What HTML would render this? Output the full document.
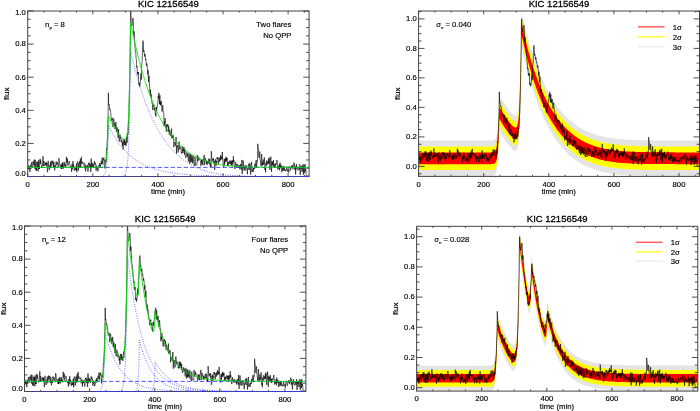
<!DOCTYPE html>
<html lang="en"><head><meta charset="utf-8"><title>KIC 12156549 flare fits</title>
<style>html,body{margin:0;padding:0;background:#fff}svg{display:block}svg text{stroke:#000;stroke-width:.16px}svg text.t{stroke-width:.28px}</style></head>
<body>
<svg width="700" height="411" viewBox="0 0 700 411" font-family="&quot;Liberation Sans&quot;, sans-serif" font-size="7.7" fill="#000">
<rect width="700" height="411" fill="#fff"/>
<defs>
<clipPath id="c1"><rect x="27.7" y="11.0" width="281.4" height="166.0"/></clipPath>
<clipPath id="c2"><rect x="418.6" y="11.0" width="280.9" height="165.9"/></clipPath>
<clipPath id="c3"><rect x="24.5" y="226.0" width="281.4" height="166.0"/></clipPath>
<clipPath id="c4"><rect x="416.6" y="226.3" width="281.2" height="165.3"/></clipPath>
</defs>
<g clip-path="url(#c1)">
<path d="M27.7 160.6 L28.0 168.4 L28.4 169.4 L28.7 165.7 L29.0 168.4 L29.3 166.7 L29.7 167.1 L30.0 172.1 L30.3 164.8 L30.6 165.3 L31.0 168.7 L31.3 164.4 L31.6 162.3 L31.9 166.1 L32.3 166.6 L32.6 167.7 L32.9 161.7 L33.2 163.0 L33.6 161.9 L33.9 165.3 L34.2 159.6 L34.5 165.0 L34.9 168.7 L35.2 159.9 L35.5 165.8 L35.8 170.2 L36.2 167.7 L36.5 171.0 L36.8 161.7 L37.1 166.5 L37.5 165.0 L37.8 162.0 L38.1 171.3 L38.4 160.3 L38.8 169.1 L39.1 166.4 L39.4 169.0 L39.7 161.2 L40.1 158.8 L40.4 163.8 L40.7 160.3 L41.0 164.3 L41.4 164.8 L41.7 167.3 L42.0 167.5 L42.3 166.9 L42.7 162.1 L43.0 156.3 L43.3 163.3 L43.6 166.0 L44.0 161.2 L44.3 165.8 L44.6 165.4 L45.0 165.0 L45.3 164.8 L45.6 162.8 L45.9 165.4 L46.3 162.1 L46.6 165.7 L46.9 163.2 L47.2 168.7 L47.6 172.2 L47.9 166.1 L48.2 160.8 L48.5 166.5 L48.9 167.9 L49.2 169.2 L49.5 170.1 L49.8 164.9 L50.2 166.6 L50.5 161.6 L50.8 168.2 L51.1 167.5 L51.5 163.1 L51.8 160.7 L52.1 164.5 L52.4 162.3 L52.8 160.8 L53.1 163.1 L53.4 168.0 L53.7 161.8 L54.1 162.4 L54.4 167.0 L54.7 170.3 L55.0 165.0 L55.4 167.7 L55.7 168.0 L56.0 161.7 L56.3 161.4 L56.7 164.8 L57.0 162.7 L57.3 162.3 L57.6 164.0 L58.0 166.1 L58.3 167.2 L58.6 165.4 L58.9 158.2 L59.3 161.2 L59.6 164.0 L59.9 165.5 L60.2 166.5 L60.6 165.7 L60.9 164.6 L61.2 169.0 L61.6 164.7 L61.9 169.0 L62.2 163.0 L62.5 168.1 L62.9 162.3 L63.2 167.6 L63.5 168.5 L63.8 166.1 L64.2 162.0 L64.5 162.2 L64.8 166.5 L65.1 163.9 L65.5 165.4 L65.8 167.4 L66.1 166.9 L66.4 156.8 L66.8 162.2 L67.1 162.8 L67.4 158.6 L67.7 164.5 L68.1 165.6 L68.4 163.9 L68.7 162.5 L69.0 160.9 L69.4 161.6 L69.7 163.9 L70.0 165.8 L70.3 166.3 L70.7 167.8 L71.0 166.4 L71.3 168.0 L71.6 171.7 L72.0 164.1 L72.3 168.4 L72.6 169.3 L72.9 161.1 L73.3 166.5 L73.6 164.7 L73.9 166.7 L74.2 170.0 L74.6 170.9 L74.9 168.3 L75.2 166.8 L75.5 170.0 L75.9 168.2 L76.2 170.1 L76.5 163.5 L76.9 172.3 L77.2 165.1 L77.5 161.5 L77.8 162.8 L78.2 163.0 L78.5 170.5 L78.8 164.2 L79.1 162.3 L79.5 161.3 L79.8 167.6 L80.1 163.6 L80.4 158.9 L80.8 167.3 L81.1 159.8 L81.4 156.9 L81.7 163.5 L82.1 161.6 L82.4 163.2 L82.7 163.3 L83.0 164.2 L83.4 164.1 L83.7 163.8 L84.0 162.5 L84.3 168.3 L84.7 167.7 L85.0 164.4 L85.3 164.5 L85.6 171.5 L86.0 166.1 L86.3 168.1 L86.6 166.8 L86.9 167.7 L87.3 164.8 L87.6 168.7 L87.9 171.6 L88.2 171.1 L88.6 163.0 L88.9 164.2 L89.2 162.6 L89.5 164.5 L89.9 167.9 L90.2 164.0 L90.5 168.8 L90.8 171.9 L91.2 158.5 L91.5 168.2 L91.8 163.3 L92.1 162.7 L92.5 163.7 L92.8 167.0 L93.1 164.0 L93.5 167.9 L93.8 168.1 L94.1 163.0 L94.4 161.4 L94.8 164.3 L95.1 162.5 L95.4 164.1 L95.7 164.0 L96.1 170.7 L96.4 166.1 L96.7 165.7 L97.0 168.6 L97.4 166.9 L97.7 171.2 L98.0 171.1 L98.3 168.9 L98.7 168.7 L99.0 165.1 L99.3 165.9 L99.6 163.0 L100.0 167.4 L100.3 165.0 L100.6 165.9 L100.9 163.3 L101.3 160.9 L101.6 164.2 L101.9 161.0 L102.2 157.6 L102.6 162.3 L102.9 164.6 L103.2 158.4 L103.5 159.4 L103.9 157.6 L104.2 160.6 L104.5 160.2 L104.8 168.4 L105.2 164.8 L105.5 160.4 L105.8 159.5 L106.1 162.4 L106.5 148.6 L106.8 149.6 L107.1 141.3 L107.4 139.9 L107.8 123.8 L108.1 115.2 L108.4 92.8 L108.7 105.0 L109.1 104.4 L109.4 106.8 L109.7 109.7 L110.1 108.9 L110.4 110.7 L110.7 112.3 L111.0 117.5 L111.4 120.6 L111.7 119.8 L112.0 117.7 L112.3 117.9 L112.7 120.0 L113.0 127.2 L113.3 121.2 L113.6 118.6 L114.0 120.2 L114.3 124.9 L114.6 123.5 L114.9 129.0 L115.3 125.3 L115.6 126.2 L115.9 121.9 L116.2 127.2 L116.6 132.1 L116.9 127.2 L117.2 127.9 L117.5 131.8 L117.9 134.4 L118.2 138.1 L118.5 129.0 L118.8 134.3 L119.2 141.4 L119.5 141.3 L119.8 137.3 L120.1 134.8 L120.5 138.2 L120.8 137.6 L121.1 142.2 L121.4 141.3 L121.8 139.5 L122.1 142.5 L122.4 145.6 L122.7 141.6 L123.1 149.5 L123.4 145.6 L123.7 140.9 L124.0 138.8 L124.4 144.7 L124.7 139.2 L125.0 145.0 L125.4 141.6 L125.7 144.0 L126.0 146.0 L126.3 142.4 L126.7 136.7 L127.0 143.1 L127.3 139.9 L127.6 133.4 L128.0 134.4 L128.3 132.1 L128.6 119.6 L128.9 116.0 L129.3 94.7 L129.6 84.5 L129.9 71.3 L130.2 47.7 L130.6 11.0 L130.9 11.4 L131.2 23.7 L131.5 24.6 L131.9 25.3 L132.2 25.9 L132.5 22.1 L132.8 18.0 L133.2 18.5 L133.5 25.5 L133.8 36.1 L134.1 31.5 L134.5 38.6 L134.8 44.5 L135.1 48.8 L135.4 50.7 L135.8 53.1 L136.1 58.9 L136.4 59.5 L136.7 67.3 L137.1 66.1 L137.4 73.6 L137.7 72.2 L138.0 74.9 L138.4 72.0 L138.7 83.2 L139.0 85.1 L139.3 82.8 L139.7 86.6 L140.0 85.6 L140.3 82.4 L140.6 78.7 L141.0 73.6 L141.3 79.7 L141.6 65.7 L142.0 62.6 L142.3 58.1 L142.6 45.5 L142.9 40.6 L143.3 41.5 L143.6 52.0 L143.9 50.3 L144.2 52.3 L144.6 56.5 L144.9 54.0 L145.2 54.9 L145.5 60.1 L145.9 59.2 L146.2 62.5 L146.5 65.8 L146.8 63.4 L147.2 65.3 L147.5 70.3 L147.8 74.6 L148.1 70.2 L148.5 82.1 L148.8 78.0 L149.1 75.7 L149.4 83.0 L149.8 90.1 L150.1 93.7 L150.4 89.6 L150.7 96.4 L151.1 94.1 L151.4 96.0 L151.7 101.1 L152.0 103.7 L152.4 103.4 L152.7 110.0 L153.0 108.2 L153.3 105.6 L153.7 106.2 L154.0 104.6 L154.3 110.3 L154.6 108.5 L155.0 108.1 L155.3 114.7 L155.6 113.9 L155.9 116.5 L156.3 107.0 L156.6 110.5 L156.9 108.6 L157.2 106.2 L157.6 104.2 L157.9 102.1 L158.2 95.8 L158.6 98.3 L158.9 92.8 L159.2 97.9 L159.5 103.9 L159.9 95.3 L160.2 104.9 L160.5 101.9 L160.8 105.4 L161.2 100.9 L161.5 103.5 L161.8 108.6 L162.1 111.6 L162.5 107.5 L162.8 105.2 L163.1 110.6 L163.4 112.7 L163.8 114.3 L164.1 126.2 L164.4 121.8 L164.7 124.2 L165.1 118.1 L165.4 124.8 L165.7 126.3 L166.0 126.3 L166.4 131.5 L166.7 124.4 L167.0 126.9 L167.3 124.5 L167.7 125.5 L168.0 124.5 L168.3 131.3 L168.6 126.2 L169.0 128.4 L169.3 134.7 L169.6 129.9 L169.9 131.1 L170.3 133.1 L170.6 136.0 L170.9 136.1 L171.2 133.1 L171.6 128.6 L171.9 138.6 L172.2 136.0 L172.5 138.0 L172.9 135.1 L173.2 135.3 L173.5 135.3 L173.8 147.2 L174.2 143.5 L174.5 142.2 L174.8 142.9 L175.2 144.3 L175.5 145.7 L175.8 141.3 L176.1 137.0 L176.5 153.6 L176.8 146.5 L177.1 147.3 L177.4 145.0 L177.8 147.1 L178.1 152.5 L178.4 151.7 L178.7 144.3 L179.1 141.6 L179.4 143.8 L179.7 149.4 L180.0 147.7 L180.4 146.7 L180.7 147.0 L181.0 149.3 L181.3 153.1 L181.7 152.3 L182.0 153.5 L182.3 147.3 L182.6 146.4 L183.0 153.0 L183.3 147.9 L183.6 150.9 L183.9 147.0 L184.3 149.2 L184.6 154.6 L184.9 149.3 L185.2 154.8 L185.6 157.9 L185.9 157.4 L186.2 155.7 L186.5 154.7 L186.9 152.3 L187.2 156.6 L187.5 154.2 L187.8 153.7 L188.2 159.6 L188.5 161.5 L188.8 154.3 L189.1 153.2 L189.5 159.4 L189.8 163.6 L190.1 156.1 L190.4 154.3 L190.8 162.3 L191.1 154.9 L191.4 158.2 L191.8 161.5 L192.1 157.0 L192.4 163.3 L192.7 158.6 L193.1 155.2 L193.4 159.4 L193.7 162.3 L194.0 164.9 L194.4 165.1 L194.7 166.0 L195.0 156.7 L195.3 164.0 L195.7 165.2 L196.0 165.3 L196.3 164.8 L196.6 165.1 L197.0 164.9 L197.3 155.0 L197.6 161.0 L197.9 161.1 L198.3 160.5 L198.6 156.7 L198.9 158.4 L199.2 159.5 L199.6 159.2 L199.9 158.8 L200.2 160.7 L200.5 162.7 L200.9 165.9 L201.2 164.8 L201.5 159.8 L201.8 163.5 L202.2 159.5 L202.5 160.6 L202.8 165.2 L203.1 160.3 L203.5 158.7 L203.8 158.0 L204.1 154.9 L204.4 165.1 L204.8 162.5 L205.1 157.7 L205.4 158.8 L205.7 160.4 L206.1 160.1 L206.4 163.8 L206.7 160.8 L207.1 165.0 L207.4 161.7 L207.7 162.1 L208.0 163.1 L208.4 158.7 L208.7 159.4 L209.0 163.9 L209.3 164.0 L209.7 158.8 L210.0 160.7 L210.3 166.4 L210.6 163.6 L211.0 167.0 L211.3 151.2 L211.6 154.7 L211.9 158.4 L212.3 161.4 L212.6 160.6 L212.9 158.6 L213.2 160.5 L213.6 158.2 L213.9 163.2 L214.2 160.8 L214.5 169.9 L214.9 169.6 L215.2 163.4 L215.5 159.4 L215.8 164.5 L216.2 165.8 L216.5 161.2 L216.8 162.7 L217.1 157.0 L217.5 158.9 L217.8 157.5 L218.1 160.7 L218.4 164.3 L218.8 159.9 L219.1 158.1 L219.4 161.7 L219.7 161.0 L220.1 157.0 L220.4 160.3 L220.7 155.1 L221.0 158.8 L221.4 159.4 L221.7 156.7 L222.0 159.1 L222.3 151.9 L222.7 160.9 L223.0 161.7 L223.3 166.4 L223.7 167.6 L224.0 166.6 L224.3 158.8 L224.6 164.5 L225.0 161.0 L225.3 158.8 L225.6 161.8 L225.9 156.7 L226.3 161.3 L226.6 158.0 L226.9 160.0 L227.2 157.9 L227.6 166.1 L227.9 162.1 L228.2 164.8 L228.5 166.2 L228.9 161.6 L229.2 163.7 L229.5 163.0 L229.8 160.4 L230.2 160.8 L230.5 164.4 L230.8 160.8 L231.1 161.8 L231.5 165.1 L231.8 160.7 L232.1 166.1 L232.4 160.3 L232.8 163.6 L233.1 162.5 L233.4 156.3 L233.7 162.0 L234.1 160.5 L234.4 166.7 L234.7 167.7 L235.0 169.0 L235.4 164.0 L235.7 162.3 L236.0 165.2 L236.3 164.5 L236.7 166.9 L237.0 167.7 L237.3 165.4 L237.6 164.1 L238.0 164.3 L238.3 166.2 L238.6 167.6 L238.9 168.0 L239.3 166.0 L239.6 165.2 L239.9 169.5 L240.3 167.1 L240.6 164.0 L240.9 167.5 L241.2 168.0 L241.6 169.7 L241.9 159.9 L242.2 173.9 L242.5 170.3 L242.9 167.5 L243.2 160.5 L243.5 165.3 L243.8 168.5 L244.2 170.5 L244.5 165.9 L244.8 165.5 L245.1 170.4 L245.5 170.3 L245.8 170.0 L246.1 165.2 L246.4 166.3 L246.8 168.6 L247.1 169.1 L247.4 174.2 L247.7 168.5 L248.1 169.6 L248.4 164.8 L248.7 163.8 L249.0 168.3 L249.4 169.9 L249.7 163.1 L250.0 163.3 L250.3 167.4 L250.7 174.5 L251.0 167.4 L251.3 164.8 L251.6 161.9 L252.0 171.9 L252.3 169.9 L252.6 169.4 L252.9 168.6 L253.3 171.9 L253.6 168.1 L253.9 169.2 L254.2 167.7 L254.6 168.7 L254.9 163.8 L255.2 167.3 L255.5 164.2 L255.9 162.1 L256.2 160.0 L256.5 167.2 L256.9 163.8 L257.2 161.1 L257.5 161.2 L257.8 143.8 L258.2 149.0 L258.5 150.0 L258.8 156.6 L259.1 157.8 L259.5 153.7 L259.8 151.5 L260.1 159.5 L260.4 160.5 L260.8 165.4 L261.1 166.2 L261.4 157.1 L261.7 154.1 L262.1 165.3 L262.4 162.4 L262.7 165.4 L263.0 159.6 L263.4 160.3 L263.7 164.7 L264.0 163.0 L264.3 157.3 L264.7 165.1 L265.0 170.0 L265.3 168.0 L265.6 172.3 L266.0 162.6 L266.3 165.8 L266.6 160.4 L266.9 160.5 L267.3 164.6 L267.6 163.9 L267.9 161.4 L268.2 163.3 L268.6 158.5 L268.9 164.0 L269.2 157.7 L269.5 163.6 L269.9 169.8 L270.2 165.0 L270.5 162.8 L270.8 156.7 L271.2 165.6 L271.5 171.8 L271.8 161.4 L272.2 164.6 L272.5 161.7 L272.8 163.8 L273.1 166.5 L273.5 160.1 L273.8 166.6 L274.1 167.1 L274.4 167.9 L274.8 163.8 L275.1 167.7 L275.4 163.5 L275.7 164.7 L276.1 164.1 L276.4 164.3 L276.7 161.2 L277.0 160.0 L277.4 163.8 L277.7 169.5 L278.0 169.0 L278.3 166.2 L278.7 168.5 L279.0 167.2 L279.3 164.1 L279.6 170.3 L280.0 162.6 L280.3 164.3 L280.6 168.0 L280.9 165.3 L281.3 165.0 L281.6 169.4 L281.9 172.1 L282.2 166.5 L282.6 169.1 L282.9 170.7 L283.2 170.2 L283.5 166.1 L283.9 170.6 L284.2 170.3 L284.5 166.7 L284.8 170.7 L285.2 170.0 L285.5 171.2 L285.8 170.4 L286.1 169.3 L286.5 169.5 L286.8 166.4 L287.1 171.3 L287.4 171.5 L287.8 169.7 L288.1 168.8 L288.4 169.9 L288.8 172.6 L289.1 166.3 L289.4 166.4 L289.7 166.8 L290.1 168.0 L290.4 170.4 L290.7 170.6 L291.0 167.9 L291.4 166.4 L291.7 165.6 L292.0 167.9 L292.3 165.2 L292.7 166.8 L293.0 169.2 L293.3 166.2 L293.6 165.7 L294.0 162.6 L294.3 165.3 L294.6 164.5 L294.9 170.0 L295.3 166.2 L295.6 174.4 L295.9 168.5 L296.2 169.0 L296.6 164.2 L296.9 168.1 L297.2 168.8 L297.5 169.5 L297.9 170.4 L298.2 167.1 L298.5 168.0 L298.8 167.2 L299.2 170.0 L299.5 168.3 L299.8 164.3 L300.1 174.9 L300.5 173.2 L300.8 166.5 L301.1 168.6 L301.4 169.1 L301.8 165.8 L302.1 172.0 L302.4 168.7 L302.7 165.4 L303.1 164.2 L303.4 174.6 L303.7 166.8 L304.0 165.3 L304.4 173.1 L304.7 173.0 L305.0 164.1 L305.4 171.3 L305.7 169.4 L306.0 171.8 L306.3 176.5 L306.7 175.8 L307.0 175.8 L307.3 175.8 L307.6 175.8 L308.0 175.8 L308.3 175.8 L308.6 175.8 L308.9 175.8 L309.3 175.8" fill="none" stroke="#000" stroke-width="0.62" stroke-linejoin="round"/>
</g>
<path d="M27.70 176.50v-3.31M27.70 11.00v3.31M43.98 176.50v-1.66M43.98 11.00v1.66M60.25 176.50v-1.66M60.25 11.00v1.66M76.53 176.50v-1.66M76.53 11.00v1.66M92.80 176.50v-3.31M92.80 11.00v3.31M109.08 176.50v-1.66M109.08 11.00v1.66M125.35 176.50v-1.66M125.35 11.00v1.66M141.62 176.50v-1.66M141.62 11.00v1.66M157.90 176.50v-3.31M157.90 11.00v3.31M174.17 176.50v-1.66M174.17 11.00v1.66M190.45 176.50v-1.66M190.45 11.00v1.66M206.72 176.50v-1.66M206.72 11.00v1.66M223.00 176.50v-3.31M223.00 11.00v3.31M239.28 176.50v-1.66M239.28 11.00v1.66M255.55 176.50v-1.66M255.55 11.00v1.66M271.82 176.50v-1.66M271.82 11.00v1.66M288.10 176.50v-3.31M288.10 11.00v3.31M304.38 176.50v-1.66M304.38 11.00v1.66M27.70 176.50h5.91M309.10 176.50h-5.91M27.70 168.22h2.95M309.10 168.22h-2.95M27.70 159.95h2.95M309.10 159.95h-2.95M27.70 151.68h2.95M309.10 151.68h-2.95M27.70 143.40h5.91M309.10 143.40h-5.91M27.70 135.12h2.95M309.10 135.12h-2.95M27.70 126.85h2.95M309.10 126.85h-2.95M27.70 118.57h2.95M309.10 118.57h-2.95M27.70 110.30h5.91M309.10 110.30h-5.91M27.70 102.02h2.95M309.10 102.02h-2.95M27.70 93.75h2.95M309.10 93.75h-2.95M27.70 85.47h2.95M309.10 85.47h-2.95M27.70 77.20h5.91M309.10 77.20h-5.91M27.70 68.92h2.95M309.10 68.92h-2.95M27.70 60.65h2.95M309.10 60.65h-2.95M27.70 52.38h2.95M309.10 52.38h-2.95M27.70 44.10h5.91M309.10 44.10h-5.91M27.70 35.82h2.95M309.10 35.82h-2.95M27.70 27.55h2.95M309.10 27.55h-2.95M27.70 19.27h2.95M309.10 19.27h-2.95M27.70 11.00h5.91M309.10 11.00h-5.91" stroke="#222" stroke-width="0.8" fill="none"/>
<rect x="27.70" y="11.00" width="281.40" height="165.50" fill="none" stroke="#444" stroke-width="1"/>
<text x="27.7" y="186.8" text-anchor="middle">0</text>
<text x="92.8" y="186.8" text-anchor="middle">200</text>
<text x="157.9" y="186.8" text-anchor="middle">400</text>
<text x="223.0" y="186.8" text-anchor="middle">600</text>
<text x="288.1" y="186.8" text-anchor="middle">800</text>
<text x="168.1" y="194.3" text-anchor="middle">time (min)</text>
<text x="25.9" y="176.2" text-anchor="end">0.0</text>
<text x="25.9" y="145.7" text-anchor="end">0.2</text>
<text x="25.9" y="112.6" text-anchor="end">0.4</text>
<text x="25.9" y="79.5" text-anchor="end">0.6</text>
<text x="25.9" y="46.4" text-anchor="end">0.8</text>
<text x="25.9" y="15.4" text-anchor="end">1.0</text>
<text transform="translate(9.1 93.8) rotate(-90)" text-anchor="middle" font-size="8">flux</text>
<text x="168.4" y="6.6" class="t" text-anchor="middle" font-size="9.5" fill="#000">KIC 12156549</text>
<g clip-path="url(#c1)">
<path d="M27.7 176.5H309.1" fill="none" stroke="#3a3aff" stroke-width="0.8" stroke-dasharray="0.9 1.5"/>
<path d="M100.9 176.5 L101.1 176.5 L101.3 176.5 L101.4 176.5 L101.6 176.5 L101.8 176.3 L101.9 176.3 L102.1 176.3 L102.2 176.2 L102.4 176.2 L102.6 176.2 L102.7 176.1 L102.9 176.0 L103.1 176.0 L103.2 175.9 L103.4 175.8 L103.5 175.7 L103.7 175.6 L103.9 175.4 L104.0 175.3 L104.2 175.1 L104.4 174.9 L104.5 174.7 L104.7 174.4 L104.8 174.1 L105.0 173.7 L105.2 173.3 L105.3 172.8 L105.5 172.3 L105.7 171.7 L105.8 170.9 L106.0 170.1 L106.1 169.2 L106.3 168.1 L106.5 166.8 L106.6 165.4 L106.8 163.7 L107.0 161.8 L107.1 159.6 L107.3 157.1 L107.4 154.2 L107.6 150.9 L107.8 147.1 L107.9 142.7 L108.1 137.6 L108.3 131.8 L108.4 125.2 L108.6 125.5 L108.7 125.9 L108.9 126.2 L109.1 126.6 L109.2 126.9 L109.4 127.2 L109.6 127.6 L109.7 127.9 L109.9 128.2 L110.1 128.5 L110.2 128.9 L110.4 129.2 L110.5 129.5 L110.7 129.8 L110.9 130.1 L111.0 130.5 L111.2 130.8 L111.4 131.1 L111.5 131.4 L111.7 131.7 L111.8 132.0 L112.0 132.3 L112.2 132.6 L112.3 132.9 L112.5 133.2 L112.7 133.5 L112.8 133.8 L113.0 134.0 L113.6 135.2 L114.3 136.3 L114.9 137.3 L115.6 138.4 L116.2 139.4 L116.9 140.4 L117.5 141.4 L118.2 142.3 L118.8 143.2 L119.5 144.1 L120.1 145.0 L120.8 145.8 L121.0 146.0 L121.1 146.2 L121.3 146.4 L121.4 146.6 L121.6 146.8 L121.8 147.0 L121.9 147.2 L122.1 147.4 L122.3 147.6 L122.4 147.8 L122.6 148.0 L122.7 148.2 L122.9 148.4 L123.1 148.6 L123.2 148.8 L123.4 148.9 L123.6 149.1 L123.7 149.3 L123.9 149.5 L124.0 149.7 L124.2 149.9 L124.4 150.0 L124.5 150.2 L124.7 150.4 L124.9 150.6 L125.0 150.7 L125.2 150.9 L125.4 151.1 L125.5 151.3 L125.7 151.4 L125.8 151.6 L126.0 151.8 L126.2 151.9 L126.3 152.1 L126.5 152.3 L126.7 152.4 L126.8 152.6 L127.0 152.8 L127.1 152.9 L127.3 153.1 L127.5 153.2 L127.6 153.4 L127.8 153.5 L128.0 153.7 L128.1 153.8 L128.3 154.0 L128.4 154.2 L128.6 154.3 L128.8 154.5 L128.9 154.6 L129.1 154.7 L129.3 154.9 L129.4 155.0 L129.6 155.2 L129.7 155.3 L129.9 155.5 L130.1 155.6 L130.2 155.8 L130.4 155.9 L130.6 156.0 L130.7 156.2 L130.9 156.3 L131.0 156.4 L131.2 156.6 L131.4 156.7 L131.5 156.8 L131.7 157.0 L131.9 157.1 L132.0 157.2 L132.2 157.4 L132.3 157.5 L132.5 157.6 L132.7 157.8 L132.8 157.9 L133.0 158.0 L133.2 158.1 L133.3 158.3 L133.5 158.4 L133.7 158.5 L133.8 158.6 L134.0 158.7 L134.1 158.9 L134.3 159.0 L134.5 159.1 L134.6 159.2 L134.8 159.3 L135.0 159.4 L135.1 159.6 L135.8 160.0 L136.4 160.5 L137.1 160.9 L137.7 161.3 L137.9 161.4 L138.0 161.5 L138.2 161.6 L138.4 161.7 L138.5 161.8 L138.7 161.9 L138.9 162.0 L139.0 162.1 L139.2 162.2 L139.3 162.3 L139.5 162.4 L139.7 162.5 L139.8 162.6 L140.0 162.7 L140.2 162.8 L140.3 162.9 L140.5 162.9 L140.6 163.0 L140.8 163.1 L141.0 163.2 L141.1 163.3 L141.3 163.4 L141.5 163.5 L141.6 163.6 L141.8 163.7 L142.0 163.7 L142.1 163.8 L142.3 163.9 L142.4 164.0 L142.6 164.1 L142.8 164.2 L142.9 164.3 L143.1 164.3 L143.3 164.4 L143.4 164.5 L143.6 164.6 L143.7 164.7 L143.9 164.7 L144.1 164.8 L144.2 164.9 L144.4 165.0 L144.6 165.1 L144.7 165.1 L144.9 165.2 L145.0 165.3 L145.2 165.4 L145.4 165.4 L145.5 165.5 L146.2 165.8 L146.8 166.1 L147.5 166.4 L148.1 166.6 L148.8 166.9 L149.4 167.2 L150.1 167.4 L150.7 167.6 L151.4 167.9 L152.0 168.1 L152.7 168.3 L153.3 168.6 L154.0 168.8 L154.6 169.0 L154.8 169.0 L155.0 169.1 L155.1 169.1 L155.3 169.2 L155.5 169.2 L155.6 169.3 L155.8 169.3 L155.9 169.4 L156.1 169.4 L156.3 169.5 L156.4 169.5 L156.6 169.6 L156.8 169.6 L156.9 169.6 L157.1 169.7 L157.2 169.7 L157.4 169.8 L157.6 169.8 L157.7 169.9 L157.9 169.9 L158.1 170.0 L158.2 170.0 L158.4 170.1 L158.6 170.1 L158.7 170.1 L158.9 170.2 L159.0 170.2 L159.2 170.3 L159.4 170.3 L159.5 170.4 L159.7 170.4 L159.9 170.4 L160.0 170.5 L160.2 170.5 L160.3 170.6 L160.5 170.6 L160.7 170.6 L160.8 170.7 L161.0 170.7 L161.2 170.8 L162.1 171.0 L163.1 171.2 L164.1 171.4 L165.1 171.6 L166.0 171.8 L167.0 172.0 L168.0 172.2 L169.0 172.3 L169.9 172.5 L170.9 172.7 L171.9 172.8 L172.9 173.0 L173.8 173.1 L174.8 173.2 L175.8 173.4 L176.8 173.5 L177.8 173.6 L178.7 173.7 L179.7 173.8 L180.7 173.9 L181.7 174.0 L182.6 174.1 L183.6 174.2 L184.6 174.3 L185.6 174.4 L186.5 174.5 L187.5 174.6 L188.5 174.7 L189.5 174.7 L190.4 174.8 L191.4 174.9 L192.4 174.9 L193.4 175.0 L194.4 175.1 L195.3 175.1 L196.3 175.2 L197.3 175.2 L198.3 175.3 L199.2 175.3 L200.2 175.4 L201.2 175.4 L202.2 175.5 L203.1 175.5 L204.1 175.5 L205.1 175.6 L206.1 175.6 L207.1 175.6 L208.0 175.7 L209.0 175.7 L210.0 175.7 L211.0 175.8 L211.9 175.8 L212.9 175.8 L213.9 175.9 L214.9 175.9 L215.8 175.9 L216.8 175.9 L217.8 176.0 L218.8 176.0 L219.7 176.0 L220.7 176.0 L221.7 176.0 L222.7 176.1 L223.0 176.1 L225.6 176.1 L228.2 176.1 L230.8 176.2 L233.4 176.2 L236.0 176.2 L238.6 176.3 L241.2 176.3 L243.8 176.3 L246.4 176.3 L249.0 176.5 L251.6 176.5 L254.2 176.5 L256.9 176.5 L259.5 176.5 L262.1 176.5 L264.7 176.5 L267.3 176.5 L269.9 176.5 L272.5 176.5 L275.1 176.5 L277.7 176.5 L280.3 176.5 L282.9 176.5 L285.5 176.5 L288.1 176.5 L290.7 176.5 L293.3 176.5 L295.9 176.5 L298.5 176.5 L301.1 176.5 L303.7 176.5 L306.3 176.5 L308.9 176.5 L309.4 176.5" fill="none" stroke="#3a3aff" stroke-width="0.8" stroke-dasharray="0.9 1.5"/>
<path d="M100.9 176.5 L101.1 176.5 L101.3 176.5 L101.4 176.5 L101.6 176.5 L101.8 176.5 L101.9 176.5 L102.1 176.5 L102.2 176.5 L102.4 176.5 L102.6 176.5 L102.7 176.5 L102.9 176.5 L103.1 176.5 L103.2 176.5 L103.4 176.5 L103.5 176.5 L103.7 176.5 L103.9 176.5 L104.0 176.5 L104.2 176.5 L104.4 176.5 L104.5 176.5 L104.7 176.5 L104.8 176.5 L105.0 176.5 L105.2 176.5 L105.3 176.5 L105.5 176.5 L105.7 176.5 L105.8 176.5 L106.0 176.5 L106.1 176.5 L106.3 176.5 L106.5 176.5 L106.6 176.5 L106.8 176.5 L107.0 176.5 L107.1 176.5 L107.3 176.5 L107.4 176.5 L107.6 176.5 L107.8 176.5 L107.9 176.5 L108.1 176.5 L108.3 176.5 L108.4 176.5 L108.6 176.5 L108.7 176.5 L108.9 176.5 L109.1 176.5 L109.2 176.5 L109.4 176.5 L109.6 176.5 L109.7 176.5 L109.9 176.5 L110.1 176.5 L110.2 176.5 L110.4 176.5 L110.5 176.5 L110.7 176.5 L110.9 176.5 L111.0 176.5 L111.2 176.5 L111.4 176.5 L111.5 176.5 L111.7 176.5 L111.8 176.5 L112.0 176.5 L112.2 176.5 L112.3 176.5 L112.5 176.5 L112.7 176.5 L112.8 176.5 L113.0 176.5 L113.6 176.5 L114.3 176.5 L114.9 176.5 L115.6 176.5 L116.2 176.5 L116.9 176.5 L117.5 176.5 L118.2 176.5 L118.8 176.5 L119.5 176.5 L120.1 176.5 L120.8 176.5 L121.0 176.5 L121.1 176.5 L121.3 176.5 L121.4 176.5 L121.6 176.3 L121.8 176.3 L121.9 176.3 L122.1 176.2 L122.3 176.2 L122.4 176.2 L122.6 176.1 L122.7 176.1 L122.9 176.0 L123.1 176.0 L123.2 175.9 L123.4 175.8 L123.6 175.8 L123.7 175.7 L123.9 175.6 L124.0 175.4 L124.2 175.3 L124.4 175.1 L124.5 175.0 L124.7 174.8 L124.9 174.6 L125.0 174.3 L125.2 174.0 L125.4 173.7 L125.5 173.4 L125.7 173.0 L125.8 172.5 L126.0 172.0 L126.2 171.5 L126.3 170.8 L126.5 170.1 L126.7 169.3 L126.8 168.4 L127.0 167.4 L127.1 166.2 L127.3 164.9 L127.5 163.5 L127.6 161.8 L127.8 160.0 L128.0 157.9 L128.1 155.5 L128.3 152.9 L128.4 149.9 L128.6 146.5 L128.8 142.7 L128.9 138.5 L129.1 133.6 L129.3 128.2 L129.4 122.1 L129.6 115.2 L129.7 107.5 L129.9 98.8 L130.1 89.0 L130.2 77.9 L130.4 65.4 L130.6 51.4 L130.7 52.1 L130.9 52.8 L131.0 53.5 L131.2 54.2 L131.4 54.9 L131.5 55.6 L131.7 56.3 L131.9 56.9 L132.0 57.6 L132.2 58.3 L132.3 59.0 L132.5 59.6 L132.7 60.3 L132.8 61.0 L133.0 61.6 L133.2 62.3 L133.3 62.9 L133.5 63.5 L133.7 64.2 L133.8 64.8 L134.0 65.5 L134.1 66.1 L134.3 66.7 L134.5 67.3 L134.6 68.0 L134.8 68.6 L135.0 69.2 L135.1 69.8 L135.8 72.2 L136.4 74.6 L137.1 76.9 L137.7 79.1 L137.9 79.7 L138.0 80.2 L138.2 80.8 L138.4 81.3 L138.5 81.8 L138.7 82.4 L138.9 82.9 L139.0 83.5 L139.2 84.0 L139.3 84.5 L139.5 85.0 L139.7 85.6 L139.8 86.1 L140.0 86.6 L140.2 87.1 L140.3 87.6 L140.5 88.1 L140.6 88.6 L140.8 89.1 L141.0 89.6 L141.1 90.1 L141.3 90.6 L141.5 91.1 L141.6 91.6 L141.8 92.1 L142.0 92.6 L142.1 93.1 L142.3 93.5 L142.4 94.0 L142.6 94.5 L142.8 95.0 L142.9 95.4 L143.1 95.9 L143.3 96.4 L143.4 96.8 L143.6 97.3 L143.7 97.7 L143.9 98.2 L144.1 98.7 L144.2 99.1 L144.4 99.6 L144.6 100.0 L144.7 100.4 L144.9 100.9 L145.0 101.3 L145.2 101.7 L145.4 102.2 L145.5 102.6 L146.2 104.3 L146.8 106.0 L147.5 107.6 L148.1 109.2 L148.8 110.8 L149.4 112.3 L150.1 113.8 L150.7 115.3 L151.4 116.7 L152.0 118.1 L152.7 119.5 L153.3 120.8 L154.0 122.1 L154.6 123.4 L154.8 123.7 L155.0 124.1 L155.1 124.4 L155.3 124.7 L155.5 125.0 L155.6 125.3 L155.8 125.6 L155.9 125.9 L156.1 126.2 L156.3 126.5 L156.4 126.8 L156.6 127.1 L156.8 127.4 L156.9 127.7 L157.1 128.0 L157.2 128.3 L157.4 128.6 L157.6 128.9 L157.7 129.2 L157.9 129.5 L158.1 129.8 L158.2 130.1 L158.4 130.3 L158.6 130.6 L158.7 130.9 L158.9 131.2 L159.0 131.5 L159.2 131.7 L159.4 132.0 L159.5 132.3 L159.7 132.6 L159.9 132.8 L160.0 133.1 L160.2 133.4 L160.3 133.6 L160.5 133.9 L160.7 134.2 L160.8 134.4 L161.0 134.7 L161.2 134.9 L162.1 136.5 L163.1 138.0 L164.1 139.4 L165.1 140.8 L166.0 142.1 L167.0 143.4 L168.0 144.7 L169.0 145.9 L169.9 147.1 L170.9 148.2 L171.9 149.3 L172.9 150.4 L173.8 151.4 L174.8 152.4 L175.8 153.4 L176.8 154.3 L177.8 155.2 L178.7 156.1 L179.7 157.0 L180.7 157.8 L181.7 158.6 L182.6 159.3 L183.6 160.1 L184.6 160.8 L185.6 161.5 L186.5 162.1 L187.5 162.8 L188.5 163.4 L189.5 164.0 L190.4 164.5 L191.4 165.1 L192.4 165.6 L193.4 166.1 L194.4 166.6 L195.3 167.1 L196.3 167.5 L197.3 167.9 L198.3 168.4 L199.2 168.8 L200.2 169.1 L201.2 169.5 L202.2 169.9 L203.1 170.2 L204.1 170.5 L205.1 170.8 L206.1 171.1 L207.1 171.4 L208.0 171.7 L209.0 171.9 L210.0 172.2 L211.0 172.4 L211.9 172.7 L212.9 172.9 L213.9 173.1 L214.9 173.3 L215.8 173.5 L216.8 173.6 L217.8 173.8 L218.8 174.0 L219.7 174.1 L220.7 174.3 L221.7 174.4 L222.7 174.5 L223.0 174.6 L225.6 174.9 L228.2 175.1 L230.8 175.4 L233.4 175.6 L236.0 175.7 L238.6 175.9 L241.2 176.0 L243.8 176.1 L246.4 176.2 L249.0 176.2 L251.6 176.3 L254.2 176.3 L256.9 176.5 L259.5 176.5 L262.1 176.5 L264.7 176.5 L267.3 176.5 L269.9 176.5 L272.5 176.5 L275.1 176.5 L277.7 176.5 L280.3 176.5 L282.9 176.5 L285.5 176.5 L288.1 176.5 L290.7 176.5 L293.3 176.5 L295.9 176.5 L298.5 176.5 L301.1 176.5 L303.7 176.5 L306.3 176.5 L308.9 176.5 L309.4 176.5" fill="none" stroke="#3a3aff" stroke-width="0.8" stroke-dasharray="0.9 1.5"/>
<path d="M27.7 167.4H309.1" fill="none" stroke="#2a2aff" stroke-width="0.8" stroke-dasharray="4.2 2.3"/>
<path d="M27.7 167.4 L31.0 167.4 L34.2 167.4 L37.5 167.4 L40.7 167.4 L44.0 167.4 L47.2 167.4 L50.5 167.4 L53.7 167.4 L57.0 167.4 L60.2 167.4 L63.5 167.4 L66.8 167.4 L70.0 167.4 L73.3 167.4 L76.5 167.4 L79.8 167.4 L83.0 167.4 L86.3 167.4 L89.5 167.4 L92.8 167.4 L96.1 167.4 L97.7 167.4 L97.8 167.4 L98.0 167.4 L98.2 167.4 L98.3 167.4 L98.5 167.4 L98.7 167.4 L98.8 167.4 L99.0 167.4 L99.1 167.4 L99.3 167.4 L99.5 167.4 L99.6 167.4 L99.8 167.4 L100.0 167.4 L100.1 167.4 L100.3 167.3 L100.4 167.3 L100.6 167.3 L100.8 167.3 L100.9 167.3 L101.1 167.3 L101.3 167.3 L101.4 167.3 L101.6 167.2 L101.8 167.2 L101.9 167.2 L102.1 167.2 L102.2 167.1 L102.4 167.1 L102.6 167.1 L102.7 167.0 L102.9 166.9 L103.1 166.9 L103.2 166.8 L103.4 166.7 L103.5 166.6 L103.7 166.5 L103.9 166.3 L104.0 166.2 L104.2 166.0 L104.4 165.8 L104.5 165.6 L104.7 165.3 L104.8 165.0 L105.0 164.6 L105.2 164.2 L105.3 163.7 L105.5 163.2 L105.7 162.6 L105.8 161.8 L106.0 161.0 L106.1 160.1 L106.3 159.0 L106.5 157.7 L106.6 156.3 L106.8 154.6 L107.0 152.7 L107.1 150.5 L107.3 148.0 L107.4 145.1 L107.6 141.8 L107.8 138.0 L107.9 133.6 L108.1 128.5 L108.3 122.7 L108.4 116.1 L108.6 116.4 L108.7 116.8 L108.9 117.1 L109.1 117.5 L109.2 117.8 L109.4 118.1 L109.6 118.5 L109.7 118.8 L109.9 119.1 L110.1 119.4 L110.2 119.8 L110.4 120.1 L110.5 120.4 L110.7 120.7 L110.9 121.0 L111.0 121.3 L111.2 121.7 L111.4 122.0 L111.5 122.3 L111.7 122.6 L111.8 122.9 L112.0 123.2 L112.2 123.5 L112.3 123.8 L112.5 124.1 L112.7 124.4 L112.8 124.6 L113.0 124.9 L113.6 126.1 L114.3 127.2 L114.9 128.2 L115.6 129.3 L116.2 130.3 L116.9 131.3 L117.5 132.2 L118.2 133.2 L118.8 134.1 L119.5 135.0 L120.1 135.8 L120.8 136.6 L121.0 136.8 L121.1 137.0 L121.3 137.2 L121.4 137.4 L121.6 137.5 L121.8 137.7 L121.9 137.9 L122.1 138.1 L122.3 138.2 L122.4 138.4 L122.6 138.5 L122.7 138.7 L122.9 138.8 L123.1 138.9 L123.2 139.1 L123.4 139.2 L123.6 139.3 L123.7 139.4 L123.9 139.4 L124.0 139.5 L124.2 139.6 L124.4 139.6 L124.5 139.6 L124.7 139.6 L124.9 139.5 L125.0 139.5 L125.2 139.4 L125.4 139.2 L125.5 139.0 L125.7 138.8 L125.8 138.5 L126.0 138.2 L126.2 137.8 L126.3 137.3 L126.5 136.8 L126.7 136.1 L126.8 135.4 L127.0 134.5 L127.1 133.5 L127.3 132.4 L127.5 131.1 L127.6 129.6 L127.8 127.9 L128.0 126.0 L128.1 123.8 L128.3 121.3 L128.4 118.4 L128.6 115.2 L128.8 111.6 L128.9 107.5 L129.1 102.8 L129.3 97.5 L129.4 91.6 L129.6 84.8 L129.7 77.2 L129.9 68.7 L130.1 59.0 L130.2 48.0 L130.4 35.7 L130.6 21.8 L130.7 22.7 L130.9 23.5 L131.0 24.3 L131.2 25.2 L131.4 26.0 L131.5 26.8 L131.7 27.6 L131.9 28.4 L132.0 29.3 L132.2 30.1 L132.3 30.9 L132.5 31.7 L132.7 32.4 L132.8 33.2 L133.0 34.0 L133.2 34.8 L133.3 35.6 L133.5 36.3 L133.7 37.1 L133.8 37.8 L134.0 38.6 L134.1 39.3 L134.3 40.1 L134.5 40.8 L134.6 41.6 L134.8 42.3 L135.0 43.0 L135.1 43.8 L135.8 46.6 L136.4 49.4 L137.1 52.1 L137.7 54.8 L137.9 55.5 L138.0 56.1 L138.2 56.8 L138.4 57.4 L138.5 58.0 L138.7 58.7 L138.9 59.3 L139.0 59.9 L139.2 60.6 L139.3 61.2 L139.5 61.8 L139.7 62.4 L139.8 63.1 L140.0 63.7 L140.2 64.3 L140.3 64.9 L140.5 65.5 L140.6 66.1 L140.8 66.7 L141.0 67.3 L141.1 67.8 L141.3 68.4 L141.5 69.0 L141.6 69.6 L141.8 70.2 L142.0 70.7 L142.1 71.3 L142.3 71.9 L142.4 72.4 L142.6 73.0 L142.8 73.5 L142.9 74.1 L143.1 74.6 L143.3 75.2 L143.4 75.7 L143.6 76.3 L143.7 76.8 L143.9 77.3 L144.1 77.9 L144.2 78.4 L144.4 78.9 L144.6 79.4 L144.7 80.0 L144.9 80.5 L145.0 81.0 L145.2 81.5 L145.4 82.0 L145.5 82.5 L146.2 84.5 L146.8 86.5 L147.5 88.4 L148.1 90.2 L148.8 92.1 L149.4 93.8 L150.1 95.6 L150.7 97.3 L151.4 99.0 L152.0 100.6 L152.7 102.2 L153.3 103.8 L154.0 105.3 L154.6 106.8 L154.8 107.2 L155.0 107.5 L155.1 107.9 L155.3 108.3 L155.5 108.6 L155.6 109.0 L155.8 109.3 L155.9 109.7 L156.1 110.0 L156.3 110.4 L156.4 110.7 L156.6 111.1 L156.8 111.4 L156.9 111.8 L157.1 112.1 L157.2 112.5 L157.4 112.8 L157.6 113.1 L157.7 113.5 L157.9 113.8 L158.1 114.1 L158.2 114.5 L158.4 114.8 L158.6 115.1 L158.7 115.4 L158.9 115.8 L159.0 116.1 L159.2 116.4 L159.4 116.7 L159.5 117.0 L159.7 117.4 L159.9 117.7 L160.0 118.0 L160.2 118.3 L160.3 118.6 L160.5 118.9 L160.7 119.2 L160.8 119.5 L161.0 119.8 L161.2 120.1 L162.1 121.9 L163.1 123.6 L164.1 125.2 L165.1 126.8 L166.0 128.3 L167.0 129.8 L168.0 131.3 L169.0 132.6 L169.9 134.0 L170.9 135.3 L171.9 136.5 L172.9 137.8 L173.8 138.9 L174.8 140.1 L175.8 141.2 L176.8 142.2 L177.8 143.3 L178.7 144.2 L179.7 145.2 L180.7 146.1 L181.7 147.0 L182.6 147.9 L183.6 148.7 L184.6 149.5 L185.6 150.3 L186.5 151.0 L187.5 151.7 L188.5 152.4 L189.5 153.1 L190.4 153.7 L191.4 154.3 L192.4 154.9 L193.4 155.5 L194.4 156.0 L195.3 156.6 L196.3 157.1 L197.3 157.6 L198.3 158.0 L199.2 158.5 L200.2 158.9 L201.2 159.3 L202.2 159.7 L203.1 160.1 L204.1 160.5 L205.1 160.8 L206.1 161.1 L207.1 161.5 L208.0 161.8 L209.0 162.1 L210.0 162.3 L211.0 162.6 L211.9 162.9 L212.9 163.1 L213.9 163.3 L214.9 163.5 L215.8 163.8 L216.8 164.0 L217.8 164.1 L218.8 164.3 L219.7 164.5 L220.7 164.7 L221.7 164.8 L222.7 165.0 L223.0 165.0 L225.6 165.4 L228.2 165.7 L230.8 165.9 L233.4 166.2 L236.0 166.4 L238.6 166.5 L241.2 166.7 L243.8 166.8 L246.4 166.9 L249.0 167.0 L251.6 167.0 L254.2 167.1 L256.9 167.2 L259.5 167.2 L262.1 167.2 L264.7 167.3 L267.3 167.3 L269.9 167.3 L272.5 167.3 L275.1 167.3 L277.7 167.3 L280.3 167.3 L282.9 167.4 L285.5 167.4 L288.1 167.4 L290.7 167.4 L293.3 167.4 L295.9 167.4 L298.5 167.4 L301.1 167.4 L303.7 167.4 L306.3 167.4 L308.9 167.4 L309.4 167.4" fill="none" stroke="#00e000" stroke-width="0.9"/>
</g>
<text x="45.1" y="27.1">n<tspan font-size="4.3" dy="1.5">p</tspan><tspan dy="-1.5"> = 8</tspan></text>
<text x="291.4" y="27.1" text-anchor="end">Two flares</text>
<text x="291.4" y="38.0" text-anchor="end">No QPP</text>
<g clip-path="url(#c2)">
<path d="M418.6 140.6 L421.9 140.6 L425.1 140.6 L428.4 140.6 L431.6 140.6 L434.9 140.6 L438.1 140.6 L441.4 140.6 L444.6 140.6 L447.9 140.6 L451.2 140.6 L454.4 140.6 L457.7 140.6 L460.9 140.6 L464.2 140.6 L467.4 140.6 L470.7 140.6 L473.9 140.6 L477.2 140.6 L480.4 140.6 L483.7 140.6 L487.0 140.6 L488.6 140.6 L488.7 140.6 L488.9 140.6 L489.1 140.6 L489.2 140.6 L489.4 140.6 L489.6 140.6 L489.7 140.6 L489.9 140.6 L490.0 140.6 L490.2 140.6 L490.4 140.6 L490.5 140.6 L490.7 140.6 L490.9 140.6 L491.0 140.5 L491.2 140.5 L491.3 140.5 L491.5 140.5 L491.7 140.5 L491.8 140.5 L492.0 140.5 L492.2 140.5 L492.3 140.5 L492.5 140.5 L492.7 140.4 L492.8 140.4 L493.0 140.4 L493.1 140.4 L493.3 140.3 L493.5 140.3 L493.6 140.2 L493.8 140.2 L494.0 140.1 L494.1 140.1 L494.3 140.0 L494.4 139.9 L494.6 139.8 L494.8 139.7 L494.9 139.5 L495.1 139.4 L495.3 139.2 L495.4 139.0 L495.6 138.7 L495.7 138.4 L495.9 138.1 L496.1 137.7 L496.2 137.3 L496.4 136.8 L496.6 136.3 L496.7 135.6 L496.9 134.9 L497.0 134.0 L497.2 133.1 L497.4 132.0 L497.5 130.7 L497.7 129.2 L497.9 127.5 L498.0 125.5 L498.2 123.3 L498.3 120.7 L498.5 117.8 L498.7 114.4 L498.8 110.4 L499.0 106.0 L499.2 100.8 L499.3 94.9 L499.5 95.2 L499.6 95.5 L499.8 95.8 L500.0 96.1 L500.1 96.4 L500.3 96.7 L500.5 97.0 L500.6 97.3 L500.8 97.6 L501.0 97.8 L501.1 98.1 L501.3 98.4 L501.4 98.7 L501.6 99.0 L501.8 99.3 L501.9 99.5 L502.1 99.8 L502.3 100.1 L502.4 100.4 L502.6 100.6 L502.7 100.9 L502.9 101.2 L503.1 101.4 L503.2 101.7 L503.4 102.0 L503.6 102.2 L503.7 102.5 L503.9 102.7 L504.5 103.8 L505.2 104.7 L505.8 105.7 L506.5 106.6 L507.1 107.5 L507.8 108.4 L508.4 109.3 L509.1 110.1 L509.7 110.9 L510.4 111.7 L511.0 112.4 L511.7 113.1 L511.9 113.3 L512.0 113.5 L512.2 113.6 L512.3 113.8 L512.5 114.0 L512.7 114.1 L512.8 114.3 L513.0 114.4 L513.2 114.6 L513.3 114.7 L513.5 114.9 L513.6 115.0 L513.8 115.1 L514.0 115.2 L514.1 115.3 L514.3 115.4 L514.5 115.5 L514.6 115.6 L514.8 115.7 L514.9 115.7 L515.1 115.8 L515.3 115.8 L515.4 115.8 L515.6 115.8 L515.8 115.7 L515.9 115.7 L516.1 115.6 L516.2 115.5 L516.4 115.3 L516.6 115.1 L516.7 114.9 L516.9 114.6 L517.1 114.2 L517.2 113.8 L517.4 113.3 L517.6 112.7 L517.7 112.1 L517.9 111.3 L518.0 110.4 L518.2 109.4 L518.4 108.2 L518.5 106.9 L518.7 105.4 L518.9 103.7 L519.0 101.7 L519.2 99.5 L519.3 96.9 L519.5 94.1 L519.7 90.8 L519.8 87.2 L520.0 83.0 L520.2 78.3 L520.3 73.0 L520.5 67.0 L520.6 60.2 L520.8 52.6 L521.0 44.0 L521.1 34.2 L521.3 23.2 L521.5 10.8 L521.6 11.6 L521.8 12.3 L521.9 13.1 L522.1 13.8 L522.3 14.6 L522.4 15.3 L522.6 16.0 L522.8 16.8 L522.9 17.5 L523.1 18.2 L523.2 18.9 L523.4 19.6 L523.6 20.3 L523.7 21.0 L523.9 21.7 L524.1 22.4 L524.2 23.1 L524.4 23.8 L524.6 24.4 L524.7 25.1 L524.9 25.8 L525.0 26.5 L525.2 27.1 L525.4 27.8 L525.5 28.4 L525.7 29.1 L525.9 29.7 L526.0 30.4 L526.7 32.9 L527.3 35.4 L528.0 37.9 L528.6 40.2 L528.8 40.8 L528.9 41.4 L529.1 42.0 L529.3 42.6 L529.4 43.1 L529.6 43.7 L529.8 44.3 L529.9 44.8 L530.1 45.4 L530.2 45.9 L530.4 46.5 L530.6 47.0 L530.7 47.6 L530.9 48.1 L531.1 48.7 L531.2 49.2 L531.4 49.8 L531.5 50.3 L531.7 50.8 L531.9 51.3 L532.0 51.9 L532.2 52.4 L532.4 52.9 L532.5 53.4 L532.7 53.9 L532.9 54.4 L533.0 54.9 L533.2 55.4 L533.3 55.9 L533.5 56.4 L533.7 56.9 L533.8 57.4 L534.0 57.9 L534.2 58.4 L534.3 58.9 L534.5 59.4 L534.6 59.8 L534.8 60.3 L535.0 60.8 L535.1 61.3 L535.3 61.7 L535.5 62.2 L535.6 62.7 L535.8 63.1 L535.9 63.6 L536.1 64.0 L536.3 64.5 L536.4 64.9 L537.1 66.7 L537.7 68.5 L538.4 70.2 L539.0 71.8 L539.7 73.4 L540.3 75.0 L541.0 76.6 L541.6 78.1 L542.3 79.6 L542.9 81.1 L543.6 82.5 L544.2 83.9 L544.9 85.2 L545.5 86.6 L545.7 86.9 L545.9 87.2 L546.0 87.6 L546.2 87.9 L546.4 88.2 L546.5 88.5 L546.7 88.8 L546.8 89.2 L547.0 89.5 L547.2 89.8 L547.3 90.1 L547.5 90.4 L547.7 90.7 L547.8 91.0 L548.0 91.3 L548.1 91.6 L548.3 91.9 L548.5 92.2 L548.6 92.5 L548.8 92.8 L549.0 93.1 L549.1 93.4 L549.3 93.7 L549.5 94.0 L549.6 94.3 L549.8 94.6 L549.9 94.9 L550.1 95.1 L550.3 95.4 L550.4 95.7 L550.6 96.0 L550.8 96.3 L550.9 96.5 L551.1 96.8 L551.2 97.1 L551.4 97.4 L551.6 97.6 L551.7 97.9 L551.9 98.2 L552.1 98.4 L553.0 100.0 L554.0 101.5 L555.0 103.0 L556.0 104.4 L556.9 105.8 L557.9 107.1 L558.9 108.4 L559.9 109.6 L560.8 110.8 L561.8 112.0 L562.8 113.1 L563.8 114.2 L564.7 115.2 L565.7 116.2 L566.7 117.2 L567.7 118.2 L568.7 119.1 L569.6 120.0 L570.6 120.8 L571.6 121.6 L572.6 122.4 L573.5 123.2 L574.5 123.9 L575.5 124.6 L576.5 125.3 L577.4 126.0 L578.4 126.6 L579.4 127.2 L580.4 127.8 L581.4 128.4 L582.3 128.9 L583.3 129.5 L584.3 130.0 L585.3 130.5 L586.2 130.9 L587.2 131.4 L588.2 131.8 L589.2 132.2 L590.1 132.6 L591.1 133.0 L592.1 133.4 L593.1 133.7 L594.0 134.1 L595.0 134.4 L596.0 134.7 L597.0 135.0 L598.0 135.3 L598.9 135.6 L599.9 135.8 L600.9 136.1 L601.9 136.3 L602.8 136.5 L603.8 136.8 L604.8 137.0 L605.8 137.2 L606.7 137.3 L607.7 137.5 L608.7 137.7 L609.7 137.9 L610.6 138.0 L611.6 138.2 L612.6 138.3 L613.6 138.4 L613.9 138.5 L616.5 138.8 L619.1 139.1 L621.7 139.3 L624.3 139.5 L626.9 139.7 L629.5 139.8 L632.1 139.9 L634.7 140.0 L637.3 140.1 L639.9 140.2 L642.5 140.3 L645.1 140.3 L647.8 140.4 L650.4 140.4 L653.0 140.4 L655.6 140.5 L658.2 140.5 L660.8 140.5 L663.4 140.5 L666.0 140.5 L668.6 140.5 L671.2 140.5 L673.8 140.5 L676.4 140.6 L679.0 140.6 L681.6 140.6 L684.2 140.6 L686.8 140.6 L689.4 140.6 L692.0 140.6 L694.6 140.6 L697.2 140.6 L699.8 140.6 L700.3 140.6 L700.3 176.0 L699.8 176.0 L697.2 176.0 L694.6 176.0 L692.0 176.0 L689.4 176.0 L686.8 176.0 L684.2 176.0 L681.6 176.0 L679.0 176.0 L676.4 176.0 L673.8 175.9 L671.2 175.9 L668.6 175.9 L666.0 175.9 L663.4 175.9 L660.8 175.9 L658.2 175.9 L655.6 175.9 L653.0 175.8 L650.4 175.8 L647.8 175.8 L645.1 175.7 L642.5 175.7 L639.9 175.6 L637.3 175.5 L634.7 175.4 L632.1 175.3 L629.5 175.2 L626.9 175.1 L624.3 174.9 L621.7 174.7 L619.1 174.5 L616.5 174.2 L613.9 173.9 L613.6 173.8 L612.6 173.7 L611.6 173.6 L610.6 173.4 L609.7 173.3 L608.7 173.1 L607.7 172.9 L606.7 172.7 L605.8 172.6 L604.8 172.4 L603.8 172.2 L602.8 171.9 L601.9 171.7 L600.9 171.5 L599.9 171.2 L598.9 171.0 L598.0 170.7 L597.0 170.4 L596.0 170.1 L595.0 169.8 L594.0 169.5 L593.1 169.1 L592.1 168.8 L591.1 168.4 L590.1 168.0 L589.2 167.6 L588.2 167.2 L587.2 166.8 L586.2 166.3 L585.3 165.9 L584.3 165.4 L583.3 164.9 L582.3 164.3 L581.4 163.8 L580.4 163.2 L579.4 162.6 L578.4 162.0 L577.4 161.4 L576.5 160.7 L575.5 160.0 L574.5 159.3 L573.5 158.6 L572.6 157.8 L571.6 157.0 L570.6 156.2 L569.6 155.4 L568.7 154.5 L567.7 153.6 L566.7 152.6 L565.7 151.6 L564.7 150.6 L563.8 149.6 L562.8 148.5 L561.8 147.4 L560.8 146.2 L559.9 145.0 L558.9 143.8 L557.9 142.5 L556.9 141.2 L556.0 139.8 L555.0 138.4 L554.0 136.9 L553.0 135.4 L552.1 133.8 L551.9 133.6 L551.7 133.3 L551.6 133.0 L551.4 132.8 L551.2 132.5 L551.1 132.2 L550.9 131.9 L550.8 131.7 L550.6 131.4 L550.4 131.1 L550.3 130.8 L550.1 130.5 L549.9 130.3 L549.8 130.0 L549.6 129.7 L549.5 129.4 L549.3 129.1 L549.1 128.8 L549.0 128.5 L548.8 128.2 L548.6 127.9 L548.5 127.6 L548.3 127.3 L548.1 127.0 L548.0 126.7 L547.8 126.4 L547.7 126.1 L547.5 125.8 L547.3 125.5 L547.2 125.2 L547.0 124.9 L546.8 124.6 L546.7 124.2 L546.5 123.9 L546.4 123.6 L546.2 123.3 L546.0 123.0 L545.9 122.6 L545.7 122.3 L545.5 122.0 L544.9 120.6 L544.2 119.3 L543.6 117.9 L542.9 116.5 L542.3 115.0 L541.6 113.5 L541.0 112.0 L540.3 110.4 L539.7 108.8 L539.0 107.2 L538.4 105.6 L537.7 103.9 L537.1 102.1 L536.4 100.3 L536.3 99.9 L536.1 99.4 L535.9 99.0 L535.8 98.5 L535.6 98.1 L535.5 97.6 L535.3 97.1 L535.1 96.7 L535.0 96.2 L534.8 95.7 L534.6 95.2 L534.5 94.8 L534.3 94.3 L534.2 93.8 L534.0 93.3 L533.8 92.8 L533.7 92.3 L533.5 91.8 L533.3 91.3 L533.2 90.8 L533.0 90.3 L532.9 89.8 L532.7 89.3 L532.5 88.8 L532.4 88.3 L532.2 87.8 L532.0 87.3 L531.9 86.7 L531.7 86.2 L531.5 85.7 L531.4 85.2 L531.2 84.6 L531.1 84.1 L530.9 83.5 L530.7 83.0 L530.6 82.4 L530.4 81.9 L530.2 81.3 L530.1 80.8 L529.9 80.2 L529.8 79.7 L529.6 79.1 L529.4 78.5 L529.3 78.0 L529.1 77.4 L528.9 76.8 L528.8 76.2 L528.6 75.6 L528.0 73.3 L527.3 70.8 L526.7 68.3 L526.0 65.8 L525.9 65.1 L525.7 64.5 L525.5 63.8 L525.4 63.2 L525.2 62.5 L525.0 61.9 L524.9 61.2 L524.7 60.5 L524.6 59.8 L524.4 59.2 L524.2 58.5 L524.1 57.8 L523.9 57.1 L523.7 56.4 L523.6 55.7 L523.4 55.0 L523.2 54.3 L523.1 53.6 L522.9 52.9 L522.8 52.2 L522.6 51.4 L522.4 50.7 L522.3 50.0 L522.1 49.2 L521.9 48.5 L521.8 47.7 L521.6 47.0 L521.5 46.2 L521.3 58.6 L521.1 69.6 L521.0 79.4 L520.8 88.0 L520.6 95.6 L520.5 102.4 L520.3 108.4 L520.2 113.7 L520.0 118.4 L519.8 122.6 L519.7 126.2 L519.5 129.5 L519.3 132.3 L519.2 134.9 L519.0 137.1 L518.9 139.1 L518.7 140.8 L518.5 142.3 L518.4 143.6 L518.2 144.8 L518.0 145.8 L517.9 146.7 L517.7 147.5 L517.6 148.1 L517.4 148.7 L517.2 149.2 L517.1 149.6 L516.9 150.0 L516.7 150.3 L516.6 150.5 L516.4 150.7 L516.2 150.9 L516.1 151.0 L515.9 151.1 L515.8 151.1 L515.6 151.2 L515.4 151.2 L515.3 151.2 L515.1 151.2 L514.9 151.1 L514.8 151.1 L514.6 151.0 L514.5 150.9 L514.3 150.8 L514.1 150.7 L514.0 150.6 L513.8 150.5 L513.6 150.4 L513.5 150.3 L513.3 150.1 L513.2 150.0 L513.0 149.8 L512.8 149.7 L512.7 149.5 L512.5 149.4 L512.3 149.2 L512.2 149.0 L512.0 148.9 L511.9 148.7 L511.7 148.5 L511.0 147.8 L510.4 147.1 L509.7 146.3 L509.1 145.5 L508.4 144.7 L507.8 143.8 L507.1 142.9 L506.5 142.0 L505.8 141.1 L505.2 140.1 L504.5 139.2 L503.9 138.1 L503.7 137.9 L503.6 137.6 L503.4 137.4 L503.2 137.1 L503.1 136.8 L502.9 136.6 L502.7 136.3 L502.6 136.0 L502.4 135.8 L502.3 135.5 L502.1 135.2 L501.9 134.9 L501.8 134.7 L501.6 134.4 L501.4 134.1 L501.3 133.8 L501.1 133.5 L501.0 133.2 L500.8 133.0 L500.6 132.7 L500.5 132.4 L500.3 132.1 L500.1 131.8 L500.0 131.5 L499.8 131.2 L499.6 130.9 L499.5 130.6 L499.3 130.3 L499.2 136.2 L499.0 141.4 L498.8 145.8 L498.7 149.8 L498.5 153.2 L498.3 156.1 L498.2 158.7 L498.0 160.9 L497.9 162.9 L497.7 164.6 L497.5 166.1 L497.4 167.4 L497.2 168.5 L497.0 169.4 L496.9 170.3 L496.7 171.0 L496.6 171.7 L496.4 172.2 L496.2 172.7 L496.1 173.1 L495.9 173.5 L495.7 173.8 L495.6 174.1 L495.4 174.4 L495.3 174.6 L495.1 174.8 L494.9 174.9 L494.8 175.1 L494.6 175.2 L494.4 175.3 L494.3 175.4 L494.1 175.5 L494.0 175.5 L493.8 175.6 L493.6 175.6 L493.5 175.7 L493.3 175.7 L493.1 175.8 L493.0 175.8 L492.8 175.8 L492.7 175.8 L492.5 175.9 L492.3 175.9 L492.2 175.9 L492.0 175.9 L491.8 175.9 L491.7 175.9 L491.5 175.9 L491.3 175.9 L491.2 175.9 L491.0 175.9 L490.9 176.0 L490.7 176.0 L490.5 176.0 L490.4 176.0 L490.2 176.0 L490.0 176.0 L489.9 176.0 L489.7 176.0 L489.6 176.0 L489.4 176.0 L489.2 176.0 L489.1 176.0 L488.9 176.0 L488.7 176.0 L488.6 176.0 L487.0 176.0 L483.7 176.0 L480.4 176.0 L477.2 176.0 L473.9 176.0 L470.7 176.0 L467.4 176.0 L464.2 176.0 L460.9 176.0 L457.7 176.0 L454.4 176.0 L451.2 176.0 L447.9 176.0 L444.6 176.0 L441.4 176.0 L438.1 176.0 L434.9 176.0 L431.6 176.0 L428.4 176.0 L425.1 176.0 L421.9 176.0 L418.6 176.0Z" fill="#e4e4e4"/>
<path d="M418.6 146.5 L421.9 146.5 L425.1 146.5 L428.4 146.5 L431.6 146.5 L434.9 146.5 L438.1 146.5 L441.4 146.5 L444.6 146.5 L447.9 146.5 L451.2 146.5 L454.4 146.5 L457.7 146.5 L460.9 146.5 L464.2 146.5 L467.4 146.5 L470.7 146.5 L473.9 146.5 L477.2 146.5 L480.4 146.5 L483.7 146.5 L487.0 146.5 L488.6 146.5 L488.7 146.5 L488.9 146.5 L489.1 146.5 L489.2 146.5 L489.4 146.5 L489.6 146.5 L489.7 146.5 L489.9 146.5 L490.0 146.5 L490.2 146.5 L490.4 146.5 L490.5 146.5 L490.7 146.5 L490.9 146.5 L491.0 146.4 L491.2 146.4 L491.3 146.4 L491.5 146.4 L491.7 146.4 L491.8 146.4 L492.0 146.4 L492.2 146.4 L492.3 146.4 L492.5 146.4 L492.7 146.3 L492.8 146.3 L493.0 146.3 L493.1 146.3 L493.3 146.2 L493.5 146.2 L493.6 146.1 L493.8 146.1 L494.0 146.0 L494.1 146.0 L494.3 145.9 L494.4 145.8 L494.6 145.7 L494.8 145.6 L494.9 145.4 L495.1 145.3 L495.3 145.1 L495.4 144.9 L495.6 144.6 L495.7 144.3 L495.9 144.0 L496.1 143.6 L496.2 143.2 L496.4 142.7 L496.6 142.2 L496.7 141.5 L496.9 140.8 L497.0 139.9 L497.2 139.0 L497.4 137.9 L497.5 136.6 L497.7 135.1 L497.9 133.4 L498.0 131.4 L498.2 129.2 L498.3 126.6 L498.5 123.7 L498.7 120.3 L498.8 116.3 L499.0 111.9 L499.2 106.7 L499.3 100.8 L499.5 101.1 L499.6 101.4 L499.8 101.7 L500.0 102.0 L500.1 102.3 L500.3 102.6 L500.5 102.9 L500.6 103.2 L500.8 103.5 L501.0 103.7 L501.1 104.0 L501.3 104.3 L501.4 104.6 L501.6 104.9 L501.8 105.2 L501.9 105.4 L502.1 105.7 L502.3 106.0 L502.4 106.3 L502.6 106.5 L502.7 106.8 L502.9 107.1 L503.1 107.3 L503.2 107.6 L503.4 107.9 L503.6 108.1 L503.7 108.4 L503.9 108.6 L504.5 109.7 L505.2 110.6 L505.8 111.6 L506.5 112.5 L507.1 113.4 L507.8 114.3 L508.4 115.2 L509.1 116.0 L509.7 116.8 L510.4 117.6 L511.0 118.3 L511.7 119.0 L511.9 119.2 L512.0 119.4 L512.2 119.5 L512.3 119.7 L512.5 119.9 L512.7 120.0 L512.8 120.2 L513.0 120.3 L513.2 120.5 L513.3 120.6 L513.5 120.8 L513.6 120.9 L513.8 121.0 L514.0 121.1 L514.1 121.2 L514.3 121.3 L514.5 121.4 L514.6 121.5 L514.8 121.6 L514.9 121.6 L515.1 121.7 L515.3 121.7 L515.4 121.7 L515.6 121.7 L515.8 121.6 L515.9 121.6 L516.1 121.5 L516.2 121.4 L516.4 121.2 L516.6 121.0 L516.7 120.8 L516.9 120.5 L517.1 120.1 L517.2 119.7 L517.4 119.2 L517.6 118.6 L517.7 118.0 L517.9 117.2 L518.0 116.3 L518.2 115.3 L518.4 114.1 L518.5 112.8 L518.7 111.3 L518.9 109.6 L519.0 107.6 L519.2 105.4 L519.3 102.8 L519.5 100.0 L519.7 96.7 L519.8 93.1 L520.0 88.9 L520.2 84.2 L520.3 78.9 L520.5 72.9 L520.6 66.1 L520.8 58.5 L521.0 49.9 L521.1 40.1 L521.3 29.1 L521.5 16.7 L521.6 17.5 L521.8 18.2 L521.9 19.0 L522.1 19.7 L522.3 20.5 L522.4 21.2 L522.6 21.9 L522.8 22.7 L522.9 23.4 L523.1 24.1 L523.2 24.8 L523.4 25.5 L523.6 26.2 L523.7 26.9 L523.9 27.6 L524.1 28.3 L524.2 29.0 L524.4 29.7 L524.6 30.3 L524.7 31.0 L524.9 31.7 L525.0 32.4 L525.2 33.0 L525.4 33.7 L525.5 34.3 L525.7 35.0 L525.9 35.6 L526.0 36.3 L526.7 38.8 L527.3 41.3 L528.0 43.8 L528.6 46.1 L528.8 46.7 L528.9 47.3 L529.1 47.9 L529.3 48.5 L529.4 49.0 L529.6 49.6 L529.8 50.2 L529.9 50.7 L530.1 51.3 L530.2 51.8 L530.4 52.4 L530.6 52.9 L530.7 53.5 L530.9 54.0 L531.1 54.6 L531.2 55.1 L531.4 55.7 L531.5 56.2 L531.7 56.7 L531.9 57.2 L532.0 57.8 L532.2 58.3 L532.4 58.8 L532.5 59.3 L532.7 59.8 L532.9 60.3 L533.0 60.8 L533.2 61.3 L533.3 61.8 L533.5 62.3 L533.7 62.8 L533.8 63.3 L534.0 63.8 L534.2 64.3 L534.3 64.8 L534.5 65.3 L534.6 65.7 L534.8 66.2 L535.0 66.7 L535.1 67.2 L535.3 67.6 L535.5 68.1 L535.6 68.6 L535.8 69.0 L535.9 69.5 L536.1 69.9 L536.3 70.4 L536.4 70.8 L537.1 72.6 L537.7 74.4 L538.4 76.1 L539.0 77.7 L539.7 79.3 L540.3 80.9 L541.0 82.5 L541.6 84.0 L542.3 85.5 L542.9 87.0 L543.6 88.4 L544.2 89.8 L544.9 91.1 L545.5 92.5 L545.7 92.8 L545.9 93.1 L546.0 93.5 L546.2 93.8 L546.4 94.1 L546.5 94.4 L546.7 94.7 L546.8 95.1 L547.0 95.4 L547.2 95.7 L547.3 96.0 L547.5 96.3 L547.7 96.6 L547.8 96.9 L548.0 97.2 L548.1 97.5 L548.3 97.8 L548.5 98.1 L548.6 98.4 L548.8 98.7 L549.0 99.0 L549.1 99.3 L549.3 99.6 L549.5 99.9 L549.6 100.2 L549.8 100.5 L549.9 100.8 L550.1 101.0 L550.3 101.3 L550.4 101.6 L550.6 101.9 L550.8 102.2 L550.9 102.4 L551.1 102.7 L551.2 103.0 L551.4 103.3 L551.6 103.5 L551.7 103.8 L551.9 104.1 L552.1 104.3 L553.0 105.9 L554.0 107.4 L555.0 108.9 L556.0 110.3 L556.9 111.7 L557.9 113.0 L558.9 114.3 L559.9 115.5 L560.8 116.7 L561.8 117.9 L562.8 119.0 L563.8 120.1 L564.7 121.1 L565.7 122.1 L566.7 123.1 L567.7 124.1 L568.7 125.0 L569.6 125.9 L570.6 126.7 L571.6 127.5 L572.6 128.3 L573.5 129.1 L574.5 129.8 L575.5 130.5 L576.5 131.2 L577.4 131.9 L578.4 132.5 L579.4 133.1 L580.4 133.7 L581.4 134.3 L582.3 134.8 L583.3 135.4 L584.3 135.9 L585.3 136.4 L586.2 136.8 L587.2 137.3 L588.2 137.7 L589.2 138.1 L590.1 138.5 L591.1 138.9 L592.1 139.3 L593.1 139.6 L594.0 140.0 L595.0 140.3 L596.0 140.6 L597.0 140.9 L598.0 141.2 L598.9 141.5 L599.9 141.7 L600.9 142.0 L601.9 142.2 L602.8 142.4 L603.8 142.7 L604.8 142.9 L605.8 143.1 L606.7 143.2 L607.7 143.4 L608.7 143.6 L609.7 143.8 L610.6 143.9 L611.6 144.1 L612.6 144.2 L613.6 144.3 L613.9 144.4 L616.5 144.7 L619.1 145.0 L621.7 145.2 L624.3 145.4 L626.9 145.6 L629.5 145.7 L632.1 145.8 L634.7 145.9 L637.3 146.0 L639.9 146.1 L642.5 146.2 L645.1 146.2 L647.8 146.3 L650.4 146.3 L653.0 146.3 L655.6 146.4 L658.2 146.4 L660.8 146.4 L663.4 146.4 L666.0 146.4 L668.6 146.4 L671.2 146.4 L673.8 146.4 L676.4 146.5 L679.0 146.5 L681.6 146.5 L684.2 146.5 L686.8 146.5 L689.4 146.5 L692.0 146.5 L694.6 146.5 L697.2 146.5 L699.8 146.5 L700.3 146.5 L700.3 170.1 L699.8 170.1 L697.2 170.1 L694.6 170.1 L692.0 170.1 L689.4 170.1 L686.8 170.1 L684.2 170.1 L681.6 170.1 L679.0 170.1 L676.4 170.1 L673.8 170.0 L671.2 170.0 L668.6 170.0 L666.0 170.0 L663.4 170.0 L660.8 170.0 L658.2 170.0 L655.6 170.0 L653.0 169.9 L650.4 169.9 L647.8 169.9 L645.1 169.8 L642.5 169.8 L639.9 169.7 L637.3 169.6 L634.7 169.5 L632.1 169.4 L629.5 169.3 L626.9 169.2 L624.3 169.0 L621.7 168.8 L619.1 168.6 L616.5 168.3 L613.9 168.0 L613.6 167.9 L612.6 167.8 L611.6 167.7 L610.6 167.5 L609.7 167.4 L608.7 167.2 L607.7 167.0 L606.7 166.8 L605.8 166.7 L604.8 166.5 L603.8 166.3 L602.8 166.0 L601.9 165.8 L600.9 165.6 L599.9 165.3 L598.9 165.1 L598.0 164.8 L597.0 164.5 L596.0 164.2 L595.0 163.9 L594.0 163.6 L593.1 163.2 L592.1 162.9 L591.1 162.5 L590.1 162.1 L589.2 161.7 L588.2 161.3 L587.2 160.9 L586.2 160.4 L585.3 160.0 L584.3 159.5 L583.3 159.0 L582.3 158.4 L581.4 157.9 L580.4 157.3 L579.4 156.7 L578.4 156.1 L577.4 155.5 L576.5 154.8 L575.5 154.1 L574.5 153.4 L573.5 152.7 L572.6 151.9 L571.6 151.1 L570.6 150.3 L569.6 149.5 L568.7 148.6 L567.7 147.7 L566.7 146.7 L565.7 145.7 L564.7 144.7 L563.8 143.7 L562.8 142.6 L561.8 141.5 L560.8 140.3 L559.9 139.1 L558.9 137.9 L557.9 136.6 L556.9 135.3 L556.0 133.9 L555.0 132.5 L554.0 131.0 L553.0 129.5 L552.1 127.9 L551.9 127.7 L551.7 127.4 L551.6 127.1 L551.4 126.9 L551.2 126.6 L551.1 126.3 L550.9 126.0 L550.8 125.8 L550.6 125.5 L550.4 125.2 L550.3 124.9 L550.1 124.6 L549.9 124.4 L549.8 124.1 L549.6 123.8 L549.5 123.5 L549.3 123.2 L549.1 122.9 L549.0 122.6 L548.8 122.3 L548.6 122.0 L548.5 121.7 L548.3 121.4 L548.1 121.1 L548.0 120.8 L547.8 120.5 L547.7 120.2 L547.5 119.9 L547.3 119.6 L547.2 119.3 L547.0 119.0 L546.8 118.7 L546.7 118.3 L546.5 118.0 L546.4 117.7 L546.2 117.4 L546.0 117.1 L545.9 116.7 L545.7 116.4 L545.5 116.1 L544.9 114.7 L544.2 113.4 L543.6 112.0 L542.9 110.6 L542.3 109.1 L541.6 107.6 L541.0 106.1 L540.3 104.5 L539.7 102.9 L539.0 101.3 L538.4 99.7 L537.7 98.0 L537.1 96.2 L536.4 94.4 L536.3 94.0 L536.1 93.5 L535.9 93.1 L535.8 92.6 L535.6 92.2 L535.5 91.7 L535.3 91.2 L535.1 90.8 L535.0 90.3 L534.8 89.8 L534.6 89.3 L534.5 88.9 L534.3 88.4 L534.2 87.9 L534.0 87.4 L533.8 86.9 L533.7 86.4 L533.5 85.9 L533.3 85.4 L533.2 84.9 L533.0 84.4 L532.9 83.9 L532.7 83.4 L532.5 82.9 L532.4 82.4 L532.2 81.9 L532.0 81.4 L531.9 80.8 L531.7 80.3 L531.5 79.8 L531.4 79.3 L531.2 78.7 L531.1 78.2 L530.9 77.6 L530.7 77.1 L530.6 76.5 L530.4 76.0 L530.2 75.4 L530.1 74.9 L529.9 74.3 L529.8 73.8 L529.6 73.2 L529.4 72.6 L529.3 72.1 L529.1 71.5 L528.9 70.9 L528.8 70.3 L528.6 69.7 L528.0 67.4 L527.3 64.9 L526.7 62.4 L526.0 59.9 L525.9 59.2 L525.7 58.6 L525.5 57.9 L525.4 57.3 L525.2 56.6 L525.0 56.0 L524.9 55.3 L524.7 54.6 L524.6 53.9 L524.4 53.3 L524.2 52.6 L524.1 51.9 L523.9 51.2 L523.7 50.5 L523.6 49.8 L523.4 49.1 L523.2 48.4 L523.1 47.7 L522.9 47.0 L522.8 46.3 L522.6 45.5 L522.4 44.8 L522.3 44.1 L522.1 43.3 L521.9 42.6 L521.8 41.8 L521.6 41.1 L521.5 40.3 L521.3 52.7 L521.1 63.7 L521.0 73.5 L520.8 82.1 L520.6 89.7 L520.5 96.5 L520.3 102.5 L520.2 107.8 L520.0 112.5 L519.8 116.7 L519.7 120.3 L519.5 123.6 L519.3 126.4 L519.2 129.0 L519.0 131.2 L518.9 133.2 L518.7 134.9 L518.5 136.4 L518.4 137.7 L518.2 138.9 L518.0 139.9 L517.9 140.8 L517.7 141.6 L517.6 142.2 L517.4 142.8 L517.2 143.3 L517.1 143.7 L516.9 144.1 L516.7 144.4 L516.6 144.6 L516.4 144.8 L516.2 145.0 L516.1 145.1 L515.9 145.2 L515.8 145.2 L515.6 145.3 L515.4 145.3 L515.3 145.3 L515.1 145.3 L514.9 145.2 L514.8 145.2 L514.6 145.1 L514.5 145.0 L514.3 144.9 L514.1 144.8 L514.0 144.7 L513.8 144.6 L513.6 144.5 L513.5 144.4 L513.3 144.2 L513.2 144.1 L513.0 143.9 L512.8 143.8 L512.7 143.6 L512.5 143.5 L512.3 143.3 L512.2 143.1 L512.0 143.0 L511.9 142.8 L511.7 142.6 L511.0 141.9 L510.4 141.2 L509.7 140.4 L509.1 139.6 L508.4 138.8 L507.8 137.9 L507.1 137.0 L506.5 136.1 L505.8 135.2 L505.2 134.2 L504.5 133.3 L503.9 132.2 L503.7 132.0 L503.6 131.7 L503.4 131.5 L503.2 131.2 L503.1 130.9 L502.9 130.7 L502.7 130.4 L502.6 130.1 L502.4 129.9 L502.3 129.6 L502.1 129.3 L501.9 129.0 L501.8 128.8 L501.6 128.5 L501.4 128.2 L501.3 127.9 L501.1 127.6 L501.0 127.3 L500.8 127.1 L500.6 126.8 L500.5 126.5 L500.3 126.2 L500.1 125.9 L500.0 125.6 L499.8 125.3 L499.6 125.0 L499.5 124.7 L499.3 124.4 L499.2 130.3 L499.0 135.5 L498.8 139.9 L498.7 143.9 L498.5 147.3 L498.3 150.2 L498.2 152.8 L498.0 155.0 L497.9 157.0 L497.7 158.7 L497.5 160.2 L497.4 161.5 L497.2 162.6 L497.0 163.5 L496.9 164.4 L496.7 165.1 L496.6 165.8 L496.4 166.3 L496.2 166.8 L496.1 167.2 L495.9 167.6 L495.7 167.9 L495.6 168.2 L495.4 168.5 L495.3 168.7 L495.1 168.9 L494.9 169.0 L494.8 169.2 L494.6 169.3 L494.4 169.4 L494.3 169.5 L494.1 169.6 L494.0 169.6 L493.8 169.7 L493.6 169.7 L493.5 169.8 L493.3 169.8 L493.1 169.9 L493.0 169.9 L492.8 169.9 L492.7 169.9 L492.5 170.0 L492.3 170.0 L492.2 170.0 L492.0 170.0 L491.8 170.0 L491.7 170.0 L491.5 170.0 L491.3 170.0 L491.2 170.0 L491.0 170.0 L490.9 170.1 L490.7 170.1 L490.5 170.1 L490.4 170.1 L490.2 170.1 L490.0 170.1 L489.9 170.1 L489.7 170.1 L489.6 170.1 L489.4 170.1 L489.2 170.1 L489.1 170.1 L488.9 170.1 L488.7 170.1 L488.6 170.1 L487.0 170.1 L483.7 170.1 L480.4 170.1 L477.2 170.1 L473.9 170.1 L470.7 170.1 L467.4 170.1 L464.2 170.1 L460.9 170.1 L457.7 170.1 L454.4 170.1 L451.2 170.1 L447.9 170.1 L444.6 170.1 L441.4 170.1 L438.1 170.1 L434.9 170.1 L431.6 170.1 L428.4 170.1 L425.1 170.1 L421.9 170.1 L418.6 170.1Z" fill="#ffff00"/>
<path d="M418.6 152.4 L421.9 152.4 L425.1 152.4 L428.4 152.4 L431.6 152.4 L434.9 152.4 L438.1 152.4 L441.4 152.4 L444.6 152.4 L447.9 152.4 L451.2 152.4 L454.4 152.4 L457.7 152.4 L460.9 152.4 L464.2 152.4 L467.4 152.4 L470.7 152.4 L473.9 152.4 L477.2 152.4 L480.4 152.4 L483.7 152.4 L487.0 152.4 L488.6 152.4 L488.7 152.4 L488.9 152.4 L489.1 152.4 L489.2 152.4 L489.4 152.4 L489.6 152.4 L489.7 152.4 L489.9 152.4 L490.0 152.4 L490.2 152.4 L490.4 152.4 L490.5 152.4 L490.7 152.4 L490.9 152.4 L491.0 152.3 L491.2 152.3 L491.3 152.3 L491.5 152.3 L491.7 152.3 L491.8 152.3 L492.0 152.3 L492.2 152.3 L492.3 152.3 L492.5 152.3 L492.7 152.2 L492.8 152.2 L493.0 152.2 L493.1 152.2 L493.3 152.1 L493.5 152.1 L493.6 152.0 L493.8 152.0 L494.0 151.9 L494.1 151.9 L494.3 151.8 L494.4 151.7 L494.6 151.6 L494.8 151.5 L494.9 151.3 L495.1 151.2 L495.3 151.0 L495.4 150.8 L495.6 150.5 L495.7 150.2 L495.9 149.9 L496.1 149.5 L496.2 149.1 L496.4 148.6 L496.6 148.1 L496.7 147.4 L496.9 146.7 L497.0 145.8 L497.2 144.9 L497.4 143.8 L497.5 142.5 L497.7 141.0 L497.9 139.3 L498.0 137.3 L498.2 135.1 L498.3 132.5 L498.5 129.6 L498.7 126.2 L498.8 122.2 L499.0 117.8 L499.2 112.6 L499.3 106.7 L499.5 107.0 L499.6 107.3 L499.8 107.6 L500.0 107.9 L500.1 108.2 L500.3 108.5 L500.5 108.8 L500.6 109.1 L500.8 109.4 L501.0 109.6 L501.1 109.9 L501.3 110.2 L501.4 110.5 L501.6 110.8 L501.8 111.1 L501.9 111.3 L502.1 111.6 L502.3 111.9 L502.4 112.2 L502.6 112.4 L502.7 112.7 L502.9 113.0 L503.1 113.2 L503.2 113.5 L503.4 113.8 L503.6 114.0 L503.7 114.3 L503.9 114.5 L504.5 115.6 L505.2 116.5 L505.8 117.5 L506.5 118.4 L507.1 119.3 L507.8 120.2 L508.4 121.1 L509.1 121.9 L509.7 122.7 L510.4 123.5 L511.0 124.2 L511.7 124.9 L511.9 125.1 L512.0 125.3 L512.2 125.4 L512.3 125.6 L512.5 125.8 L512.7 125.9 L512.8 126.1 L513.0 126.2 L513.2 126.4 L513.3 126.5 L513.5 126.7 L513.6 126.8 L513.8 126.9 L514.0 127.0 L514.1 127.1 L514.3 127.2 L514.5 127.3 L514.6 127.4 L514.8 127.5 L514.9 127.5 L515.1 127.6 L515.3 127.6 L515.4 127.6 L515.6 127.6 L515.8 127.5 L515.9 127.5 L516.1 127.4 L516.2 127.3 L516.4 127.1 L516.6 126.9 L516.7 126.7 L516.9 126.4 L517.1 126.0 L517.2 125.6 L517.4 125.1 L517.6 124.5 L517.7 123.9 L517.9 123.1 L518.0 122.2 L518.2 121.2 L518.4 120.0 L518.5 118.7 L518.7 117.2 L518.9 115.5 L519.0 113.5 L519.2 111.3 L519.3 108.7 L519.5 105.9 L519.7 102.6 L519.8 99.0 L520.0 94.8 L520.2 90.1 L520.3 84.8 L520.5 78.8 L520.6 72.0 L520.8 64.4 L521.0 55.8 L521.1 46.0 L521.3 35.0 L521.5 22.6 L521.6 23.4 L521.8 24.1 L521.9 24.9 L522.1 25.6 L522.3 26.4 L522.4 27.1 L522.6 27.8 L522.8 28.6 L522.9 29.3 L523.1 30.0 L523.2 30.7 L523.4 31.4 L523.6 32.1 L523.7 32.8 L523.9 33.5 L524.1 34.2 L524.2 34.9 L524.4 35.6 L524.6 36.2 L524.7 36.9 L524.9 37.6 L525.0 38.3 L525.2 38.9 L525.4 39.6 L525.5 40.2 L525.7 40.9 L525.9 41.5 L526.0 42.2 L526.7 44.7 L527.3 47.2 L528.0 49.7 L528.6 52.0 L528.8 52.6 L528.9 53.2 L529.1 53.8 L529.3 54.4 L529.4 54.9 L529.6 55.5 L529.8 56.1 L529.9 56.6 L530.1 57.2 L530.2 57.7 L530.4 58.3 L530.6 58.8 L530.7 59.4 L530.9 59.9 L531.1 60.5 L531.2 61.0 L531.4 61.6 L531.5 62.1 L531.7 62.6 L531.9 63.1 L532.0 63.7 L532.2 64.2 L532.4 64.7 L532.5 65.2 L532.7 65.7 L532.9 66.2 L533.0 66.7 L533.2 67.2 L533.3 67.7 L533.5 68.2 L533.7 68.7 L533.8 69.2 L534.0 69.7 L534.2 70.2 L534.3 70.7 L534.5 71.2 L534.6 71.6 L534.8 72.1 L535.0 72.6 L535.1 73.1 L535.3 73.5 L535.5 74.0 L535.6 74.5 L535.8 74.9 L535.9 75.4 L536.1 75.8 L536.3 76.3 L536.4 76.7 L537.1 78.5 L537.7 80.3 L538.4 82.0 L539.0 83.6 L539.7 85.2 L540.3 86.8 L541.0 88.4 L541.6 89.9 L542.3 91.4 L542.9 92.9 L543.6 94.3 L544.2 95.7 L544.9 97.0 L545.5 98.4 L545.7 98.7 L545.9 99.0 L546.0 99.4 L546.2 99.7 L546.4 100.0 L546.5 100.3 L546.7 100.6 L546.8 101.0 L547.0 101.3 L547.2 101.6 L547.3 101.9 L547.5 102.2 L547.7 102.5 L547.8 102.8 L548.0 103.1 L548.1 103.4 L548.3 103.7 L548.5 104.0 L548.6 104.3 L548.8 104.6 L549.0 104.9 L549.1 105.2 L549.3 105.5 L549.5 105.8 L549.6 106.1 L549.8 106.4 L549.9 106.7 L550.1 106.9 L550.3 107.2 L550.4 107.5 L550.6 107.8 L550.8 108.1 L550.9 108.3 L551.1 108.6 L551.2 108.9 L551.4 109.2 L551.6 109.4 L551.7 109.7 L551.9 110.0 L552.1 110.2 L553.0 111.8 L554.0 113.3 L555.0 114.8 L556.0 116.2 L556.9 117.6 L557.9 118.9 L558.9 120.2 L559.9 121.4 L560.8 122.6 L561.8 123.8 L562.8 124.9 L563.8 126.0 L564.7 127.0 L565.7 128.0 L566.7 129.0 L567.7 130.0 L568.7 130.9 L569.6 131.8 L570.6 132.6 L571.6 133.4 L572.6 134.2 L573.5 135.0 L574.5 135.7 L575.5 136.4 L576.5 137.1 L577.4 137.8 L578.4 138.4 L579.4 139.0 L580.4 139.6 L581.4 140.2 L582.3 140.7 L583.3 141.3 L584.3 141.8 L585.3 142.3 L586.2 142.7 L587.2 143.2 L588.2 143.6 L589.2 144.0 L590.1 144.4 L591.1 144.8 L592.1 145.2 L593.1 145.5 L594.0 145.9 L595.0 146.2 L596.0 146.5 L597.0 146.8 L598.0 147.1 L598.9 147.4 L599.9 147.6 L600.9 147.9 L601.9 148.1 L602.8 148.3 L603.8 148.6 L604.8 148.8 L605.8 149.0 L606.7 149.1 L607.7 149.3 L608.7 149.5 L609.7 149.7 L610.6 149.8 L611.6 150.0 L612.6 150.1 L613.6 150.2 L613.9 150.3 L616.5 150.6 L619.1 150.9 L621.7 151.1 L624.3 151.3 L626.9 151.5 L629.5 151.6 L632.1 151.7 L634.7 151.8 L637.3 151.9 L639.9 152.0 L642.5 152.1 L645.1 152.1 L647.8 152.2 L650.4 152.2 L653.0 152.2 L655.6 152.3 L658.2 152.3 L660.8 152.3 L663.4 152.3 L666.0 152.3 L668.6 152.3 L671.2 152.3 L673.8 152.3 L676.4 152.4 L679.0 152.4 L681.6 152.4 L684.2 152.4 L686.8 152.4 L689.4 152.4 L692.0 152.4 L694.6 152.4 L697.2 152.4 L699.8 152.4 L700.3 152.4 L700.3 164.2 L699.8 164.2 L697.2 164.2 L694.6 164.2 L692.0 164.2 L689.4 164.2 L686.8 164.2 L684.2 164.2 L681.6 164.2 L679.0 164.2 L676.4 164.2 L673.8 164.1 L671.2 164.1 L668.6 164.1 L666.0 164.1 L663.4 164.1 L660.8 164.1 L658.2 164.1 L655.6 164.1 L653.0 164.0 L650.4 164.0 L647.8 164.0 L645.1 163.9 L642.5 163.9 L639.9 163.8 L637.3 163.7 L634.7 163.6 L632.1 163.5 L629.5 163.4 L626.9 163.3 L624.3 163.1 L621.7 162.9 L619.1 162.7 L616.5 162.4 L613.9 162.1 L613.6 162.0 L612.6 161.9 L611.6 161.8 L610.6 161.6 L609.7 161.5 L608.7 161.3 L607.7 161.1 L606.7 160.9 L605.8 160.8 L604.8 160.6 L603.8 160.4 L602.8 160.1 L601.9 159.9 L600.9 159.7 L599.9 159.4 L598.9 159.2 L598.0 158.9 L597.0 158.6 L596.0 158.3 L595.0 158.0 L594.0 157.7 L593.1 157.3 L592.1 157.0 L591.1 156.6 L590.1 156.2 L589.2 155.8 L588.2 155.4 L587.2 155.0 L586.2 154.5 L585.3 154.1 L584.3 153.6 L583.3 153.1 L582.3 152.5 L581.4 152.0 L580.4 151.4 L579.4 150.8 L578.4 150.2 L577.4 149.6 L576.5 148.9 L575.5 148.2 L574.5 147.5 L573.5 146.8 L572.6 146.0 L571.6 145.2 L570.6 144.4 L569.6 143.6 L568.7 142.7 L567.7 141.8 L566.7 140.8 L565.7 139.8 L564.7 138.8 L563.8 137.8 L562.8 136.7 L561.8 135.6 L560.8 134.4 L559.9 133.2 L558.9 132.0 L557.9 130.7 L556.9 129.4 L556.0 128.0 L555.0 126.6 L554.0 125.1 L553.0 123.6 L552.1 122.0 L551.9 121.8 L551.7 121.5 L551.6 121.2 L551.4 121.0 L551.2 120.7 L551.1 120.4 L550.9 120.1 L550.8 119.9 L550.6 119.6 L550.4 119.3 L550.3 119.0 L550.1 118.7 L549.9 118.5 L549.8 118.2 L549.6 117.9 L549.5 117.6 L549.3 117.3 L549.1 117.0 L549.0 116.7 L548.8 116.4 L548.6 116.1 L548.5 115.8 L548.3 115.5 L548.1 115.2 L548.0 114.9 L547.8 114.6 L547.7 114.3 L547.5 114.0 L547.3 113.7 L547.2 113.4 L547.0 113.1 L546.8 112.8 L546.7 112.4 L546.5 112.1 L546.4 111.8 L546.2 111.5 L546.0 111.2 L545.9 110.8 L545.7 110.5 L545.5 110.2 L544.9 108.8 L544.2 107.5 L543.6 106.1 L542.9 104.7 L542.3 103.2 L541.6 101.7 L541.0 100.2 L540.3 98.6 L539.7 97.0 L539.0 95.4 L538.4 93.8 L537.7 92.1 L537.1 90.3 L536.4 88.5 L536.3 88.1 L536.1 87.6 L535.9 87.2 L535.8 86.7 L535.6 86.3 L535.5 85.8 L535.3 85.3 L535.1 84.9 L535.0 84.4 L534.8 83.9 L534.6 83.4 L534.5 83.0 L534.3 82.5 L534.2 82.0 L534.0 81.5 L533.8 81.0 L533.7 80.5 L533.5 80.0 L533.3 79.5 L533.2 79.0 L533.0 78.5 L532.9 78.0 L532.7 77.5 L532.5 77.0 L532.4 76.5 L532.2 76.0 L532.0 75.5 L531.9 74.9 L531.7 74.4 L531.5 73.9 L531.4 73.4 L531.2 72.8 L531.1 72.3 L530.9 71.7 L530.7 71.2 L530.6 70.6 L530.4 70.1 L530.2 69.5 L530.1 69.0 L529.9 68.4 L529.8 67.9 L529.6 67.3 L529.4 66.7 L529.3 66.2 L529.1 65.6 L528.9 65.0 L528.8 64.4 L528.6 63.8 L528.0 61.5 L527.3 59.0 L526.7 56.5 L526.0 54.0 L525.9 53.3 L525.7 52.7 L525.5 52.0 L525.4 51.4 L525.2 50.7 L525.0 50.1 L524.9 49.4 L524.7 48.7 L524.6 48.0 L524.4 47.4 L524.2 46.7 L524.1 46.0 L523.9 45.3 L523.7 44.6 L523.6 43.9 L523.4 43.2 L523.2 42.5 L523.1 41.8 L522.9 41.1 L522.8 40.4 L522.6 39.6 L522.4 38.9 L522.3 38.2 L522.1 37.4 L521.9 36.7 L521.8 35.9 L521.6 35.2 L521.5 34.4 L521.3 46.8 L521.1 57.8 L521.0 67.6 L520.8 76.2 L520.6 83.8 L520.5 90.6 L520.3 96.6 L520.2 101.9 L520.0 106.6 L519.8 110.8 L519.7 114.4 L519.5 117.7 L519.3 120.5 L519.2 123.1 L519.0 125.3 L518.9 127.3 L518.7 129.0 L518.5 130.5 L518.4 131.8 L518.2 133.0 L518.0 134.0 L517.9 134.9 L517.7 135.7 L517.6 136.3 L517.4 136.9 L517.2 137.4 L517.1 137.8 L516.9 138.2 L516.7 138.5 L516.6 138.7 L516.4 138.9 L516.2 139.1 L516.1 139.2 L515.9 139.3 L515.8 139.3 L515.6 139.4 L515.4 139.4 L515.3 139.4 L515.1 139.4 L514.9 139.3 L514.8 139.3 L514.6 139.2 L514.5 139.1 L514.3 139.0 L514.1 138.9 L514.0 138.8 L513.8 138.7 L513.6 138.6 L513.5 138.5 L513.3 138.3 L513.2 138.2 L513.0 138.0 L512.8 137.9 L512.7 137.7 L512.5 137.6 L512.3 137.4 L512.2 137.2 L512.0 137.1 L511.9 136.9 L511.7 136.7 L511.0 136.0 L510.4 135.3 L509.7 134.5 L509.1 133.7 L508.4 132.9 L507.8 132.0 L507.1 131.1 L506.5 130.2 L505.8 129.3 L505.2 128.3 L504.5 127.4 L503.9 126.3 L503.7 126.1 L503.6 125.8 L503.4 125.6 L503.2 125.3 L503.1 125.0 L502.9 124.8 L502.7 124.5 L502.6 124.2 L502.4 124.0 L502.3 123.7 L502.1 123.4 L501.9 123.1 L501.8 122.9 L501.6 122.6 L501.4 122.3 L501.3 122.0 L501.1 121.7 L501.0 121.4 L500.8 121.2 L500.6 120.9 L500.5 120.6 L500.3 120.3 L500.1 120.0 L500.0 119.7 L499.8 119.4 L499.6 119.1 L499.5 118.8 L499.3 118.5 L499.2 124.4 L499.0 129.6 L498.8 134.0 L498.7 138.0 L498.5 141.4 L498.3 144.3 L498.2 146.9 L498.0 149.1 L497.9 151.1 L497.7 152.8 L497.5 154.3 L497.4 155.6 L497.2 156.7 L497.0 157.6 L496.9 158.5 L496.7 159.2 L496.6 159.9 L496.4 160.4 L496.2 160.9 L496.1 161.3 L495.9 161.7 L495.7 162.0 L495.6 162.3 L495.4 162.6 L495.3 162.8 L495.1 163.0 L494.9 163.1 L494.8 163.3 L494.6 163.4 L494.4 163.5 L494.3 163.6 L494.1 163.7 L494.0 163.7 L493.8 163.8 L493.6 163.8 L493.5 163.9 L493.3 163.9 L493.1 164.0 L493.0 164.0 L492.8 164.0 L492.7 164.0 L492.5 164.1 L492.3 164.1 L492.2 164.1 L492.0 164.1 L491.8 164.1 L491.7 164.1 L491.5 164.1 L491.3 164.1 L491.2 164.1 L491.0 164.1 L490.9 164.2 L490.7 164.2 L490.5 164.2 L490.4 164.2 L490.2 164.2 L490.0 164.2 L489.9 164.2 L489.7 164.2 L489.6 164.2 L489.4 164.2 L489.2 164.2 L489.1 164.2 L488.9 164.2 L488.7 164.2 L488.6 164.2 L487.0 164.2 L483.7 164.2 L480.4 164.2 L477.2 164.2 L473.9 164.2 L470.7 164.2 L467.4 164.2 L464.2 164.2 L460.9 164.2 L457.7 164.2 L454.4 164.2 L451.2 164.2 L447.9 164.2 L444.6 164.2 L441.4 164.2 L438.1 164.2 L434.9 164.2 L431.6 164.2 L428.4 164.2 L425.1 164.2 L421.9 164.2 L418.6 164.2Z" fill="#ff0000"/>
<path d="M418.6 152.2 L418.9 159.2 L419.3 160.0 L419.6 156.7 L419.9 159.2 L420.2 157.6 L420.6 158.0 L420.9 162.4 L421.2 156.0 L421.5 156.5 L421.9 159.4 L422.2 155.6 L422.5 153.8 L422.8 157.1 L423.2 157.6 L423.5 158.5 L423.8 153.2 L424.1 154.3 L424.5 153.4 L424.8 156.4 L425.1 151.3 L425.4 156.1 L425.8 159.5 L426.1 151.6 L426.4 156.8 L426.7 160.8 L427.1 158.5 L427.4 161.5 L427.7 153.2 L428.0 157.5 L428.4 156.2 L428.7 153.5 L429.0 161.8 L429.3 151.9 L429.7 159.8 L430.0 157.4 L430.3 159.7 L430.6 152.8 L431.0 150.6 L431.3 155.1 L431.6 152.0 L431.9 155.6 L432.3 156.0 L432.6 158.2 L432.9 158.3 L433.2 157.8 L433.6 153.6 L433.9 148.4 L434.2 154.7 L434.5 157.0 L434.9 152.7 L435.2 156.8 L435.5 156.5 L435.9 156.2 L436.2 155.9 L436.5 154.2 L436.8 156.5 L437.2 153.5 L437.5 156.8 L437.8 154.5 L438.1 159.5 L438.5 162.6 L438.8 157.1 L439.1 152.4 L439.4 157.5 L439.8 158.8 L440.1 159.9 L440.4 160.7 L440.7 156.1 L441.1 157.6 L441.4 153.2 L441.7 159.0 L442.0 158.4 L442.4 154.5 L442.7 152.3 L443.0 155.7 L443.3 153.8 L443.7 152.4 L444.0 154.5 L444.3 158.8 L444.6 153.3 L445.0 153.9 L445.3 158.0 L445.6 160.9 L445.9 156.1 L446.3 158.6 L446.6 158.8 L446.9 153.2 L447.2 152.9 L447.6 156.0 L447.9 154.1 L448.2 153.7 L448.5 155.3 L448.9 157.1 L449.2 158.2 L449.5 156.5 L449.8 150.1 L450.2 152.7 L450.5 155.3 L450.8 156.6 L451.2 157.5 L451.5 156.8 L451.8 155.8 L452.1 159.7 L452.5 155.9 L452.8 159.7 L453.1 154.4 L453.4 159.0 L453.8 153.7 L454.1 158.5 L454.4 159.3 L454.7 157.2 L455.1 153.5 L455.4 153.6 L455.7 157.5 L456.0 155.2 L456.4 156.5 L456.7 158.3 L457.0 157.8 L457.3 148.8 L457.7 153.7 L458.0 154.2 L458.3 150.5 L458.6 155.7 L459.0 156.7 L459.3 155.1 L459.6 153.9 L459.9 152.5 L460.3 153.1 L460.6 155.1 L460.9 156.9 L461.2 157.3 L461.6 158.6 L461.9 157.4 L462.2 158.8 L462.5 162.1 L462.9 155.3 L463.2 159.2 L463.5 160.0 L463.8 152.6 L464.2 157.5 L464.5 155.9 L464.8 157.7 L465.1 160.6 L465.5 161.4 L465.8 159.1 L466.1 157.8 L466.4 160.6 L466.8 159.0 L467.1 160.7 L467.4 154.8 L467.8 162.7 L468.1 156.2 L468.4 153.0 L468.7 154.2 L469.1 154.4 L469.4 161.1 L469.7 155.5 L470.0 153.7 L470.4 152.9 L470.7 158.5 L471.0 154.9 L471.3 150.7 L471.7 158.2 L472.0 151.5 L472.3 148.9 L472.6 154.8 L473.0 153.1 L473.3 154.6 L473.6 154.7 L473.9 155.4 L474.3 155.4 L474.6 155.0 L474.9 153.9 L475.2 159.1 L475.6 158.5 L475.9 155.6 L476.2 155.7 L476.5 162.0 L476.9 157.1 L477.2 158.9 L477.5 157.8 L477.8 158.5 L478.2 156.0 L478.5 159.4 L478.8 162.0 L479.1 161.6 L479.5 154.4 L479.8 155.5 L480.1 154.0 L480.4 155.7 L480.8 158.7 L481.1 155.2 L481.4 159.5 L481.7 162.3 L482.1 150.4 L482.4 159.0 L482.7 154.6 L483.0 154.1 L483.4 155.0 L483.7 158.0 L484.0 155.2 L484.4 158.8 L484.7 158.9 L485.0 154.4 L485.3 152.9 L485.7 155.6 L486.0 153.9 L486.3 155.4 L486.6 155.2 L487.0 161.2 L487.3 157.2 L487.6 156.8 L487.9 159.4 L488.3 157.8 L488.6 161.7 L488.9 161.6 L489.2 159.6 L489.6 159.4 L489.9 156.2 L490.2 156.9 L490.5 154.4 L490.9 158.3 L491.2 156.2 L491.5 157.0 L491.8 154.6 L492.2 152.5 L492.5 155.4 L492.8 152.6 L493.1 149.6 L493.5 153.7 L493.8 155.8 L494.1 150.3 L494.4 151.2 L494.8 149.6 L495.1 152.2 L495.4 151.9 L495.7 159.2 L496.1 155.9 L496.4 152.1 L496.7 151.3 L497.0 153.8 L497.4 141.5 L497.7 142.4 L498.0 135.1 L498.3 133.8 L498.7 119.4 L499.0 111.7 L499.3 91.8 L499.6 102.7 L500.0 102.2 L500.3 104.3 L500.6 106.9 L501.0 106.2 L501.3 107.8 L501.6 109.2 L501.9 113.8 L502.3 116.5 L502.6 115.9 L502.9 114.0 L503.2 114.2 L503.6 116.1 L503.9 122.4 L504.2 117.1 L504.5 114.8 L504.9 116.2 L505.2 120.4 L505.5 119.2 L505.8 124.0 L506.2 120.8 L506.5 121.6 L506.8 117.7 L507.1 122.5 L507.5 126.9 L507.8 122.5 L508.1 123.1 L508.4 126.5 L508.8 128.9 L509.1 132.2 L509.4 124.1 L509.7 128.7 L510.1 135.1 L510.4 135.1 L510.7 131.5 L511.0 129.3 L511.4 132.3 L511.7 131.7 L512.0 135.8 L512.3 135.0 L512.7 133.4 L513.0 136.1 L513.3 138.8 L513.6 135.3 L514.0 142.4 L514.3 138.9 L514.6 134.7 L514.9 132.8 L515.3 138.1 L515.6 133.2 L515.9 138.3 L516.2 135.3 L516.6 137.4 L516.9 139.2 L517.2 136.0 L517.6 130.9 L517.9 136.6 L518.2 133.8 L518.5 128.0 L518.9 128.9 L519.2 126.9 L519.5 115.7 L519.8 112.4 L520.2 93.5 L520.5 84.4 L520.8 72.6 L521.1 51.6 L521.5 18.9 L521.8 19.2 L522.1 30.3 L522.4 31.1 L522.8 31.7 L523.1 32.2 L523.4 28.8 L523.7 25.1 L524.1 25.6 L524.4 31.8 L524.7 41.3 L525.0 37.2 L525.4 43.5 L525.7 48.8 L526.0 52.6 L526.3 54.2 L526.7 56.5 L527.0 61.6 L527.3 62.1 L527.6 69.1 L528.0 68.0 L528.3 74.7 L528.6 73.5 L528.9 75.9 L529.3 73.3 L529.6 83.2 L529.9 84.9 L530.2 82.8 L530.6 86.3 L530.9 85.4 L531.2 82.5 L531.5 79.2 L531.9 74.7 L532.2 80.2 L532.5 67.6 L532.9 64.9 L533.2 60.8 L533.5 49.7 L533.8 45.3 L534.2 46.1 L534.5 55.5 L534.8 53.9 L535.1 55.7 L535.5 59.5 L535.8 57.2 L536.1 58.1 L536.4 62.6 L536.8 61.9 L537.1 64.8 L537.4 67.7 L537.7 65.6 L538.1 67.3 L538.4 71.7 L538.7 75.6 L539.0 71.6 L539.4 82.3 L539.7 78.6 L540.0 76.6 L540.3 83.1 L540.7 89.4 L541.0 92.6 L541.3 89.0 L541.6 95.0 L542.0 92.9 L542.3 94.6 L542.6 99.2 L542.9 101.5 L543.3 101.3 L543.6 107.2 L543.9 105.6 L544.2 103.2 L544.6 103.8 L544.9 102.3 L545.2 107.4 L545.5 105.8 L545.9 105.5 L546.2 111.3 L546.5 110.6 L546.8 112.9 L547.2 104.5 L547.5 107.6 L547.8 105.9 L548.1 103.8 L548.5 101.9 L548.8 100.1 L549.1 94.4 L549.5 96.7 L549.8 91.8 L550.1 96.4 L550.4 101.7 L550.8 94.1 L551.1 102.6 L551.4 99.9 L551.7 103.1 L552.1 99.0 L552.4 101.4 L552.7 105.8 L553.0 108.6 L553.4 104.9 L553.7 102.8 L554.0 107.6 L554.3 109.5 L554.7 111.0 L555.0 121.5 L555.3 117.6 L555.6 119.8 L556.0 114.4 L556.3 120.3 L556.6 121.6 L556.9 121.7 L557.3 126.3 L557.6 120.0 L557.9 122.2 L558.2 120.0 L558.6 120.9 L558.9 120.1 L559.2 126.1 L559.5 121.6 L559.9 123.5 L560.2 129.1 L560.5 124.9 L560.8 126.0 L561.2 127.7 L561.5 130.3 L561.8 130.4 L562.1 127.7 L562.5 123.7 L562.8 132.7 L563.1 130.3 L563.4 132.1 L563.8 129.5 L564.1 129.7 L564.4 129.7 L564.7 140.3 L565.1 137.0 L565.4 135.8 L565.7 136.5 L566.1 137.7 L566.4 139.0 L566.7 135.0 L567.0 131.2 L567.4 146.0 L567.7 139.7 L568.0 140.4 L568.3 138.3 L568.7 140.2 L569.0 145.0 L569.3 144.3 L569.6 137.7 L570.0 135.3 L570.3 137.3 L570.6 142.2 L570.9 140.7 L571.3 139.8 L571.6 140.1 L571.9 142.1 L572.2 145.5 L572.6 144.8 L572.9 145.9 L573.2 140.4 L573.5 139.6 L573.9 145.5 L574.2 140.9 L574.5 143.6 L574.8 140.1 L575.2 142.1 L575.5 146.8 L575.8 142.2 L576.1 147.1 L576.5 149.8 L576.8 149.4 L577.1 147.8 L577.4 147.0 L577.8 144.9 L578.1 148.7 L578.4 146.5 L578.7 146.1 L579.1 151.3 L579.4 153.1 L579.7 146.6 L580.0 145.6 L580.4 151.2 L580.7 154.9 L581.0 148.2 L581.4 146.6 L581.7 153.7 L582.0 147.2 L582.3 150.1 L582.7 153.0 L583.0 149.0 L583.3 154.7 L583.6 150.4 L584.0 147.4 L584.3 151.2 L584.6 153.7 L584.9 156.1 L585.3 156.2 L585.6 157.1 L585.9 148.8 L586.2 155.2 L586.6 156.4 L586.9 156.4 L587.2 156.0 L587.5 156.3 L587.9 156.1 L588.2 147.3 L588.5 152.6 L588.8 152.7 L589.2 152.2 L589.5 148.8 L589.8 150.2 L590.1 151.3 L590.5 151.0 L590.8 150.6 L591.1 152.3 L591.4 154.1 L591.8 157.0 L592.1 156.0 L592.4 151.5 L592.7 154.8 L593.1 151.3 L593.4 152.2 L593.7 156.3 L594.0 152.0 L594.4 150.5 L594.7 149.9 L595.0 147.2 L595.3 156.2 L595.7 153.9 L596.0 149.6 L596.3 150.6 L596.6 152.1 L597.0 151.7 L597.3 155.1 L597.6 152.4 L598.0 156.2 L598.3 153.2 L598.6 153.6 L598.9 154.5 L599.3 150.5 L599.6 151.2 L599.9 155.2 L600.2 155.3 L600.6 150.6 L600.9 152.3 L601.2 157.4 L601.5 154.9 L601.9 158.0 L602.2 143.8 L602.5 147.0 L602.8 150.3 L603.2 152.9 L603.5 152.2 L603.8 150.5 L604.1 152.1 L604.5 150.1 L604.8 154.5 L605.1 152.4 L605.4 160.5 L605.8 160.3 L606.1 154.7 L606.4 151.2 L606.7 155.7 L607.1 156.9 L607.4 152.8 L607.7 154.1 L608.0 149.0 L608.4 150.7 L608.7 149.5 L609.0 152.3 L609.3 155.5 L609.7 151.6 L610.0 150.0 L610.3 153.3 L610.6 152.5 L611.0 149.0 L611.3 151.9 L611.6 147.4 L611.9 150.6 L612.3 151.2 L612.6 148.7 L612.9 150.9 L613.2 144.5 L613.6 152.5 L613.9 153.2 L614.2 157.4 L614.6 158.5 L614.9 157.5 L615.2 150.7 L615.5 155.7 L615.9 152.6 L616.2 150.7 L616.5 153.3 L616.8 148.8 L617.2 152.8 L617.5 149.9 L617.8 151.7 L618.1 149.9 L618.5 157.1 L618.8 153.6 L619.1 156.0 L619.4 157.2 L619.8 153.1 L620.1 155.0 L620.4 154.4 L620.7 152.1 L621.1 152.4 L621.4 155.6 L621.7 152.4 L622.0 153.3 L622.4 156.3 L622.7 152.3 L623.0 157.2 L623.3 151.9 L623.7 154.9 L624.0 153.9 L624.3 148.4 L624.6 153.5 L625.0 152.1 L625.3 157.6 L625.6 158.5 L625.9 159.8 L626.3 155.2 L626.6 153.7 L626.9 156.3 L627.2 155.7 L627.6 157.8 L627.9 158.5 L628.2 156.5 L628.5 155.4 L628.9 155.5 L629.2 157.2 L629.5 158.5 L629.8 158.8 L630.2 157.0 L630.5 156.4 L630.8 160.1 L631.2 158.0 L631.5 155.2 L631.8 158.4 L632.1 158.8 L632.5 160.3 L632.8 151.6 L633.1 164.1 L633.4 160.9 L633.8 158.4 L634.1 152.1 L634.4 156.4 L634.7 159.2 L635.1 161.1 L635.4 157.0 L635.7 156.6 L636.0 160.9 L636.4 160.8 L636.7 160.6 L637.0 156.3 L637.3 157.3 L637.7 159.4 L638.0 159.8 L638.3 164.3 L638.6 159.3 L639.0 160.3 L639.3 156.0 L639.6 155.1 L639.9 159.1 L640.3 160.6 L640.6 154.4 L640.9 154.6 L641.2 158.3 L641.6 164.6 L641.9 158.3 L642.2 156.0 L642.5 153.3 L642.9 162.3 L643.2 160.5 L643.5 160.1 L643.8 159.4 L644.2 162.3 L644.5 158.9 L644.8 159.9 L645.1 158.6 L645.5 159.4 L645.8 155.1 L646.1 158.2 L646.5 155.5 L646.8 153.6 L647.1 151.7 L647.4 158.1 L647.8 155.1 L648.1 152.6 L648.4 152.7 L648.7 137.2 L649.1 141.9 L649.4 142.8 L649.7 148.7 L650.0 149.8 L650.4 146.1 L650.7 144.2 L651.0 151.3 L651.3 152.1 L651.7 156.5 L652.0 157.2 L652.3 149.1 L652.6 146.4 L653.0 156.4 L653.3 153.8 L653.6 156.6 L653.9 151.4 L654.3 152.0 L654.6 155.9 L654.9 154.4 L655.2 149.3 L655.6 156.3 L655.9 160.6 L656.2 158.8 L656.5 162.7 L656.9 154.0 L657.2 156.9 L657.5 152.1 L657.8 152.1 L658.2 155.8 L658.5 155.2 L658.8 152.9 L659.1 154.6 L659.5 150.4 L659.8 155.3 L660.1 149.7 L660.4 154.9 L660.8 160.4 L661.1 156.2 L661.4 154.2 L661.7 148.7 L662.1 156.7 L662.4 162.2 L662.7 152.9 L663.1 155.8 L663.4 153.2 L663.7 155.0 L664.0 157.5 L664.4 151.8 L664.7 157.5 L665.0 158.0 L665.3 158.8 L665.7 155.1 L666.0 158.6 L666.3 154.8 L666.6 155.8 L667.0 155.3 L667.3 155.5 L667.6 152.7 L667.9 151.7 L668.3 155.1 L668.6 160.2 L668.9 159.7 L669.2 157.2 L669.6 159.2 L669.9 158.1 L670.2 155.3 L670.5 160.9 L670.9 154.0 L671.2 155.5 L671.5 158.8 L671.8 156.4 L672.2 156.1 L672.5 160.1 L672.8 162.5 L673.1 157.5 L673.5 159.8 L673.8 161.3 L674.1 160.8 L674.4 157.1 L674.8 161.2 L675.1 160.9 L675.4 157.6 L675.7 161.3 L676.1 160.6 L676.4 161.7 L676.7 161.0 L677.0 160.0 L677.4 160.1 L677.7 157.4 L678.0 161.7 L678.3 162.0 L678.7 160.3 L679.0 159.6 L679.3 160.5 L679.7 162.9 L680.0 157.3 L680.3 157.4 L680.6 157.8 L681.0 158.8 L681.3 160.9 L681.6 161.1 L681.9 158.7 L682.3 157.4 L682.6 156.7 L682.9 158.7 L683.2 156.3 L683.6 157.8 L683.9 159.9 L684.2 157.2 L684.5 156.8 L684.9 154.0 L685.2 156.5 L685.5 155.7 L685.8 160.6 L686.2 157.3 L686.5 164.5 L686.8 159.3 L687.1 159.7 L687.5 155.4 L687.8 158.9 L688.1 159.5 L688.4 160.2 L688.8 160.9 L689.1 158.0 L689.4 158.8 L689.7 158.1 L690.1 160.6 L690.4 159.1 L690.7 155.5 L691.0 165.0 L691.4 163.4 L691.7 157.5 L692.0 159.4 L692.3 159.8 L692.7 156.9 L693.0 162.4 L693.3 159.5 L693.6 156.5 L694.0 155.4 L694.3 164.8 L694.6 157.7 L694.9 156.4 L695.3 163.4 L695.6 163.3 L695.9 155.4 L696.3 161.8 L696.6 160.1 L696.9 162.2 L697.2 166.4 L697.6 165.8 L697.9 165.8 L698.2 165.8 L698.5 165.8 L698.9 165.8 L699.2 165.8 L699.5 165.8 L699.8 165.8 L700.2 165.8" fill="none" stroke="#000" stroke-width="0.62" stroke-linejoin="round"/>
</g>
<path d="M418.60 176.40v-3.31M418.60 11.00v3.31M434.88 176.40v-1.65M434.88 11.00v1.65M451.15 176.40v-1.65M451.15 11.00v1.65M467.43 176.40v-1.65M467.43 11.00v1.65M483.70 176.40v-3.31M483.70 11.00v3.31M499.98 176.40v-1.65M499.98 11.00v1.65M516.25 176.40v-1.65M516.25 11.00v1.65M532.52 176.40v-1.65M532.52 11.00v1.65M548.80 176.40v-3.31M548.80 11.00v3.31M565.08 176.40v-1.65M565.08 11.00v1.65M581.35 176.40v-1.65M581.35 11.00v1.65M597.62 176.40v-1.65M597.62 11.00v1.65M613.90 176.40v-3.31M613.90 11.00v3.31M630.18 176.40v-1.65M630.18 11.00v1.65M646.45 176.40v-1.65M646.45 11.00v1.65M662.73 176.40v-1.65M662.73 11.00v1.65M679.00 176.40v-3.31M679.00 11.00v3.31M695.28 176.40v-1.65M695.28 11.00v1.65M418.60 173.78h2.95M699.50 173.78h-2.95M418.60 166.40h5.90M699.50 166.40h-5.90M418.60 159.03h2.95M699.50 159.03h-2.95M418.60 151.65h2.95M699.50 151.65h-2.95M418.60 144.28h2.95M699.50 144.28h-2.95M418.60 136.90h5.90M699.50 136.90h-5.90M418.60 129.53h2.95M699.50 129.53h-2.95M418.60 122.15h2.95M699.50 122.15h-2.95M418.60 114.78h2.95M699.50 114.78h-2.95M418.60 107.40h5.90M699.50 107.40h-5.90M418.60 100.03h2.95M699.50 100.03h-2.95M418.60 92.65h2.95M699.50 92.65h-2.95M418.60 85.28h2.95M699.50 85.28h-2.95M418.60 77.90h5.90M699.50 77.90h-5.90M418.60 70.53h2.95M699.50 70.53h-2.95M418.60 63.15h2.95M699.50 63.15h-2.95M418.60 55.78h2.95M699.50 55.78h-2.95M418.60 48.40h5.90M699.50 48.40h-5.90M418.60 41.02h2.95M699.50 41.02h-2.95M418.60 33.65h2.95M699.50 33.65h-2.95M418.60 26.28h2.95M699.50 26.28h-2.95M418.60 18.90h5.90M699.50 18.90h-5.90M418.60 11.53h2.95M699.50 11.53h-2.95" stroke="#222" stroke-width="0.8" fill="none"/>
<rect x="418.60" y="11.00" width="280.90" height="165.40" fill="none" stroke="#444" stroke-width="1"/>
<text x="418.6" y="186.7" text-anchor="middle">0</text>
<text x="483.7" y="186.7" text-anchor="middle">200</text>
<text x="548.8" y="186.7" text-anchor="middle">400</text>
<text x="613.9" y="186.7" text-anchor="middle">600</text>
<text x="679.0" y="186.7" text-anchor="middle">800</text>
<text x="558.8" y="194.2" text-anchor="middle">time (min)</text>
<text x="416.8" y="168.7" text-anchor="end">0.0</text>
<text x="416.8" y="139.2" text-anchor="end">0.2</text>
<text x="416.8" y="109.7" text-anchor="end">0.4</text>
<text x="416.8" y="80.2" text-anchor="end">0.6</text>
<text x="416.8" y="50.7" text-anchor="end">0.8</text>
<text x="416.8" y="21.2" text-anchor="end">1.0</text>
<text transform="translate(400.0 93.7) rotate(-90)" text-anchor="middle" font-size="8">flux</text>
<text x="559.0" y="6.6" class="t" text-anchor="middle" font-size="9.5" fill="#000">KIC 12156549</text>
<text x="436.2" y="27.1">σ<tspan font-size="4.3" dy="1.5">n</tspan><tspan dy="-1.5"> = 0.040</tspan></text>
<path d="M638.0 26.8h26.6" stroke="#ff6060" stroke-width="1.5" fill="none"/>
<text x="672.8" y="29.8">1σ</text>
<path d="M638.0 36.8h26.6" stroke="#ffff40" stroke-width="1.5" fill="none"/>
<text x="672.8" y="39.8">2σ</text>
<path d="M638.0 46.8h26.6" stroke="#eeeeee" stroke-width="1.5" fill="none"/>
<text x="672.8" y="49.8">3σ</text>
<g clip-path="url(#c3)">
<path d="M24.5 375.6 L24.8 383.4 L25.2 384.4 L25.5 380.7 L25.8 383.4 L26.1 381.7 L26.5 382.1 L26.8 387.1 L27.1 379.8 L27.4 380.3 L27.8 383.7 L28.1 379.4 L28.4 377.3 L28.7 381.1 L29.1 381.6 L29.4 382.7 L29.7 376.7 L30.0 378.0 L30.4 376.9 L30.7 380.3 L31.0 374.6 L31.3 380.0 L31.7 383.7 L32.0 374.9 L32.3 380.8 L32.6 385.2 L33.0 382.7 L33.3 386.0 L33.6 376.7 L33.9 381.5 L34.3 380.0 L34.6 377.0 L34.9 386.3 L35.2 375.3 L35.6 384.1 L35.9 381.4 L36.2 384.0 L36.5 376.2 L36.9 373.8 L37.2 378.8 L37.5 375.3 L37.8 379.3 L38.2 379.8 L38.5 382.3 L38.8 382.5 L39.1 381.9 L39.5 377.1 L39.8 371.3 L40.1 378.3 L40.4 381.0 L40.8 376.2 L41.1 380.8 L41.4 380.4 L41.8 380.0 L42.1 379.8 L42.4 377.8 L42.7 380.4 L43.1 377.1 L43.4 380.7 L43.7 378.2 L44.0 383.7 L44.4 387.2 L44.7 381.1 L45.0 375.8 L45.3 381.5 L45.7 382.9 L46.0 384.2 L46.3 385.1 L46.6 379.9 L47.0 381.6 L47.3 376.6 L47.6 383.2 L47.9 382.5 L48.3 378.1 L48.6 375.7 L48.9 379.5 L49.2 377.3 L49.6 375.8 L49.9 378.1 L50.2 383.0 L50.5 376.8 L50.9 377.4 L51.2 382.0 L51.5 385.3 L51.8 380.0 L52.2 382.7 L52.5 383.0 L52.8 376.7 L53.1 376.4 L53.5 379.8 L53.8 377.7 L54.1 377.3 L54.4 379.0 L54.8 381.1 L55.1 382.2 L55.4 380.4 L55.7 373.2 L56.1 376.2 L56.4 379.0 L56.7 380.5 L57.1 381.5 L57.4 380.7 L57.7 379.6 L58.0 384.0 L58.4 379.7 L58.7 384.0 L59.0 378.0 L59.3 383.1 L59.7 377.3 L60.0 382.6 L60.3 383.5 L60.6 381.1 L61.0 377.0 L61.3 377.2 L61.6 381.5 L61.9 378.9 L62.3 380.4 L62.6 382.4 L62.9 381.9 L63.2 371.8 L63.6 377.2 L63.9 377.8 L64.2 373.6 L64.5 379.5 L64.9 380.6 L65.2 378.9 L65.5 377.5 L65.8 375.9 L66.2 376.6 L66.5 378.9 L66.8 380.8 L67.1 381.3 L67.5 382.8 L67.8 381.4 L68.1 383.0 L68.4 386.7 L68.8 379.1 L69.1 383.4 L69.4 384.3 L69.7 376.1 L70.1 381.5 L70.4 379.7 L70.7 381.7 L71.0 385.0 L71.4 385.9 L71.7 383.3 L72.0 381.8 L72.3 385.0 L72.7 383.2 L73.0 385.1 L73.3 378.5 L73.7 387.3 L74.0 380.1 L74.3 376.5 L74.6 377.8 L75.0 378.0 L75.3 385.5 L75.6 379.2 L75.9 377.3 L76.3 376.3 L76.6 382.6 L76.9 378.6 L77.2 373.9 L77.6 382.3 L77.9 374.8 L78.2 371.9 L78.5 378.5 L78.9 376.6 L79.2 378.2 L79.5 378.3 L79.8 379.2 L80.2 379.1 L80.5 378.8 L80.8 377.5 L81.1 383.3 L81.5 382.7 L81.8 379.4 L82.1 379.5 L82.4 386.5 L82.8 381.1 L83.1 383.1 L83.4 381.8 L83.7 382.7 L84.1 379.8 L84.4 383.7 L84.7 386.6 L85.0 386.1 L85.4 378.0 L85.7 379.2 L86.0 377.6 L86.3 379.5 L86.7 382.9 L87.0 379.0 L87.3 383.8 L87.6 386.9 L88.0 373.5 L88.3 383.2 L88.6 378.3 L88.9 377.7 L89.3 378.7 L89.6 382.0 L89.9 379.0 L90.3 382.9 L90.6 383.1 L90.9 378.0 L91.2 376.4 L91.6 379.3 L91.9 377.5 L92.2 379.1 L92.5 379.0 L92.9 385.7 L93.2 381.1 L93.5 380.7 L93.8 383.6 L94.2 381.9 L94.5 386.2 L94.8 386.1 L95.1 383.9 L95.5 383.7 L95.8 380.1 L96.1 380.9 L96.4 378.0 L96.8 382.4 L97.1 380.0 L97.4 380.9 L97.7 378.3 L98.1 375.9 L98.4 379.2 L98.7 376.0 L99.0 372.6 L99.4 377.3 L99.7 379.6 L100.0 373.4 L100.3 374.4 L100.7 372.6 L101.0 375.6 L101.3 375.2 L101.6 383.4 L102.0 379.8 L102.3 375.4 L102.6 374.5 L102.9 377.4 L103.3 363.6 L103.6 364.6 L103.9 356.3 L104.2 354.9 L104.6 338.8 L104.9 330.2 L105.2 307.8 L105.5 320.0 L105.9 319.4 L106.2 321.8 L106.5 324.7 L106.9 323.9 L107.2 325.7 L107.5 327.3 L107.8 332.5 L108.2 335.6 L108.5 334.8 L108.8 332.7 L109.1 332.9 L109.5 335.0 L109.8 342.2 L110.1 336.2 L110.4 333.6 L110.8 335.2 L111.1 339.9 L111.4 338.5 L111.7 344.0 L112.1 340.3 L112.4 341.2 L112.7 336.9 L113.0 342.2 L113.4 347.1 L113.7 342.2 L114.0 342.9 L114.3 346.8 L114.7 349.4 L115.0 353.1 L115.3 344.0 L115.6 349.3 L116.0 356.4 L116.3 356.3 L116.6 352.3 L116.9 349.8 L117.3 353.2 L117.6 352.6 L117.9 357.2 L118.2 356.3 L118.6 354.5 L118.9 357.5 L119.2 360.6 L119.5 356.6 L119.9 364.5 L120.2 360.6 L120.5 355.9 L120.8 353.8 L121.2 359.7 L121.5 354.2 L121.8 360.0 L122.2 356.6 L122.5 359.0 L122.8 361.0 L123.1 357.4 L123.5 351.7 L123.8 358.1 L124.1 354.9 L124.4 348.4 L124.8 349.4 L125.1 347.1 L125.4 334.6 L125.7 331.0 L126.1 309.7 L126.4 299.5 L126.7 286.3 L127.0 262.7 L127.4 226.0 L127.7 226.4 L128.0 238.7 L128.3 239.6 L128.7 240.3 L129.0 240.9 L129.3 237.1 L129.6 233.0 L130.0 233.5 L130.3 240.5 L130.6 251.1 L130.9 246.5 L131.3 253.6 L131.6 259.5 L131.9 263.8 L132.2 265.7 L132.6 268.1 L132.9 273.9 L133.2 274.5 L133.5 282.3 L133.9 281.1 L134.2 288.6 L134.5 287.2 L134.8 289.9 L135.2 287.0 L135.5 298.2 L135.8 300.1 L136.1 297.8 L136.5 301.6 L136.8 300.6 L137.1 297.4 L137.4 293.7 L137.8 288.6 L138.1 294.7 L138.4 280.7 L138.8 277.6 L139.1 273.1 L139.4 260.5 L139.7 255.6 L140.1 256.5 L140.4 267.0 L140.7 265.3 L141.0 267.3 L141.4 271.5 L141.7 269.0 L142.0 269.9 L142.3 275.1 L142.7 274.2 L143.0 277.5 L143.3 280.8 L143.6 278.4 L144.0 280.3 L144.3 285.3 L144.6 289.6 L144.9 285.2 L145.3 297.1 L145.6 293.0 L145.9 290.7 L146.2 298.0 L146.6 305.1 L146.9 308.7 L147.2 304.6 L147.5 311.4 L147.9 309.1 L148.2 311.0 L148.5 316.1 L148.8 318.7 L149.2 318.4 L149.5 325.0 L149.8 323.2 L150.1 320.6 L150.5 321.2 L150.8 319.6 L151.1 325.3 L151.4 323.5 L151.8 323.1 L152.1 329.7 L152.4 328.9 L152.7 331.5 L153.1 322.0 L153.4 325.5 L153.7 323.6 L154.0 321.2 L154.4 319.2 L154.7 317.1 L155.0 310.8 L155.4 313.3 L155.7 307.8 L156.0 312.9 L156.3 318.9 L156.7 310.3 L157.0 319.9 L157.3 316.9 L157.6 320.4 L158.0 315.9 L158.3 318.5 L158.6 323.6 L158.9 326.6 L159.3 322.5 L159.6 320.2 L159.9 325.6 L160.2 327.7 L160.6 329.3 L160.9 341.2 L161.2 336.8 L161.5 339.2 L161.9 333.1 L162.2 339.8 L162.5 341.3 L162.8 341.3 L163.2 346.5 L163.5 339.4 L163.8 341.9 L164.1 339.5 L164.5 340.5 L164.8 339.5 L165.1 346.3 L165.4 341.2 L165.8 343.4 L166.1 349.7 L166.4 344.9 L166.7 346.1 L167.1 348.1 L167.4 351.0 L167.7 351.1 L168.0 348.1 L168.4 343.6 L168.7 353.6 L169.0 351.0 L169.3 353.0 L169.7 350.1 L170.0 350.3 L170.3 350.3 L170.6 362.2 L171.0 358.5 L171.3 357.2 L171.6 357.9 L172.0 359.3 L172.3 360.7 L172.6 356.3 L172.9 352.0 L173.3 368.6 L173.6 361.5 L173.9 362.3 L174.2 360.0 L174.6 362.1 L174.9 367.5 L175.2 366.7 L175.5 359.3 L175.9 356.6 L176.2 358.8 L176.5 364.4 L176.8 362.7 L177.2 361.7 L177.5 362.0 L177.8 364.3 L178.1 368.1 L178.5 367.3 L178.8 368.5 L179.1 362.3 L179.4 361.4 L179.8 368.0 L180.1 362.9 L180.4 365.9 L180.7 362.0 L181.1 364.2 L181.4 369.6 L181.7 364.3 L182.0 369.8 L182.4 372.9 L182.7 372.4 L183.0 370.7 L183.3 369.7 L183.7 367.3 L184.0 371.6 L184.3 369.2 L184.6 368.7 L185.0 374.6 L185.3 376.5 L185.6 369.3 L185.9 368.2 L186.3 374.4 L186.6 378.6 L186.9 371.1 L187.2 369.3 L187.6 377.3 L187.9 369.9 L188.2 373.2 L188.6 376.5 L188.9 372.0 L189.2 378.3 L189.5 373.6 L189.9 370.2 L190.2 374.4 L190.5 377.3 L190.8 379.9 L191.2 380.1 L191.5 381.0 L191.8 371.7 L192.1 379.0 L192.5 380.2 L192.8 380.3 L193.1 379.8 L193.4 380.1 L193.8 379.9 L194.1 370.0 L194.4 376.0 L194.7 376.1 L195.1 375.5 L195.4 371.7 L195.7 373.4 L196.0 374.5 L196.4 374.2 L196.7 373.8 L197.0 375.7 L197.3 377.7 L197.7 380.9 L198.0 379.8 L198.3 374.8 L198.6 378.5 L199.0 374.5 L199.3 375.6 L199.6 380.2 L199.9 375.3 L200.3 373.7 L200.6 373.0 L200.9 369.9 L201.2 380.1 L201.6 377.5 L201.9 372.7 L202.2 373.8 L202.5 375.4 L202.9 375.1 L203.2 378.8 L203.5 375.8 L203.9 380.0 L204.2 376.7 L204.5 377.1 L204.8 378.1 L205.2 373.7 L205.5 374.4 L205.8 378.9 L206.1 379.0 L206.5 373.8 L206.8 375.7 L207.1 381.4 L207.4 378.6 L207.8 382.0 L208.1 366.2 L208.4 369.7 L208.7 373.4 L209.1 376.4 L209.4 375.6 L209.7 373.6 L210.0 375.5 L210.4 373.2 L210.7 378.2 L211.0 375.8 L211.3 384.9 L211.7 384.6 L212.0 378.4 L212.3 374.4 L212.6 379.5 L213.0 380.8 L213.3 376.2 L213.6 377.7 L213.9 372.0 L214.3 373.9 L214.6 372.5 L214.9 375.7 L215.2 379.3 L215.6 374.9 L215.9 373.1 L216.2 376.7 L216.5 376.0 L216.9 372.0 L217.2 375.3 L217.5 370.1 L217.8 373.8 L218.2 374.4 L218.5 371.7 L218.8 374.1 L219.1 366.9 L219.5 375.9 L219.8 376.7 L220.1 381.4 L220.5 382.6 L220.8 381.6 L221.1 373.8 L221.4 379.5 L221.8 376.0 L222.1 373.8 L222.4 376.8 L222.7 371.7 L223.1 376.3 L223.4 373.0 L223.7 375.0 L224.0 372.9 L224.4 381.1 L224.7 377.1 L225.0 379.8 L225.3 381.2 L225.7 376.6 L226.0 378.7 L226.3 378.0 L226.6 375.4 L227.0 375.8 L227.3 379.4 L227.6 375.8 L227.9 376.8 L228.3 380.1 L228.6 375.7 L228.9 381.1 L229.2 375.3 L229.6 378.6 L229.9 377.5 L230.2 371.3 L230.5 377.0 L230.9 375.5 L231.2 381.7 L231.5 382.7 L231.8 384.0 L232.2 379.0 L232.5 377.3 L232.8 380.2 L233.1 379.5 L233.5 381.9 L233.8 382.7 L234.1 380.4 L234.4 379.1 L234.8 379.3 L235.1 381.2 L235.4 382.6 L235.7 383.0 L236.1 381.0 L236.4 380.2 L236.7 384.5 L237.1 382.1 L237.4 379.0 L237.7 382.5 L238.0 383.0 L238.4 384.7 L238.7 374.9 L239.0 388.9 L239.3 385.3 L239.7 382.5 L240.0 375.5 L240.3 380.3 L240.6 383.5 L241.0 385.5 L241.3 380.9 L241.6 380.5 L241.9 385.4 L242.3 385.3 L242.6 385.0 L242.9 380.2 L243.2 381.3 L243.6 383.6 L243.9 384.1 L244.2 389.2 L244.5 383.5 L244.9 384.6 L245.2 379.8 L245.5 378.8 L245.8 383.3 L246.2 384.9 L246.5 378.1 L246.8 378.3 L247.1 382.4 L247.5 389.5 L247.8 382.4 L248.1 379.8 L248.4 376.9 L248.8 386.9 L249.1 384.9 L249.4 384.4 L249.7 383.6 L250.1 386.9 L250.4 383.1 L250.7 384.2 L251.0 382.7 L251.4 383.7 L251.7 378.8 L252.0 382.3 L252.3 379.2 L252.7 377.1 L253.0 375.0 L253.3 382.2 L253.7 378.8 L254.0 376.1 L254.3 376.2 L254.6 358.8 L255.0 364.0 L255.3 365.0 L255.6 371.6 L255.9 372.8 L256.3 368.7 L256.6 366.5 L256.9 374.5 L257.2 375.5 L257.6 380.4 L257.9 381.2 L258.2 372.1 L258.5 369.1 L258.9 380.3 L259.2 377.4 L259.5 380.4 L259.8 374.6 L260.2 375.3 L260.5 379.7 L260.8 378.0 L261.1 372.3 L261.5 380.1 L261.8 385.0 L262.1 383.0 L262.4 387.3 L262.8 377.6 L263.1 380.8 L263.4 375.4 L263.7 375.5 L264.1 379.6 L264.4 378.9 L264.7 376.4 L265.0 378.3 L265.4 373.5 L265.7 379.0 L266.0 372.7 L266.3 378.6 L266.7 384.8 L267.0 380.0 L267.3 377.8 L267.6 371.7 L268.0 380.6 L268.3 386.8 L268.6 376.4 L269.0 379.6 L269.3 376.7 L269.6 378.8 L269.9 381.5 L270.3 375.1 L270.6 381.6 L270.9 382.1 L271.2 382.9 L271.6 378.8 L271.9 382.7 L272.2 378.5 L272.5 379.7 L272.9 379.1 L273.2 379.3 L273.5 376.2 L273.8 375.0 L274.2 378.8 L274.5 384.5 L274.8 384.0 L275.1 381.2 L275.5 383.5 L275.8 382.2 L276.1 379.1 L276.4 385.3 L276.8 377.6 L277.1 379.3 L277.4 383.0 L277.7 380.3 L278.1 380.0 L278.4 384.4 L278.7 387.1 L279.0 381.5 L279.4 384.1 L279.7 385.7 L280.0 385.2 L280.3 381.1 L280.7 385.6 L281.0 385.3 L281.3 381.7 L281.6 385.7 L282.0 385.0 L282.3 386.2 L282.6 385.4 L282.9 384.3 L283.3 384.5 L283.6 381.4 L283.9 386.3 L284.2 386.5 L284.6 384.7 L284.9 383.8 L285.2 384.9 L285.6 387.6 L285.9 381.3 L286.2 381.4 L286.5 381.8 L286.9 383.0 L287.2 385.4 L287.5 385.6 L287.8 382.9 L288.2 381.4 L288.5 380.6 L288.8 382.9 L289.1 380.2 L289.5 381.8 L289.8 384.2 L290.1 381.2 L290.4 380.7 L290.8 377.6 L291.1 380.3 L291.4 379.5 L291.7 385.0 L292.1 381.2 L292.4 389.4 L292.7 383.5 L293.0 384.0 L293.4 379.2 L293.7 383.1 L294.0 383.8 L294.3 384.5 L294.7 385.4 L295.0 382.1 L295.3 383.0 L295.6 382.2 L296.0 385.0 L296.3 383.3 L296.6 379.3 L296.9 389.9 L297.3 388.2 L297.6 381.5 L297.9 383.6 L298.2 384.1 L298.6 380.8 L298.9 387.0 L299.2 383.7 L299.5 380.4 L299.9 379.2 L300.2 389.6 L300.5 381.8 L300.8 380.3 L301.2 388.1 L301.5 388.0 L301.8 379.1 L302.2 386.3 L302.5 384.4 L302.8 386.8 L303.1 391.5 L303.5 390.8 L303.8 390.8 L304.1 390.8 L304.4 390.8 L304.8 390.8 L305.1 390.8 L305.4 390.8 L305.7 390.8 L306.1 390.8" fill="none" stroke="#000" stroke-width="0.62" stroke-linejoin="round"/>
</g>
<path d="M24.50 391.50v-3.31M24.50 226.00v3.31M40.78 391.50v-1.66M40.78 226.00v1.66M57.05 391.50v-1.66M57.05 226.00v1.66M73.33 391.50v-1.66M73.33 226.00v1.66M89.60 391.50v-3.31M89.60 226.00v3.31M105.88 391.50v-1.66M105.88 226.00v1.66M122.15 391.50v-1.66M122.15 226.00v1.66M138.43 391.50v-1.66M138.43 226.00v1.66M154.70 391.50v-3.31M154.70 226.00v3.31M170.97 391.50v-1.66M170.97 226.00v1.66M187.25 391.50v-1.66M187.25 226.00v1.66M203.53 391.50v-1.66M203.53 226.00v1.66M219.80 391.50v-3.31M219.80 226.00v3.31M236.08 391.50v-1.66M236.08 226.00v1.66M252.35 391.50v-1.66M252.35 226.00v1.66M268.62 391.50v-1.66M268.62 226.00v1.66M284.90 391.50v-3.31M284.90 226.00v3.31M301.18 391.50v-1.66M301.18 226.00v1.66M24.50 391.50h5.91M305.90 391.50h-5.91M24.50 383.23h2.95M305.90 383.23h-2.95M24.50 374.95h2.95M305.90 374.95h-2.95M24.50 366.68h2.95M305.90 366.68h-2.95M24.50 358.40h5.91M305.90 358.40h-5.91M24.50 350.12h2.95M305.90 350.12h-2.95M24.50 341.85h2.95M305.90 341.85h-2.95M24.50 333.57h2.95M305.90 333.57h-2.95M24.50 325.30h5.91M305.90 325.30h-5.91M24.50 317.02h2.95M305.90 317.02h-2.95M24.50 308.75h2.95M305.90 308.75h-2.95M24.50 300.48h2.95M305.90 300.48h-2.95M24.50 292.20h5.91M305.90 292.20h-5.91M24.50 283.93h2.95M305.90 283.93h-2.95M24.50 275.65h2.95M305.90 275.65h-2.95M24.50 267.38h2.95M305.90 267.38h-2.95M24.50 259.10h5.91M305.90 259.10h-5.91M24.50 250.82h2.95M305.90 250.82h-2.95M24.50 242.55h2.95M305.90 242.55h-2.95M24.50 234.27h2.95M305.90 234.27h-2.95M24.50 226.00h5.91M305.90 226.00h-5.91" stroke="#222" stroke-width="0.8" fill="none"/>
<rect x="24.50" y="226.00" width="281.40" height="165.50" fill="none" stroke="#444" stroke-width="1"/>
<text x="24.5" y="401.8" text-anchor="middle">0</text>
<text x="89.6" y="401.8" text-anchor="middle">200</text>
<text x="154.7" y="401.8" text-anchor="middle">400</text>
<text x="219.8" y="401.8" text-anchor="middle">600</text>
<text x="284.9" y="401.8" text-anchor="middle">800</text>
<text x="164.9" y="409.3" text-anchor="middle">time (min)</text>
<text x="22.7" y="391.2" text-anchor="end">0.0</text>
<text x="22.7" y="360.7" text-anchor="end">0.2</text>
<text x="22.7" y="327.6" text-anchor="end">0.4</text>
<text x="22.7" y="294.5" text-anchor="end">0.6</text>
<text x="22.7" y="261.4" text-anchor="end">0.8</text>
<text x="22.7" y="230.4" text-anchor="end">1.0</text>
<text transform="translate(5.9 308.8) rotate(-90)" text-anchor="middle" font-size="8">flux</text>
<text x="165.2" y="221.6" class="t" text-anchor="middle" font-size="9.5" fill="#000">KIC 12156549</text>
<g clip-path="url(#c3)">
<path d="M24.5 391.5H305.9" fill="none" stroke="#3a3aff" stroke-width="0.8" stroke-dasharray="0.9 1.5"/>
<path d="M97.7 391.5 L97.9 391.5 L98.1 391.5 L98.2 391.5 L98.4 391.3 L98.6 391.3 L98.7 391.3 L98.9 391.2 L99.0 391.2 L99.2 391.2 L99.4 391.1 L99.5 391.1 L99.7 391.0 L99.9 390.9 L100.0 390.8 L100.2 390.7 L100.3 390.6 L100.5 390.5 L100.7 390.3 L100.8 390.1 L101.0 389.9 L101.2 389.7 L101.3 389.4 L101.5 389.1 L101.6 388.8 L101.8 388.4 L102.0 387.9 L102.1 387.4 L102.3 386.7 L102.5 386.0 L102.6 385.2 L102.8 384.3 L102.9 383.2 L103.1 382.0 L103.3 380.6 L103.4 378.9 L103.6 377.1 L103.8 374.9 L103.9 372.4 L104.1 369.6 L104.2 366.3 L104.4 362.6 L104.6 358.3 L104.7 353.3 L104.9 347.6 L105.1 341.1 L105.2 333.6 L105.4 334.2 L105.5 334.8 L105.7 335.4 L105.9 335.9 L106.0 336.5 L106.2 337.1 L106.4 337.6 L106.5 338.2 L106.7 338.8 L106.9 339.3 L107.0 339.8 L107.2 340.4 L107.3 340.9 L107.5 341.4 L107.7 342.0 L107.8 342.5 L108.0 343.0 L108.2 343.5 L108.3 344.0 L108.5 344.5 L108.6 345.0 L108.8 345.4 L109.0 345.9 L109.1 346.4 L109.3 346.9 L109.5 347.3 L109.6 347.8 L109.8 348.2 L110.4 350.0 L111.1 351.7 L111.7 353.3 L112.4 354.9 L113.0 356.4 L113.7 357.8 L114.3 359.2 L115.0 360.5 L115.6 361.8 L116.3 363.0 L116.9 364.1 L117.6 365.3 L117.8 365.5 L117.9 365.8 L118.1 366.1 L118.2 366.3 L118.4 366.6 L118.6 366.8 L118.7 367.1 L118.9 367.4 L119.1 367.6 L119.2 367.9 L119.4 368.1 L119.5 368.3 L119.7 368.6 L119.9 368.8 L120.0 369.1 L120.2 369.3 L120.4 369.5 L120.5 369.7 L120.7 370.0 L120.8 370.2 L121.0 370.4 L121.2 370.6 L121.3 370.8 L121.5 371.1 L121.7 371.3 L121.8 371.5 L122.0 371.7 L122.2 371.9 L122.3 372.1 L122.5 372.3 L122.6 372.5 L122.8 372.7 L123.0 372.9 L123.1 373.1 L123.3 373.3 L123.5 373.5 L123.6 373.6 L123.8 373.8 L123.9 374.0 L124.1 374.2 L124.3 374.4 L124.4 374.6 L124.6 374.7 L124.8 374.9 L124.9 375.1 L125.1 375.2 L125.2 375.4 L125.4 375.6 L125.6 375.7 L125.7 375.9 L125.9 376.1 L126.1 376.2 L126.2 376.4 L126.4 376.5 L126.5 376.7 L126.7 376.9 L126.9 377.0 L127.0 377.2 L127.2 377.3 L127.4 377.5 L127.5 377.6 L127.7 377.7 L127.8 377.9 L128.0 378.0 L128.2 378.2 L128.3 378.3 L128.5 378.4 L128.7 378.6 L128.8 378.7 L129.0 378.8 L129.1 379.0 L129.3 379.1 L129.5 379.2 L129.6 379.4 L129.8 379.5 L130.0 379.6 L130.1 379.7 L130.3 379.9 L130.5 380.0 L130.6 380.1 L130.8 380.2 L130.9 380.3 L131.1 380.4 L131.3 380.6 L131.4 380.7 L131.6 380.8 L131.8 380.9 L131.9 381.0 L132.6 381.4 L133.2 381.8 L133.9 382.2 L134.5 382.6 L134.7 382.7 L134.8 382.8 L135.0 382.9 L135.2 383.0 L135.3 383.1 L135.5 383.2 L135.7 383.2 L135.8 383.3 L136.0 383.4 L136.1 383.5 L136.3 383.6 L136.5 383.7 L136.6 383.7 L136.8 383.8 L137.0 383.9 L137.1 384.0 L137.3 384.1 L137.4 384.1 L137.6 384.2 L137.8 384.3 L137.9 384.4 L138.1 384.4 L138.3 384.5 L138.4 384.6 L138.6 384.7 L138.8 384.7 L138.9 384.8 L139.1 384.9 L139.2 384.9 L139.4 385.0 L139.6 385.1 L139.7 385.1 L139.9 385.2 L140.1 385.3 L140.2 385.3 L140.4 385.4 L140.5 385.5 L140.7 385.5 L140.9 385.6 L141.0 385.6 L141.2 385.7 L141.4 385.8 L141.5 385.8 L141.7 385.9 L141.8 385.9 L142.0 386.0 L142.2 386.1 L142.3 386.1 L143.0 386.3 L143.6 386.5 L144.3 386.7 L144.9 386.9 L145.6 387.1 L146.2 387.3 L146.9 387.5 L147.5 387.6 L148.2 387.8 L148.8 387.9 L149.5 388.1 L150.1 388.2 L150.8 388.4 L151.4 388.5 L151.6 388.5 L151.8 388.6 L151.9 388.6 L152.1 388.6 L152.3 388.6 L152.4 388.7 L152.6 388.7 L152.7 388.7 L152.9 388.8 L153.1 388.8 L153.2 388.8 L153.4 388.8 L153.6 388.9 L153.7 388.9 L153.9 388.9 L154.0 389.0 L154.2 389.0 L154.4 389.0 L154.5 389.0 L154.7 389.1 L154.9 389.1 L155.0 389.1 L155.2 389.1 L155.4 389.2 L155.5 389.2 L155.7 389.2 L155.8 389.2 L156.0 389.3 L156.2 389.3 L156.3 389.3 L156.5 389.3 L156.7 389.3 L156.8 389.4 L157.0 389.4 L157.1 389.4 L157.3 389.4 L157.5 389.5 L157.6 389.5 L157.8 389.5 L158.0 389.5 L158.9 389.6 L159.9 389.8 L160.9 389.9 L161.9 390.0 L162.8 390.0 L163.8 390.1 L164.8 390.2 L165.8 390.3 L166.7 390.4 L167.7 390.4 L168.7 390.5 L169.7 390.6 L170.6 390.6 L171.6 390.7 L172.6 390.7 L173.6 390.8 L174.6 390.8 L175.5 390.9 L176.5 390.9 L177.5 390.9 L178.5 391.0 L179.4 391.0 L180.4 391.0 L181.4 391.1 L182.4 391.1 L183.3 391.1 L184.3 391.1 L185.3 391.2 L186.3 391.2 L187.2 391.2 L188.2 391.2 L189.2 391.2 L190.2 391.2 L191.2 391.3 L192.1 391.3 L193.1 391.3 L194.1 391.3 L195.1 391.3 L196.0 391.3 L197.0 391.5 L198.0 391.5 L199.0 391.5 L199.9 391.5 L200.9 391.5 L201.9 391.5 L202.9 391.5 L203.9 391.5 L204.8 391.5 L205.8 391.5 L206.8 391.5 L207.8 391.5 L208.7 391.5 L209.7 391.5 L210.7 391.5 L211.7 391.5 L212.6 391.5 L213.6 391.5 L214.6 391.5 L215.6 391.5 L216.5 391.5 L217.5 391.5 L218.5 391.5 L219.5 391.5 L219.8 391.5 L222.4 391.5 L225.0 391.5 L227.6 391.5 L230.2 391.5 L232.8 391.5 L235.4 391.5 L238.0 391.5 L240.6 391.5 L243.2 391.5 L245.8 391.5 L248.4 391.5 L251.0 391.5 L253.7 391.5 L256.3 391.5 L258.9 391.5 L261.5 391.5 L264.1 391.5 L266.7 391.5 L269.3 391.5 L271.9 391.5 L274.5 391.5 L277.1 391.5 L279.7 391.5 L282.3 391.5 L284.9 391.5 L287.5 391.5 L290.1 391.5 L292.7 391.5 L295.3 391.5 L297.9 391.5 L300.5 391.5 L303.1 391.5 L305.7 391.5 L306.2 391.5" fill="none" stroke="#3a3aff" stroke-width="0.8" stroke-dasharray="0.9 1.5"/>
<path d="M97.7 391.5 L97.9 391.5 L98.1 391.5 L98.2 391.5 L98.4 391.5 L98.6 391.5 L98.7 391.5 L98.9 391.5 L99.0 391.5 L99.2 391.5 L99.4 391.5 L99.5 391.5 L99.7 391.5 L99.9 391.5 L100.0 391.5 L100.2 391.5 L100.3 391.5 L100.5 391.5 L100.7 391.5 L100.8 391.5 L101.0 391.5 L101.2 391.5 L101.3 391.5 L101.5 391.5 L101.6 391.5 L101.8 391.5 L102.0 391.5 L102.1 391.5 L102.3 391.5 L102.5 391.5 L102.6 391.5 L102.8 391.5 L102.9 391.5 L103.1 391.5 L103.3 391.5 L103.4 391.5 L103.6 391.5 L103.8 391.5 L103.9 391.5 L104.1 391.5 L104.2 391.5 L104.4 391.5 L104.6 391.5 L104.7 391.5 L104.9 391.5 L105.1 391.5 L105.2 391.5 L105.4 391.5 L105.5 391.5 L105.7 391.5 L105.9 391.5 L106.0 391.5 L106.2 391.5 L106.4 391.5 L106.5 391.5 L106.7 391.5 L106.9 391.5 L107.0 391.5 L107.2 391.5 L107.3 391.5 L107.5 391.5 L107.7 391.5 L107.8 391.5 L108.0 391.5 L108.2 391.5 L108.3 391.5 L108.5 391.5 L108.6 391.5 L108.8 391.5 L109.0 391.5 L109.1 391.5 L109.3 391.5 L109.5 391.5 L109.6 391.5 L109.8 391.5 L110.4 391.5 L111.1 391.5 L111.7 391.5 L112.4 391.5 L113.0 391.5 L113.7 391.5 L114.3 391.5 L115.0 391.5 L115.6 391.5 L116.3 391.5 L116.9 391.5 L117.6 391.5 L117.8 391.5 L117.9 391.5 L118.1 391.5 L118.2 391.5 L118.4 391.3 L118.6 391.3 L118.7 391.3 L118.9 391.2 L119.1 391.2 L119.2 391.2 L119.4 391.1 L119.5 391.1 L119.7 391.0 L119.9 391.0 L120.0 390.9 L120.2 390.8 L120.4 390.7 L120.5 390.6 L120.7 390.5 L120.8 390.4 L121.0 390.3 L121.2 390.1 L121.3 389.9 L121.5 389.7 L121.7 389.5 L121.8 389.3 L122.0 389.0 L122.2 388.7 L122.3 388.3 L122.5 387.9 L122.6 387.5 L122.8 387.0 L123.0 386.4 L123.1 385.7 L123.3 385.0 L123.5 384.2 L123.6 383.3 L123.8 382.2 L123.9 381.0 L124.1 379.7 L124.3 378.2 L124.4 376.5 L124.6 374.7 L124.8 372.5 L124.9 370.1 L125.1 367.4 L125.2 364.4 L125.4 361.0 L125.6 357.1 L125.7 352.8 L125.9 347.9 L126.1 342.3 L126.2 336.1 L126.4 329.1 L126.5 321.2 L126.7 312.3 L126.9 302.3 L127.0 291.1 L127.2 278.4 L127.4 264.1 L127.5 255.2 L127.7 256.6 L127.8 258.0 L128.0 259.4 L128.2 260.8 L128.3 262.1 L128.5 263.5 L128.7 264.8 L128.8 266.1 L129.0 267.4 L129.1 268.7 L129.3 270.0 L129.5 271.2 L129.6 272.5 L129.8 273.7 L130.0 274.9 L130.1 276.1 L130.3 277.3 L130.5 278.5 L130.6 279.7 L130.8 280.8 L130.9 282.0 L131.1 283.1 L131.3 284.2 L131.4 285.3 L131.6 286.4 L131.8 287.5 L131.9 288.6 L132.6 292.8 L133.2 296.8 L133.9 300.7 L134.5 304.4 L134.7 305.3 L134.8 306.2 L135.0 307.1 L135.2 308.0 L135.3 308.8 L135.5 309.7 L135.7 310.5 L135.8 311.4 L136.0 312.2 L136.1 313.0 L136.3 313.8 L136.5 314.6 L136.6 315.4 L136.8 316.2 L137.0 317.0 L137.1 317.8 L137.3 318.5 L137.4 319.3 L137.6 320.0 L137.8 320.8 L137.9 321.5 L138.1 322.2 L138.3 323.0 L138.4 323.7 L138.6 324.4 L138.8 325.1 L138.9 325.8 L139.1 326.4 L139.2 327.1 L139.4 327.8 L139.6 328.4 L139.7 329.1 L139.9 329.7 L140.1 330.4 L140.2 331.0 L140.4 331.6 L140.5 332.3 L140.7 332.9 L140.9 333.5 L141.0 334.1 L141.2 334.7 L141.4 335.3 L141.5 335.9 L141.7 336.4 L141.8 337.0 L142.0 337.6 L142.2 338.1 L142.3 338.7 L143.0 340.8 L143.6 342.9 L144.3 344.9 L144.9 346.8 L145.6 348.6 L146.2 350.4 L146.9 352.0 L147.5 353.7 L148.2 355.2 L148.8 356.7 L149.5 358.1 L150.1 359.5 L150.8 360.8 L151.4 362.0 L151.6 362.3 L151.8 362.6 L151.9 362.9 L152.1 363.2 L152.3 363.5 L152.4 363.8 L152.6 364.1 L152.7 364.4 L152.9 364.7 L153.1 364.9 L153.2 365.2 L153.4 365.5 L153.6 365.8 L153.7 366.0 L153.9 366.3 L154.0 366.5 L154.2 366.8 L154.4 367.1 L154.5 367.3 L154.7 367.6 L154.9 367.8 L155.0 368.1 L155.2 368.3 L155.4 368.5 L155.5 368.8 L155.7 369.0 L155.8 369.2 L156.0 369.5 L156.2 369.7 L156.3 369.9 L156.5 370.2 L156.7 370.4 L156.8 370.6 L157.0 370.8 L157.1 371.0 L157.3 371.2 L157.5 371.5 L157.6 371.7 L157.8 371.9 L158.0 372.1 L158.9 373.2 L159.9 374.4 L160.9 375.4 L161.9 376.4 L162.8 377.3 L163.8 378.1 L164.8 379.0 L165.8 379.7 L166.7 380.4 L167.7 381.1 L168.7 381.7 L169.7 382.3 L170.6 382.9 L171.6 383.4 L172.6 383.9 L173.6 384.4 L174.6 384.8 L175.5 385.2 L176.5 385.6 L177.5 385.9 L178.5 386.3 L179.4 386.6 L180.4 386.9 L181.4 387.2 L182.4 387.4 L183.3 387.7 L184.3 387.9 L185.3 388.1 L186.3 388.3 L187.2 388.5 L188.2 388.7 L189.2 388.9 L190.2 389.0 L191.2 389.2 L192.1 389.3 L193.1 389.5 L194.1 389.6 L195.1 389.7 L196.0 389.8 L197.0 389.9 L198.0 390.0 L199.0 390.1 L199.9 390.2 L200.9 390.3 L201.9 390.3 L202.9 390.4 L203.9 390.5 L204.8 390.5 L205.8 390.6 L206.8 390.6 L207.8 390.7 L208.7 390.7 L209.7 390.8 L210.7 390.8 L211.7 390.9 L212.6 390.9 L213.6 390.9 L214.6 391.0 L215.6 391.0 L216.5 391.0 L217.5 391.1 L218.5 391.1 L219.5 391.1 L219.8 391.1 L222.4 391.2 L225.0 391.2 L227.6 391.3 L230.2 391.3 L232.8 391.5 L235.4 391.5 L238.0 391.5 L240.6 391.5 L243.2 391.5 L245.8 391.5 L248.4 391.5 L251.0 391.5 L253.7 391.5 L256.3 391.5 L258.9 391.5 L261.5 391.5 L264.1 391.5 L266.7 391.5 L269.3 391.5 L271.9 391.5 L274.5 391.5 L277.1 391.5 L279.7 391.5 L282.3 391.5 L284.9 391.5 L287.5 391.5 L290.1 391.5 L292.7 391.5 L295.3 391.5 L297.9 391.5 L300.5 391.5 L303.1 391.5 L305.7 391.5 L306.2 391.5" fill="none" stroke="#3a3aff" stroke-width="0.8" stroke-dasharray="0.9 1.5"/>
<path d="M97.7 391.5 L97.9 391.5 L98.1 391.5 L98.2 391.5 L98.4 391.5 L98.6 391.5 L98.7 391.5 L98.9 391.5 L99.0 391.5 L99.2 391.5 L99.4 391.5 L99.5 391.5 L99.7 391.5 L99.9 391.5 L100.0 391.5 L100.2 391.5 L100.3 391.5 L100.5 391.5 L100.7 391.5 L100.8 391.5 L101.0 391.5 L101.2 391.5 L101.3 391.5 L101.5 391.5 L101.6 391.5 L101.8 391.5 L102.0 391.5 L102.1 391.5 L102.3 391.5 L102.5 391.5 L102.6 391.5 L102.8 391.5 L102.9 391.5 L103.1 391.5 L103.3 391.5 L103.4 391.5 L103.6 391.5 L103.8 391.5 L103.9 391.5 L104.1 391.5 L104.2 391.5 L104.4 391.5 L104.6 391.5 L104.7 391.5 L104.9 391.5 L105.1 391.5 L105.2 391.5 L105.4 391.5 L105.5 391.5 L105.7 391.5 L105.9 391.5 L106.0 391.5 L106.2 391.5 L106.4 391.5 L106.5 391.5 L106.7 391.5 L106.9 391.5 L107.0 391.5 L107.2 391.5 L107.3 391.5 L107.5 391.5 L107.7 391.5 L107.8 391.5 L108.0 391.5 L108.2 391.5 L108.3 391.5 L108.5 391.5 L108.6 391.5 L108.8 391.5 L109.0 391.5 L109.1 391.5 L109.3 391.5 L109.5 391.5 L109.6 391.5 L109.8 391.5 L110.4 391.5 L111.1 391.5 L111.7 391.5 L112.4 391.5 L113.0 391.5 L113.7 391.5 L114.3 391.5 L115.0 391.5 L115.6 391.5 L116.3 391.5 L116.9 391.5 L117.6 391.5 L117.8 391.5 L117.9 391.5 L118.1 391.5 L118.2 391.5 L118.4 391.5 L118.6 391.5 L118.7 391.5 L118.9 391.5 L119.1 391.5 L119.2 391.5 L119.4 391.5 L119.5 391.5 L119.7 391.5 L119.9 391.5 L120.0 391.5 L120.2 391.5 L120.4 391.5 L120.5 391.5 L120.7 391.5 L120.8 391.5 L121.0 391.5 L121.2 391.5 L121.3 391.5 L121.5 391.5 L121.7 391.5 L121.8 391.5 L122.0 391.5 L122.2 391.5 L122.3 391.5 L122.5 391.5 L122.6 391.5 L122.8 391.5 L123.0 391.5 L123.1 391.5 L123.3 391.5 L123.5 391.5 L123.6 391.5 L123.8 391.5 L123.9 391.5 L124.1 391.5 L124.3 391.5 L124.4 391.5 L124.6 391.5 L124.8 391.5 L124.9 391.5 L125.1 391.5 L125.2 391.5 L125.4 391.5 L125.6 391.5 L125.7 391.5 L125.9 391.5 L126.1 391.5 L126.2 391.5 L126.4 391.5 L126.5 391.5 L126.7 391.5 L126.9 391.5 L127.0 391.5 L127.2 391.5 L127.4 391.5 L127.5 391.5 L127.7 391.5 L127.8 391.5 L128.0 391.5 L128.2 391.5 L128.3 391.5 L128.5 391.5 L128.7 391.5 L128.8 391.5 L129.0 391.5 L129.1 391.5 L129.3 391.5 L129.5 391.5 L129.6 391.5 L129.8 391.5 L130.0 391.5 L130.1 391.5 L130.3 391.5 L130.5 391.5 L130.6 391.5 L130.8 391.5 L130.9 391.5 L131.1 391.5 L131.3 391.5 L131.4 391.5 L131.6 391.5 L131.8 391.5 L131.9 391.5 L132.6 391.5 L133.2 391.5 L133.9 391.5 L134.5 391.5 L134.7 391.3 L134.8 391.3 L135.0 391.2 L135.2 391.2 L135.3 391.1 L135.5 391.0 L135.7 390.9 L135.8 390.8 L136.0 390.6 L136.1 390.4 L136.3 390.2 L136.5 389.9 L136.6 389.5 L136.8 389.1 L137.0 388.6 L137.1 388.0 L137.3 387.3 L137.4 386.4 L137.6 385.3 L137.8 384.0 L137.9 382.4 L138.1 380.5 L138.3 378.1 L138.4 375.3 L138.6 371.9 L138.8 367.7 L138.9 362.7 L139.1 356.6 L139.2 349.2 L139.4 340.2 L139.6 340.8 L139.7 341.5 L139.9 342.1 L140.1 342.7 L140.2 343.3 L140.4 343.9 L140.5 344.5 L140.7 345.1 L140.9 345.7 L141.0 346.2 L141.2 346.8 L141.4 347.3 L141.5 347.9 L141.7 348.4 L141.8 349.0 L142.0 349.5 L142.2 350.0 L142.3 350.5 L143.0 352.5 L143.6 354.4 L144.3 356.2 L144.9 358.0 L145.6 359.6 L146.2 361.2 L146.9 362.6 L147.5 364.0 L148.2 365.4 L148.8 366.7 L149.5 367.9 L150.1 369.0 L150.8 370.1 L151.4 371.2 L151.6 371.4 L151.8 371.7 L151.9 371.9 L152.1 372.1 L152.3 372.4 L152.4 372.6 L152.6 372.9 L152.7 373.1 L152.9 373.3 L153.1 373.5 L153.2 373.8 L153.4 374.0 L153.6 374.2 L153.7 374.4 L153.9 374.6 L154.0 374.8 L154.2 375.1 L154.4 375.3 L154.5 375.5 L154.7 375.7 L154.9 375.9 L155.0 376.0 L155.2 376.2 L155.4 376.4 L155.5 376.6 L155.7 376.8 L155.8 377.0 L156.0 377.2 L156.2 377.3 L156.3 377.5 L156.5 377.7 L156.7 377.9 L156.8 378.0 L157.0 378.2 L157.1 378.4 L157.3 378.5 L157.5 378.7 L157.6 378.8 L157.8 379.0 L158.0 379.2 L158.9 380.1 L159.9 380.9 L160.9 381.6 L161.9 382.4 L162.8 383.0 L163.8 383.6 L164.8 384.2 L165.8 384.7 L166.7 385.2 L167.7 385.7 L168.7 386.1 L169.7 386.5 L170.6 386.8 L171.6 387.2 L172.6 387.5 L173.6 387.8 L174.6 388.1 L175.5 388.3 L176.5 388.5 L177.5 388.7 L178.5 388.9 L179.4 389.1 L180.4 389.3 L181.4 389.5 L182.4 389.6 L183.3 389.7 L184.3 389.9 L185.3 390.0 L186.3 390.1 L187.2 390.2 L188.2 390.3 L189.2 390.4 L190.2 390.5 L191.2 390.5 L192.1 390.6 L193.1 390.7 L194.1 390.7 L195.1 390.8 L196.0 390.8 L197.0 390.9 L198.0 390.9 L199.0 391.0 L199.9 391.0 L200.9 391.0 L201.9 391.1 L202.9 391.1 L203.9 391.1 L204.8 391.2 L205.8 391.2 L206.8 391.2 L207.8 391.2 L208.7 391.3 L209.7 391.3 L210.7 391.3 L211.7 391.3 L212.6 391.3 L213.6 391.3 L214.6 391.5 L215.6 391.5 L216.5 391.5 L217.5 391.5 L218.5 391.5 L219.5 391.5 L219.8 391.5 L222.4 391.5 L225.0 391.5 L227.6 391.5 L230.2 391.5 L232.8 391.5 L235.4 391.5 L238.0 391.5 L240.6 391.5 L243.2 391.5 L245.8 391.5 L248.4 391.5 L251.0 391.5 L253.7 391.5 L256.3 391.5 L258.9 391.5 L261.5 391.5 L264.1 391.5 L266.7 391.5 L269.3 391.5 L271.9 391.5 L274.5 391.5 L277.1 391.5 L279.7 391.5 L282.3 391.5 L284.9 391.5 L287.5 391.5 L290.1 391.5 L292.7 391.5 L295.3 391.5 L297.9 391.5 L300.5 391.5 L303.1 391.5 L305.7 391.5 L306.2 391.5" fill="none" stroke="#3a3aff" stroke-width="0.8" stroke-dasharray="0.9 1.5"/>
<path d="M97.7 391.5 L97.9 391.5 L98.1 391.5 L98.2 391.5 L98.4 391.5 L98.6 391.5 L98.7 391.5 L98.9 391.5 L99.0 391.5 L99.2 391.5 L99.4 391.5 L99.5 391.5 L99.7 391.5 L99.9 391.5 L100.0 391.5 L100.2 391.5 L100.3 391.5 L100.5 391.5 L100.7 391.5 L100.8 391.5 L101.0 391.5 L101.2 391.5 L101.3 391.5 L101.5 391.5 L101.6 391.5 L101.8 391.5 L102.0 391.5 L102.1 391.5 L102.3 391.5 L102.5 391.5 L102.6 391.5 L102.8 391.5 L102.9 391.5 L103.1 391.5 L103.3 391.5 L103.4 391.5 L103.6 391.5 L103.8 391.5 L103.9 391.5 L104.1 391.5 L104.2 391.5 L104.4 391.5 L104.6 391.5 L104.7 391.5 L104.9 391.5 L105.1 391.5 L105.2 391.5 L105.4 391.5 L105.5 391.5 L105.7 391.5 L105.9 391.5 L106.0 391.5 L106.2 391.5 L106.4 391.5 L106.5 391.5 L106.7 391.5 L106.9 391.5 L107.0 391.5 L107.2 391.5 L107.3 391.5 L107.5 391.5 L107.7 391.5 L107.8 391.5 L108.0 391.5 L108.2 391.5 L108.3 391.5 L108.5 391.5 L108.6 391.5 L108.8 391.5 L109.0 391.5 L109.1 391.5 L109.3 391.5 L109.5 391.5 L109.6 391.5 L109.8 391.5 L110.4 391.5 L111.1 391.5 L111.7 391.5 L112.4 391.5 L113.0 391.5 L113.7 391.5 L114.3 391.5 L115.0 391.5 L115.6 391.5 L116.3 391.5 L116.9 391.5 L117.6 391.5 L117.8 391.5 L117.9 391.5 L118.1 391.5 L118.2 391.5 L118.4 391.5 L118.6 391.5 L118.7 391.5 L118.9 391.5 L119.1 391.5 L119.2 391.5 L119.4 391.5 L119.5 391.5 L119.7 391.5 L119.9 391.5 L120.0 391.5 L120.2 391.5 L120.4 391.5 L120.5 391.5 L120.7 391.5 L120.8 391.5 L121.0 391.5 L121.2 391.5 L121.3 391.5 L121.5 391.5 L121.7 391.5 L121.8 391.5 L122.0 391.5 L122.2 391.5 L122.3 391.5 L122.5 391.5 L122.6 391.5 L122.8 391.5 L123.0 391.5 L123.1 391.5 L123.3 391.5 L123.5 391.5 L123.6 391.5 L123.8 391.5 L123.9 391.5 L124.1 391.5 L124.3 391.5 L124.4 391.5 L124.6 391.5 L124.8 391.5 L124.9 391.5 L125.1 391.5 L125.2 391.5 L125.4 391.5 L125.6 391.5 L125.7 391.5 L125.9 391.5 L126.1 391.5 L126.2 391.5 L126.4 391.5 L126.5 391.5 L126.7 391.5 L126.9 391.5 L127.0 391.5 L127.2 391.5 L127.4 391.5 L127.5 391.5 L127.7 391.5 L127.8 391.5 L128.0 391.5 L128.2 391.5 L128.3 391.5 L128.5 391.5 L128.7 391.5 L128.8 391.5 L129.0 391.5 L129.1 391.5 L129.3 391.5 L129.5 391.5 L129.6 391.5 L129.8 391.5 L130.0 391.5 L130.1 391.5 L130.3 391.5 L130.5 391.5 L130.6 391.5 L130.8 391.5 L130.9 391.5 L131.1 391.5 L131.3 391.5 L131.4 391.5 L131.6 391.5 L131.8 391.5 L131.9 391.5 L132.6 391.5 L133.2 391.5 L133.9 391.5 L134.5 391.5 L134.7 391.5 L134.8 391.5 L135.0 391.5 L135.2 391.5 L135.3 391.5 L135.5 391.5 L135.7 391.5 L135.8 391.5 L136.0 391.5 L136.1 391.5 L136.3 391.5 L136.5 391.5 L136.6 391.5 L136.8 391.5 L137.0 391.5 L137.1 391.5 L137.3 391.5 L137.4 391.5 L137.6 391.5 L137.8 391.5 L137.9 391.5 L138.1 391.5 L138.3 391.5 L138.4 391.5 L138.6 391.5 L138.8 391.5 L138.9 391.5 L139.1 391.5 L139.2 391.5 L139.4 391.5 L139.6 391.5 L139.7 391.5 L139.9 391.5 L140.1 391.5 L140.2 391.5 L140.4 391.5 L140.5 391.5 L140.7 391.5 L140.9 391.5 L141.0 391.5 L141.2 391.5 L141.4 391.5 L141.5 391.5 L141.7 391.5 L141.8 391.5 L142.0 391.5 L142.2 391.5 L142.3 391.5 L143.0 391.5 L143.6 391.5 L144.3 391.5 L144.9 391.5 L145.6 391.5 L146.2 391.5 L146.9 391.5 L147.5 391.5 L148.2 391.5 L148.8 391.5 L149.5 391.5 L150.1 391.5 L150.8 391.3 L151.4 391.1 L151.6 391.1 L151.8 391.0 L151.9 390.9 L152.1 390.7 L152.3 390.6 L152.4 390.4 L152.6 390.1 L152.7 389.8 L152.9 389.5 L153.1 389.1 L153.2 388.5 L153.4 387.9 L153.6 387.1 L153.7 386.2 L153.9 385.1 L154.0 383.7 L154.2 382.1 L154.4 380.1 L154.5 377.7 L154.7 374.8 L154.9 371.2 L155.0 366.9 L155.2 361.7 L155.4 362.0 L155.5 362.3 L155.7 362.6 L155.8 362.9 L156.0 363.2 L156.2 363.4 L156.3 363.7 L156.5 364.0 L156.7 364.3 L156.8 364.5 L157.0 364.8 L157.1 365.1 L157.3 365.3 L157.5 365.6 L157.6 365.9 L157.8 366.1 L158.0 366.4 L158.9 367.8 L159.9 369.2 L160.9 370.5 L161.9 371.7 L162.8 372.9 L163.8 374.0 L164.8 375.0 L165.8 375.9 L166.7 376.9 L167.7 377.7 L168.7 378.5 L169.7 379.3 L170.6 380.0 L171.6 380.6 L172.6 381.3 L173.6 381.9 L174.6 382.4 L175.5 383.0 L176.5 383.5 L177.5 383.9 L178.5 384.4 L179.4 384.8 L180.4 385.2 L181.4 385.5 L182.4 385.9 L183.3 386.2 L184.3 386.5 L185.3 386.8 L186.3 387.1 L187.2 387.3 L188.2 387.6 L189.2 387.8 L190.2 388.0 L191.2 388.2 L192.1 388.4 L193.1 388.6 L194.1 388.8 L195.1 388.9 L196.0 389.1 L197.0 389.2 L198.0 389.4 L199.0 389.5 L199.9 389.6 L200.9 389.7 L201.9 389.8 L202.9 389.9 L203.9 390.0 L204.8 390.1 L205.8 390.2 L206.8 390.2 L207.8 390.3 L208.7 390.4 L209.7 390.5 L210.7 390.5 L211.7 390.6 L212.6 390.6 L213.6 390.7 L214.6 390.7 L215.6 390.8 L216.5 390.8 L217.5 390.9 L218.5 390.9 L219.5 390.9 L219.8 390.9 L222.4 391.0 L225.0 391.1 L227.6 391.2 L230.2 391.2 L232.8 391.2 L235.4 391.3 L238.0 391.3 L240.6 391.5 L243.2 391.5 L245.8 391.5 L248.4 391.5 L251.0 391.5 L253.7 391.5 L256.3 391.5 L258.9 391.5 L261.5 391.5 L264.1 391.5 L266.7 391.5 L269.3 391.5 L271.9 391.5 L274.5 391.5 L277.1 391.5 L279.7 391.5 L282.3 391.5 L284.9 391.5 L287.5 391.5 L290.1 391.5 L292.7 391.5 L295.3 391.5 L297.9 391.5 L300.5 391.5 L303.1 391.5 L305.7 391.5 L306.2 391.5" fill="none" stroke="#3a3aff" stroke-width="0.8" stroke-dasharray="0.9 1.5"/>
<path d="M24.5 381.4H305.9" fill="none" stroke="#2a2aff" stroke-width="0.8" stroke-dasharray="4.2 2.3"/>
<path d="M24.5 381.4 L27.8 381.4 L31.0 381.4 L34.3 381.4 L37.5 381.4 L40.8 381.4 L44.0 381.4 L47.3 381.4 L50.5 381.4 L53.8 381.4 L57.1 381.4 L60.3 381.4 L63.6 381.4 L66.8 381.4 L70.1 381.4 L73.3 381.4 L76.6 381.4 L79.8 381.4 L83.1 381.4 L86.3 381.4 L89.6 381.4 L92.9 381.4 L94.5 381.4 L94.6 381.4 L94.8 381.4 L95.0 381.4 L95.1 381.4 L95.3 381.4 L95.5 381.4 L95.6 381.4 L95.8 381.4 L95.9 381.4 L96.1 381.4 L96.3 381.4 L96.4 381.4 L96.6 381.4 L96.8 381.4 L96.9 381.4 L97.1 381.3 L97.2 381.3 L97.4 381.3 L97.6 381.3 L97.7 381.3 L97.9 381.3 L98.1 381.3 L98.2 381.3 L98.4 381.2 L98.6 381.2 L98.7 381.2 L98.9 381.1 L99.0 381.1 L99.2 381.1 L99.4 381.0 L99.5 381.0 L99.7 380.9 L99.9 380.8 L100.0 380.7 L100.2 380.6 L100.3 380.5 L100.5 380.4 L100.7 380.2 L100.8 380.0 L101.0 379.8 L101.2 379.6 L101.3 379.3 L101.5 379.0 L101.6 378.7 L101.8 378.3 L102.0 377.8 L102.1 377.3 L102.3 376.6 L102.5 375.9 L102.6 375.1 L102.8 374.2 L102.9 373.1 L103.1 371.9 L103.3 370.5 L103.4 368.8 L103.6 367.0 L103.8 364.8 L103.9 362.3 L104.1 359.5 L104.2 356.2 L104.4 352.5 L104.6 348.2 L104.7 343.2 L104.9 337.5 L105.1 331.0 L105.2 323.5 L105.4 324.1 L105.5 324.7 L105.7 325.3 L105.9 325.8 L106.0 326.4 L106.2 327.0 L106.4 327.6 L106.5 328.1 L106.7 328.7 L106.9 329.2 L107.0 329.8 L107.2 330.3 L107.3 330.8 L107.5 331.3 L107.7 331.9 L107.8 332.4 L108.0 332.9 L108.2 333.4 L108.3 333.9 L108.5 334.4 L108.6 334.9 L108.8 335.3 L109.0 335.8 L109.1 336.3 L109.3 336.8 L109.5 337.2 L109.6 337.7 L109.8 338.1 L110.4 339.9 L111.1 341.6 L111.7 343.2 L112.4 344.8 L113.0 346.3 L113.7 347.7 L114.3 349.1 L115.0 350.4 L115.6 351.6 L116.3 352.8 L116.9 354.0 L117.6 355.1 L117.8 355.3 L117.9 355.6 L118.1 355.8 L118.2 356.1 L118.4 356.3 L118.6 356.5 L118.7 356.8 L118.9 357.0 L119.1 357.2 L119.2 357.4 L119.4 357.6 L119.5 357.8 L119.7 358.0 L119.9 358.2 L120.0 358.4 L120.2 358.5 L120.4 358.7 L120.5 358.8 L120.7 358.9 L120.8 359.0 L121.0 359.1 L121.2 359.2 L121.3 359.2 L121.5 359.2 L121.7 359.2 L121.8 359.2 L122.0 359.1 L122.2 359.0 L122.3 358.8 L122.5 358.6 L122.6 358.4 L122.8 358.1 L123.0 357.7 L123.1 357.2 L123.3 356.7 L123.5 356.0 L123.6 355.3 L123.8 354.5 L123.9 353.5 L124.1 352.3 L124.3 351.0 L124.4 349.5 L124.6 347.8 L124.8 345.8 L124.9 343.6 L125.1 341.1 L125.2 338.2 L125.4 334.9 L125.6 331.3 L125.7 327.1 L125.9 322.3 L126.1 317.0 L126.2 310.9 L126.4 304.1 L126.5 296.3 L126.7 287.6 L126.9 277.7 L127.0 266.6 L127.2 254.1 L127.4 239.9 L127.5 231.2 L127.7 232.8 L127.8 234.3 L128.0 235.8 L128.2 237.3 L128.3 238.8 L128.5 240.3 L128.7 241.8 L128.8 243.2 L129.0 244.6 L129.1 246.1 L129.3 247.5 L129.5 248.9 L129.6 250.2 L129.8 251.6 L130.0 252.9 L130.1 254.3 L130.3 255.6 L130.5 256.9 L130.6 258.2 L130.8 259.4 L130.9 260.7 L131.1 262.0 L131.3 263.2 L131.4 264.4 L131.6 265.6 L131.8 266.8 L131.9 268.0 L132.6 272.6 L133.2 277.1 L133.9 281.3 L134.5 285.3 L134.7 286.2 L134.8 287.2 L135.0 288.1 L135.2 289.0 L135.3 289.9 L135.5 290.7 L135.7 291.6 L135.8 292.4 L136.0 293.1 L136.1 293.8 L136.3 294.5 L136.5 295.1 L136.6 295.6 L136.8 296.1 L137.0 296.4 L137.1 296.7 L137.3 296.8 L137.4 296.7 L137.6 296.5 L137.8 296.0 L137.9 295.2 L138.1 294.1 L138.3 292.5 L138.4 290.5 L138.6 287.8 L138.8 284.4 L138.9 280.1 L139.1 274.8 L139.2 268.1 L139.4 259.9 L139.6 261.2 L139.7 262.6 L139.9 263.9 L140.1 265.3 L140.2 266.6 L140.4 267.8 L140.5 269.1 L140.7 270.4 L140.9 271.6 L141.0 272.9 L141.2 274.1 L141.4 275.3 L141.5 276.5 L141.7 277.6 L141.8 278.8 L142.0 280.0 L142.2 281.1 L142.3 282.2 L143.0 286.6 L143.6 290.8 L144.3 294.8 L144.9 298.6 L145.6 302.2 L146.2 305.7 L146.9 309.0 L147.5 312.2 L148.2 315.3 L148.8 318.2 L149.5 320.9 L150.1 323.5 L150.8 326.0 L151.4 328.2 L151.6 328.7 L151.8 329.2 L151.9 329.7 L152.1 330.1 L152.3 330.5 L152.4 330.9 L152.6 331.2 L152.7 331.4 L152.9 331.6 L153.1 331.7 L153.2 331.7 L153.4 331.6 L153.6 331.4 L153.7 331.0 L153.9 330.4 L154.0 329.5 L154.2 328.3 L154.4 326.8 L154.5 324.9 L154.7 322.5 L154.9 319.4 L155.0 315.5 L155.2 310.8 L155.4 311.5 L155.5 312.3 L155.7 313.0 L155.8 313.7 L156.0 314.5 L156.2 315.2 L156.3 315.9 L156.5 316.6 L156.7 317.3 L156.8 317.9 L157.0 318.6 L157.1 319.3 L157.3 319.9 L157.5 320.6 L157.6 321.2 L157.8 321.9 L158.0 322.5 L158.9 326.2 L159.9 329.6 L160.9 332.8 L161.9 335.8 L162.8 338.6 L163.8 341.3 L164.8 343.8 L165.8 346.1 L166.7 348.3 L167.7 350.3 L168.7 352.2 L169.7 354.0 L170.6 355.7 L171.6 357.3 L172.6 358.8 L173.6 360.2 L174.6 361.5 L175.5 362.7 L176.5 363.9 L177.5 364.9 L178.5 366.0 L179.4 366.9 L180.4 367.8 L181.4 368.6 L182.4 369.4 L183.3 370.2 L184.3 370.8 L185.3 371.5 L186.3 372.1 L187.2 372.7 L188.2 373.2 L189.2 373.7 L190.2 374.2 L191.2 374.6 L192.1 375.0 L193.1 375.4 L194.1 375.8 L195.1 376.1 L196.0 376.5 L197.0 376.8 L198.0 377.0 L199.0 377.3 L199.9 377.6 L200.9 377.8 L201.9 378.0 L202.9 378.2 L203.9 378.4 L204.8 378.6 L205.8 378.8 L206.8 378.9 L207.8 379.1 L208.7 379.2 L209.7 379.3 L210.7 379.5 L211.7 379.6 L212.6 379.7 L213.6 379.8 L214.6 379.9 L215.6 380.0 L216.5 380.1 L217.5 380.2 L218.5 380.2 L219.5 380.3 L219.8 380.3 L222.4 380.5 L225.0 380.6 L227.6 380.7 L230.2 380.9 L232.8 380.9 L235.4 381.0 L238.0 381.1 L240.6 381.1 L243.2 381.2 L245.8 381.2 L248.4 381.2 L251.0 381.3 L253.7 381.3 L256.3 381.3 L258.9 381.3 L261.5 381.3 L264.1 381.3 L266.7 381.3 L269.3 381.4 L271.9 381.4 L274.5 381.4 L277.1 381.4 L279.7 381.4 L282.3 381.4 L284.9 381.4 L287.5 381.4 L290.1 381.4 L292.7 381.4 L295.3 381.4 L297.9 381.4 L300.5 381.4 L303.1 381.4 L305.7 381.4 L306.2 381.4" fill="none" stroke="#00e000" stroke-width="0.9"/>
</g>
<text x="41.9" y="242.1">n<tspan font-size="4.3" dy="1.5">p</tspan><tspan dy="-1.5"> = 12</tspan></text>
<text x="288.2" y="242.1" text-anchor="end">Four flares</text>
<text x="288.2" y="253.0" text-anchor="end">No QPP</text>
<g clip-path="url(#c4)">
<path d="M416.6 365.7 L419.9 365.7 L423.1 365.7 L426.4 365.7 L429.6 365.7 L432.9 365.7 L436.1 365.7 L439.4 365.7 L442.6 365.7 L445.9 365.7 L449.2 365.7 L452.4 365.7 L455.7 365.7 L458.9 365.7 L462.2 365.7 L465.4 365.7 L468.7 365.7 L471.9 365.7 L475.2 365.7 L478.4 365.7 L481.7 365.7 L485.0 365.7 L486.6 365.6 L486.7 365.6 L486.9 365.6 L487.1 365.6 L487.2 365.6 L487.4 365.6 L487.6 365.6 L487.7 365.6 L487.9 365.6 L488.0 365.6 L488.2 365.6 L488.4 365.6 L488.5 365.6 L488.7 365.6 L488.9 365.6 L489.0 365.6 L489.2 365.6 L489.3 365.6 L489.5 365.6 L489.7 365.6 L489.8 365.6 L490.0 365.6 L490.2 365.5 L490.3 365.5 L490.5 365.5 L490.7 365.5 L490.8 365.4 L491.0 365.4 L491.1 365.4 L491.3 365.3 L491.5 365.3 L491.6 365.2 L491.8 365.2 L492.0 365.1 L492.1 365.0 L492.3 364.9 L492.4 364.8 L492.6 364.7 L492.8 364.6 L492.9 364.4 L493.1 364.2 L493.3 364.0 L493.4 363.8 L493.6 363.5 L493.7 363.2 L493.9 362.8 L494.1 362.4 L494.2 361.9 L494.4 361.3 L494.6 360.7 L494.7 359.9 L494.9 359.1 L495.0 358.1 L495.2 357.0 L495.4 355.7 L495.5 354.2 L495.7 352.5 L495.9 350.5 L496.0 348.3 L496.2 345.7 L496.3 342.7 L496.5 339.3 L496.7 335.3 L496.8 330.8 L497.0 325.6 L497.2 319.7 L497.3 312.8 L497.5 313.4 L497.6 313.9 L497.8 314.4 L498.0 315.0 L498.1 315.5 L498.3 316.0 L498.5 316.5 L498.6 317.0 L498.8 317.5 L499.0 318.0 L499.1 318.5 L499.3 319.0 L499.4 319.5 L499.6 320.0 L499.8 320.4 L499.9 320.9 L500.1 321.4 L500.3 321.8 L500.4 322.3 L500.6 322.7 L500.7 323.2 L500.9 323.6 L501.1 324.1 L501.2 324.5 L501.4 324.9 L501.6 325.3 L501.7 325.8 L501.9 326.2 L502.5 327.8 L503.2 329.3 L503.8 330.8 L504.5 332.2 L505.1 333.6 L505.8 334.9 L506.4 336.2 L507.1 337.4 L507.7 338.5 L508.4 339.6 L509.0 340.6 L509.7 341.6 L509.9 341.9 L510.0 342.1 L510.2 342.3 L510.3 342.5 L510.5 342.8 L510.7 343.0 L510.8 343.2 L511.0 343.4 L511.2 343.6 L511.3 343.8 L511.5 344.0 L511.6 344.1 L511.8 344.3 L512.0 344.5 L512.1 344.6 L512.3 344.8 L512.5 344.9 L512.6 345.0 L512.8 345.1 L512.9 345.2 L513.1 345.3 L513.3 345.4 L513.4 345.4 L513.6 345.4 L513.8 345.4 L513.9 345.4 L514.1 345.3 L514.2 345.2 L514.4 345.0 L514.6 344.9 L514.7 344.6 L514.9 344.3 L515.1 344.0 L515.2 343.6 L515.4 343.1 L515.6 342.5 L515.7 341.8 L515.9 341.1 L516.0 340.2 L516.2 339.1 L516.4 337.9 L516.5 336.6 L516.7 335.0 L516.9 333.2 L517.0 331.2 L517.2 328.9 L517.3 326.2 L517.5 323.3 L517.7 319.9 L517.8 316.1 L518.0 311.8 L518.2 306.9 L518.3 301.3 L518.5 295.1 L518.6 288.0 L518.8 280.1 L519.0 271.1 L519.1 260.9 L519.3 249.5 L519.5 236.6 L519.6 228.6 L519.8 230.0 L519.9 231.4 L520.1 232.8 L520.3 234.2 L520.4 235.6 L520.6 236.9 L520.8 238.2 L520.9 239.6 L521.1 240.9 L521.2 242.2 L521.4 243.4 L521.6 244.7 L521.7 246.0 L521.9 247.2 L522.1 248.4 L522.2 249.6 L522.4 250.9 L522.6 252.0 L522.7 253.2 L522.9 254.4 L523.0 255.5 L523.2 256.7 L523.4 257.8 L523.5 258.9 L523.7 260.0 L523.9 261.1 L524.0 262.2 L524.7 266.4 L525.3 270.4 L526.0 274.3 L526.6 277.9 L526.8 278.8 L526.9 279.7 L527.1 280.5 L527.3 281.3 L527.4 282.2 L527.6 282.9 L527.8 283.7 L527.9 284.4 L528.1 285.1 L528.2 285.8 L528.4 286.4 L528.6 286.9 L528.7 287.4 L528.9 287.8 L529.1 288.1 L529.2 288.4 L529.4 288.5 L529.5 288.4 L529.7 288.2 L529.9 287.7 L530.0 287.0 L530.2 286.0 L530.4 284.6 L530.5 282.7 L530.7 280.3 L530.9 277.2 L531.0 273.3 L531.2 268.4 L531.3 262.3 L531.5 254.8 L531.7 256.0 L531.8 257.3 L532.0 258.5 L532.2 259.7 L532.3 260.9 L532.5 262.0 L532.6 263.2 L532.8 264.4 L533.0 265.5 L533.1 266.6 L533.3 267.7 L533.5 268.8 L533.6 269.9 L533.8 271.0 L533.9 272.1 L534.1 273.1 L534.3 274.1 L534.4 275.2 L535.1 279.2 L535.7 283.0 L536.4 286.6 L537.0 290.1 L537.7 293.4 L538.3 296.6 L539.0 299.6 L539.6 302.5 L540.3 305.3 L540.9 308.0 L541.6 310.5 L542.2 312.9 L542.9 315.1 L543.5 317.1 L543.7 317.6 L543.9 318.0 L544.0 318.5 L544.2 318.9 L544.4 319.2 L544.5 319.6 L544.7 319.8 L544.8 320.1 L545.0 320.2 L545.2 320.3 L545.3 320.3 L545.5 320.2 L545.7 320.0 L545.8 319.6 L546.0 319.1 L546.1 318.3 L546.3 317.2 L546.5 315.9 L546.6 314.1 L546.8 311.9 L547.0 309.1 L547.1 305.6 L547.3 301.2 L547.5 301.9 L547.6 302.6 L547.8 303.3 L547.9 303.9 L548.1 304.6 L548.3 305.2 L548.4 305.9 L548.6 306.5 L548.8 307.1 L548.9 307.8 L549.1 308.4 L549.2 309.0 L549.4 309.6 L549.6 310.2 L549.7 310.8 L549.9 311.4 L550.1 311.9 L551.0 315.3 L552.0 318.4 L553.0 321.3 L554.0 324.1 L554.9 326.6 L555.9 329.0 L556.9 331.3 L557.9 333.4 L558.8 335.4 L559.8 337.3 L560.8 339.0 L561.8 340.7 L562.7 342.2 L563.7 343.7 L564.7 345.0 L565.7 346.3 L566.7 347.5 L567.6 348.6 L568.6 349.7 L569.6 350.6 L570.6 351.6 L571.5 352.4 L572.5 353.2 L573.5 354.0 L574.5 354.7 L575.4 355.4 L576.4 356.0 L577.4 356.6 L578.4 357.2 L579.4 357.7 L580.3 358.2 L581.3 358.6 L582.3 359.1 L583.3 359.5 L584.2 359.8 L585.2 360.2 L586.2 360.5 L587.2 360.8 L588.1 361.1 L589.1 361.4 L590.1 361.7 L591.1 361.9 L592.0 362.1 L593.0 362.4 L594.0 362.6 L595.0 362.7 L596.0 362.9 L596.9 363.1 L597.9 363.2 L598.9 363.4 L599.9 363.5 L600.8 363.7 L601.8 363.8 L602.8 363.9 L603.8 364.0 L604.7 364.1 L605.7 364.2 L606.7 364.3 L607.7 364.4 L608.6 364.4 L609.6 364.5 L610.6 364.6 L611.6 364.6 L611.9 364.7 L614.5 364.8 L617.1 364.9 L619.7 365.1 L622.3 365.1 L624.9 365.2 L627.5 365.3 L630.1 365.3 L632.7 365.4 L635.3 365.4 L637.9 365.5 L640.5 365.5 L643.1 365.5 L645.8 365.5 L648.4 365.6 L651.0 365.6 L653.6 365.6 L656.2 365.6 L658.8 365.6 L661.4 365.6 L664.0 365.6 L666.6 365.6 L669.2 365.6 L671.8 365.6 L674.4 365.6 L677.0 365.6 L679.6 365.6 L682.2 365.6 L684.8 365.6 L687.4 365.6 L690.0 365.6 L692.6 365.6 L695.2 365.6 L697.8 365.6 L698.3 365.6 L698.3 391.0 L697.8 391.0 L695.2 391.0 L692.6 391.0 L690.0 391.0 L687.4 391.0 L684.8 391.0 L682.2 391.0 L679.6 391.0 L677.0 391.0 L674.4 391.0 L671.8 391.0 L669.2 391.0 L666.6 391.0 L664.0 391.0 L661.4 391.0 L658.8 391.0 L656.2 391.0 L653.6 391.0 L651.0 390.9 L648.4 390.9 L645.8 390.9 L643.1 390.9 L640.5 390.9 L637.9 390.8 L635.3 390.8 L632.7 390.8 L630.1 390.7 L627.5 390.7 L624.9 390.6 L622.3 390.5 L619.7 390.4 L617.1 390.3 L614.5 390.2 L611.9 390.0 L611.6 390.0 L610.6 390.0 L609.6 389.9 L608.6 389.8 L607.7 389.7 L606.7 389.6 L605.7 389.6 L604.7 389.5 L603.8 389.4 L602.8 389.3 L601.8 389.1 L600.8 389.0 L599.9 388.9 L598.9 388.8 L597.9 388.6 L596.9 388.5 L596.0 388.3 L595.0 388.1 L594.0 387.9 L593.0 387.7 L592.0 387.5 L591.1 387.3 L590.1 387.0 L589.1 386.8 L588.1 386.5 L587.2 386.2 L586.2 385.9 L585.2 385.6 L584.2 385.2 L583.3 384.8 L582.3 384.4 L581.3 384.0 L580.3 383.5 L579.4 383.0 L578.4 382.5 L577.4 382.0 L576.4 381.4 L575.4 380.8 L574.5 380.1 L573.5 379.4 L572.5 378.6 L571.5 377.8 L570.6 376.9 L569.6 376.0 L568.6 375.0 L567.6 374.0 L566.7 372.9 L565.7 371.7 L564.7 370.4 L563.7 369.0 L562.7 367.6 L561.8 366.1 L560.8 364.4 L559.8 362.7 L558.8 360.8 L557.9 358.8 L556.9 356.7 L555.9 354.4 L554.9 352.0 L554.0 349.4 L553.0 346.7 L552.0 343.8 L551.0 340.6 L550.1 337.3 L549.9 336.7 L549.7 336.1 L549.6 335.5 L549.4 335.0 L549.2 334.3 L549.1 333.7 L548.9 333.1 L548.8 332.5 L548.6 331.9 L548.4 331.2 L548.3 330.6 L548.1 329.9 L547.9 329.3 L547.8 328.6 L547.6 328.0 L547.5 327.3 L547.3 326.6 L547.1 330.9 L547.0 334.4 L546.8 337.2 L546.6 339.5 L546.5 341.2 L546.3 342.6 L546.1 343.7 L546.0 344.4 L545.8 345.0 L545.7 345.4 L545.5 345.6 L545.3 345.7 L545.2 345.7 L545.0 345.6 L544.8 345.4 L544.7 345.2 L544.5 344.9 L544.4 344.6 L544.2 344.2 L544.0 343.8 L543.9 343.4 L543.7 343.0 L543.5 342.5 L542.9 340.5 L542.2 338.2 L541.6 335.8 L540.9 333.3 L540.3 330.7 L539.6 327.9 L539.0 325.0 L538.3 322.0 L537.7 318.8 L537.0 315.5 L536.4 312.0 L535.7 308.3 L535.1 304.5 L534.4 300.5 L534.3 299.5 L534.1 298.5 L533.9 297.4 L533.8 296.4 L533.6 295.3 L533.5 294.2 L533.3 293.1 L533.1 292.0 L533.0 290.9 L532.8 289.7 L532.6 288.6 L532.5 287.4 L532.3 286.2 L532.2 285.0 L532.0 283.8 L531.8 282.6 L531.7 281.4 L531.5 280.1 L531.3 287.7 L531.2 293.7 L531.0 298.6 L530.9 302.5 L530.7 305.6 L530.5 308.1 L530.4 309.9 L530.2 311.3 L530.0 312.4 L529.9 313.1 L529.7 313.5 L529.5 313.8 L529.4 313.8 L529.2 313.7 L529.1 313.5 L528.9 313.2 L528.7 312.8 L528.6 312.3 L528.4 311.7 L528.2 311.1 L528.1 310.5 L527.9 309.8 L527.8 309.1 L527.6 308.3 L527.4 307.5 L527.3 306.7 L527.1 305.9 L526.9 305.0 L526.8 304.2 L526.6 303.3 L526.0 299.7 L525.3 295.8 L524.7 291.8 L524.0 287.6 L523.9 286.5 L523.7 285.4 L523.5 284.3 L523.4 283.2 L523.2 282.0 L523.0 280.9 L522.9 279.8 L522.7 278.6 L522.6 277.4 L522.4 276.2 L522.2 275.0 L522.1 273.8 L521.9 272.6 L521.7 271.3 L521.6 270.1 L521.4 268.8 L521.2 267.5 L521.1 266.2 L520.9 264.9 L520.8 263.6 L520.6 262.3 L520.4 260.9 L520.3 259.6 L520.1 258.2 L519.9 256.8 L519.8 255.4 L519.6 254.0 L519.5 261.9 L519.3 274.9 L519.1 286.3 L519.0 296.4 L518.8 305.4 L518.6 313.4 L518.5 320.5 L518.3 326.7 L518.2 332.2 L518.0 337.1 L517.8 341.4 L517.7 345.3 L517.5 348.6 L517.3 351.6 L517.2 354.2 L517.0 356.5 L516.9 358.6 L516.7 360.4 L516.5 361.9 L516.4 363.3 L516.2 364.5 L516.0 365.5 L515.9 366.4 L515.7 367.2 L515.6 367.9 L515.4 368.5 L515.2 369.0 L515.1 369.4 L514.9 369.7 L514.7 370.0 L514.6 370.2 L514.4 370.4 L514.2 370.6 L514.1 370.7 L513.9 370.7 L513.8 370.8 L513.6 370.8 L513.4 370.8 L513.3 370.7 L513.1 370.7 L512.9 370.6 L512.8 370.5 L512.6 370.4 L512.5 370.3 L512.3 370.1 L512.1 370.0 L512.0 369.8 L511.8 369.7 L511.6 369.5 L511.5 369.3 L511.3 369.1 L511.2 369.0 L511.0 368.8 L510.8 368.5 L510.7 368.3 L510.5 368.1 L510.3 367.9 L510.2 367.7 L510.0 367.5 L509.9 367.2 L509.7 367.0 L509.0 366.0 L508.4 365.0 L507.7 363.9 L507.1 362.7 L506.4 361.5 L505.8 360.3 L505.1 359.0 L504.5 357.6 L503.8 356.2 L503.2 354.7 L502.5 353.2 L501.9 351.5 L501.7 351.1 L501.6 350.7 L501.4 350.3 L501.2 349.9 L501.1 349.4 L500.9 349.0 L500.7 348.6 L500.6 348.1 L500.4 347.7 L500.3 347.2 L500.1 346.7 L499.9 346.3 L499.8 345.8 L499.6 345.3 L499.4 344.9 L499.3 344.4 L499.1 343.9 L499.0 343.4 L498.8 342.9 L498.6 342.4 L498.5 341.9 L498.3 341.4 L498.1 340.9 L498.0 340.3 L497.8 339.8 L497.6 339.3 L497.5 338.7 L497.3 338.2 L497.2 345.0 L497.0 351.0 L496.8 356.2 L496.7 360.7 L496.5 364.6 L496.3 368.1 L496.2 371.0 L496.0 373.6 L495.9 375.9 L495.7 377.8 L495.5 379.6 L495.4 381.0 L495.2 382.3 L495.0 383.5 L494.9 384.4 L494.7 385.3 L494.6 386.0 L494.4 386.7 L494.2 387.2 L494.1 387.7 L493.9 388.2 L493.7 388.5 L493.6 388.9 L493.4 389.1 L493.3 389.4 L493.1 389.6 L492.9 389.8 L492.8 389.9 L492.6 390.1 L492.4 390.2 L492.3 390.3 L492.1 390.4 L492.0 390.5 L491.8 390.6 L491.6 390.6 L491.5 390.7 L491.3 390.7 L491.1 390.8 L491.0 390.8 L490.8 390.8 L490.7 390.8 L490.5 390.9 L490.3 390.9 L490.2 390.9 L490.0 390.9 L489.8 390.9 L489.7 390.9 L489.5 391.0 L489.3 391.0 L489.2 391.0 L489.0 391.0 L488.9 391.0 L488.7 391.0 L488.5 391.0 L488.4 391.0 L488.2 391.0 L488.0 391.0 L487.9 391.0 L487.7 391.0 L487.6 391.0 L487.4 391.0 L487.2 391.0 L487.1 391.0 L486.9 391.0 L486.7 391.0 L486.6 391.0 L485.0 391.0 L481.7 391.0 L478.4 391.0 L475.2 391.0 L471.9 391.0 L468.7 391.0 L465.4 391.0 L462.2 391.0 L458.9 391.0 L455.7 391.0 L452.4 391.0 L449.2 391.0 L445.9 391.0 L442.6 391.0 L439.4 391.0 L436.1 391.0 L432.9 391.0 L429.6 391.0 L426.4 391.0 L423.1 391.0 L419.9 391.0 L416.6 391.0Z" fill="#e4e4e4"/>
<path d="M416.6 369.9 L419.9 369.9 L423.1 369.9 L426.4 369.9 L429.6 369.9 L432.9 369.9 L436.1 369.9 L439.4 369.9 L442.6 369.9 L445.9 369.9 L449.2 369.9 L452.4 369.9 L455.7 369.9 L458.9 369.9 L462.2 369.9 L465.4 369.9 L468.7 369.9 L471.9 369.9 L475.2 369.9 L478.4 369.9 L481.7 369.9 L485.0 369.9 L486.6 369.9 L486.7 369.9 L486.9 369.9 L487.1 369.9 L487.2 369.9 L487.4 369.9 L487.6 369.9 L487.7 369.9 L487.9 369.9 L488.0 369.9 L488.2 369.9 L488.4 369.9 L488.5 369.9 L488.7 369.8 L488.9 369.8 L489.0 369.8 L489.2 369.8 L489.3 369.8 L489.5 369.8 L489.7 369.8 L489.8 369.8 L490.0 369.8 L490.2 369.8 L490.3 369.7 L490.5 369.7 L490.7 369.7 L490.8 369.7 L491.0 369.6 L491.1 369.6 L491.3 369.6 L491.5 369.5 L491.6 369.5 L491.8 369.4 L492.0 369.3 L492.1 369.3 L492.3 369.2 L492.4 369.1 L492.6 368.9 L492.8 368.8 L492.9 368.6 L493.1 368.5 L493.3 368.2 L493.4 368.0 L493.6 367.7 L493.7 367.4 L493.9 367.0 L494.1 366.6 L494.2 366.1 L494.4 365.5 L494.6 364.9 L494.7 364.2 L494.9 363.3 L495.0 362.3 L495.2 361.2 L495.4 359.9 L495.5 358.4 L495.7 356.7 L495.9 354.7 L496.0 352.5 L496.2 349.9 L496.3 346.9 L496.5 343.5 L496.7 339.6 L496.8 335.0 L497.0 329.8 L497.2 323.9 L497.3 317.0 L497.5 317.6 L497.6 318.1 L497.8 318.7 L498.0 319.2 L498.1 319.7 L498.3 320.2 L498.5 320.7 L498.6 321.3 L498.8 321.8 L499.0 322.3 L499.1 322.8 L499.3 323.2 L499.4 323.7 L499.6 324.2 L499.8 324.7 L499.9 325.1 L500.1 325.6 L500.3 326.1 L500.4 326.5 L500.6 327.0 L500.7 327.4 L500.9 327.9 L501.1 328.3 L501.2 328.7 L501.4 329.1 L501.6 329.6 L501.7 330.0 L501.9 330.4 L502.5 332.0 L503.2 333.6 L503.8 335.0 L504.5 336.5 L505.1 337.8 L505.8 339.1 L506.4 340.4 L507.1 341.6 L507.7 342.7 L508.4 343.8 L509.0 344.9 L509.7 345.8 L509.9 346.1 L510.0 346.3 L510.2 346.5 L510.3 346.8 L510.5 347.0 L510.7 347.2 L510.8 347.4 L511.0 347.6 L511.2 347.8 L511.3 348.0 L511.5 348.2 L511.6 348.4 L511.8 348.5 L512.0 348.7 L512.1 348.9 L512.3 349.0 L512.5 349.1 L512.6 349.2 L512.8 349.4 L512.9 349.4 L513.1 349.5 L513.3 349.6 L513.4 349.6 L513.6 349.6 L513.8 349.6 L513.9 349.6 L514.1 349.5 L514.2 349.4 L514.4 349.3 L514.6 349.1 L514.7 348.9 L514.9 348.6 L515.1 348.2 L515.2 347.8 L515.4 347.3 L515.6 346.7 L515.7 346.1 L515.9 345.3 L516.0 344.4 L516.2 343.3 L516.4 342.2 L516.5 340.8 L516.7 339.2 L516.9 337.4 L517.0 335.4 L517.2 333.1 L517.3 330.5 L517.5 327.5 L517.7 324.1 L517.8 320.3 L518.0 316.0 L518.2 311.1 L518.3 305.6 L518.5 299.3 L518.6 292.3 L518.8 284.3 L519.0 275.3 L519.1 265.2 L519.3 253.7 L519.5 240.8 L519.6 232.8 L519.8 234.3 L519.9 235.7 L520.1 237.1 L520.3 238.4 L520.4 239.8 L520.6 241.1 L520.8 242.5 L520.9 243.8 L521.1 245.1 L521.2 246.4 L521.4 247.7 L521.6 248.9 L521.7 250.2 L521.9 251.4 L522.1 252.7 L522.2 253.9 L522.4 255.1 L522.6 256.3 L522.7 257.4 L522.9 258.6 L523.0 259.8 L523.2 260.9 L523.4 262.0 L523.5 263.1 L523.7 264.3 L523.9 265.3 L524.0 266.4 L524.7 270.6 L525.3 274.7 L526.0 278.5 L526.6 282.2 L526.8 283.0 L526.9 283.9 L527.1 284.8 L527.3 285.6 L527.4 286.4 L527.6 287.2 L527.8 287.9 L527.9 288.6 L528.1 289.3 L528.2 290.0 L528.4 290.6 L528.6 291.1 L528.7 291.6 L528.9 292.0 L529.1 292.4 L529.2 292.6 L529.4 292.7 L529.5 292.6 L529.7 292.4 L529.9 291.9 L530.0 291.2 L530.2 290.2 L530.4 288.8 L530.5 286.9 L530.7 284.5 L530.9 281.4 L531.0 277.5 L531.2 272.6 L531.3 266.5 L531.5 259.0 L531.7 260.3 L531.8 261.5 L532.0 262.7 L532.2 263.9 L532.3 265.1 L532.5 266.3 L532.6 267.4 L532.8 268.6 L533.0 269.7 L533.1 270.8 L533.3 272.0 L533.5 273.1 L533.6 274.1 L533.8 275.2 L533.9 276.3 L534.1 277.3 L534.3 278.4 L534.4 279.4 L535.1 283.4 L535.7 287.2 L536.4 290.8 L537.0 294.3 L537.7 297.6 L538.3 300.8 L539.0 303.9 L539.6 306.8 L540.3 309.5 L540.9 312.2 L541.6 314.7 L542.2 317.1 L542.9 319.3 L543.5 321.4 L543.7 321.8 L543.9 322.3 L544.0 322.7 L544.2 323.1 L544.4 323.5 L544.5 323.8 L544.7 324.1 L544.8 324.3 L545.0 324.5 L545.2 324.6 L545.3 324.6 L545.5 324.5 L545.7 324.2 L545.8 323.9 L546.0 323.3 L546.1 322.5 L546.3 321.5 L546.5 320.1 L546.6 318.3 L546.8 316.1 L547.0 313.3 L547.1 309.8 L547.3 305.5 L547.5 306.1 L547.6 306.8 L547.8 307.5 L547.9 308.2 L548.1 308.8 L548.3 309.5 L548.4 310.1 L548.6 310.7 L548.8 311.4 L548.9 312.0 L549.1 312.6 L549.2 313.2 L549.4 313.8 L549.6 314.4 L549.7 315.0 L549.9 315.6 L550.1 316.2 L551.0 319.5 L552.0 322.6 L553.0 325.5 L554.0 328.3 L554.9 330.9 L555.9 333.3 L556.9 335.5 L557.9 337.7 L558.8 339.7 L559.8 341.5 L560.8 343.3 L561.8 344.9 L562.7 346.5 L563.7 347.9 L564.7 349.3 L565.7 350.5 L566.7 351.7 L567.6 352.8 L568.6 353.9 L569.6 354.9 L570.6 355.8 L571.5 356.7 L572.5 357.5 L573.5 358.2 L574.5 358.9 L575.4 359.6 L576.4 360.2 L577.4 360.8 L578.4 361.4 L579.4 361.9 L580.3 362.4 L581.3 362.9 L582.3 363.3 L583.3 363.7 L584.2 364.1 L585.2 364.4 L586.2 364.8 L587.2 365.1 L588.1 365.4 L589.1 365.6 L590.1 365.9 L591.1 366.1 L592.0 366.4 L593.0 366.6 L594.0 366.8 L595.0 367.0 L596.0 367.1 L596.9 367.3 L597.9 367.5 L598.9 367.6 L599.9 367.8 L600.8 367.9 L601.8 368.0 L602.8 368.1 L603.8 368.2 L604.7 368.3 L605.7 368.4 L606.7 368.5 L607.7 368.6 L608.6 368.7 L609.6 368.7 L610.6 368.8 L611.6 368.9 L611.9 368.9 L614.5 369.0 L617.1 369.2 L619.7 369.3 L622.3 369.4 L624.9 369.5 L627.5 369.5 L630.1 369.6 L632.7 369.6 L635.3 369.7 L637.9 369.7 L640.5 369.7 L643.1 369.7 L645.8 369.8 L648.4 369.8 L651.0 369.8 L653.6 369.8 L656.2 369.8 L658.8 369.8 L661.4 369.8 L664.0 369.8 L666.6 369.9 L669.2 369.9 L671.8 369.9 L674.4 369.9 L677.0 369.9 L679.6 369.9 L682.2 369.9 L684.8 369.9 L687.4 369.9 L690.0 369.9 L692.6 369.9 L695.2 369.9 L697.8 369.9 L698.3 369.9 L698.3 386.8 L697.8 386.8 L695.2 386.8 L692.6 386.8 L690.0 386.8 L687.4 386.8 L684.8 386.8 L682.2 386.8 L679.6 386.8 L677.0 386.8 L674.4 386.8 L671.8 386.8 L669.2 386.8 L666.6 386.8 L664.0 386.8 L661.4 386.8 L658.8 386.7 L656.2 386.7 L653.6 386.7 L651.0 386.7 L648.4 386.7 L645.8 386.7 L643.1 386.7 L640.5 386.6 L637.9 386.6 L635.3 386.6 L632.7 386.5 L630.1 386.5 L627.5 386.4 L624.9 386.4 L622.3 386.3 L619.7 386.2 L617.1 386.1 L614.5 386.0 L611.9 385.8 L611.6 385.8 L610.6 385.7 L609.6 385.7 L608.6 385.6 L607.7 385.5 L606.7 385.4 L605.7 385.3 L604.7 385.2 L603.8 385.1 L602.8 385.0 L601.8 384.9 L600.8 384.8 L599.9 384.7 L598.9 384.5 L597.9 384.4 L596.9 384.2 L596.0 384.1 L595.0 383.9 L594.0 383.7 L593.0 383.5 L592.0 383.3 L591.1 383.1 L590.1 382.8 L589.1 382.5 L588.1 382.3 L587.2 382.0 L586.2 381.7 L585.2 381.3 L584.2 381.0 L583.3 380.6 L582.3 380.2 L581.3 379.8 L580.3 379.3 L579.4 378.8 L578.4 378.3 L577.4 377.7 L576.4 377.2 L575.4 376.5 L574.5 375.9 L573.5 375.1 L572.5 374.4 L571.5 373.6 L570.6 372.7 L569.6 371.8 L568.6 370.8 L567.6 369.7 L566.7 368.6 L565.7 367.4 L564.7 366.2 L563.7 364.8 L562.7 363.4 L561.8 361.8 L560.8 360.2 L559.8 358.4 L558.8 356.6 L557.9 354.6 L556.9 352.5 L555.9 350.2 L554.9 347.8 L554.0 345.2 L553.0 342.5 L552.0 339.5 L551.0 336.4 L550.1 333.1 L549.9 332.5 L549.7 331.9 L549.6 331.3 L549.4 330.7 L549.2 330.1 L549.1 329.5 L548.9 328.9 L548.8 328.3 L548.6 327.6 L548.4 327.0 L548.3 326.4 L548.1 325.7 L547.9 325.1 L547.8 324.4 L547.6 323.7 L547.5 323.1 L547.3 322.4 L547.1 326.7 L547.0 330.2 L546.8 333.0 L546.6 335.2 L546.5 337.0 L546.3 338.4 L546.1 339.4 L546.0 340.2 L545.8 340.8 L545.7 341.2 L545.5 341.4 L545.3 341.5 L545.2 341.5 L545.0 341.4 L544.8 341.2 L544.7 341.0 L544.5 340.7 L544.4 340.4 L544.2 340.0 L544.0 339.6 L543.9 339.2 L543.7 338.7 L543.5 338.3 L542.9 336.2 L542.2 334.0 L541.6 331.6 L540.9 329.1 L540.3 326.5 L539.6 323.7 L539.0 320.8 L538.3 317.7 L537.7 314.6 L537.0 311.2 L536.4 307.8 L535.7 304.1 L535.1 300.3 L534.4 296.3 L534.3 295.3 L534.1 294.2 L533.9 293.2 L533.8 292.1 L533.6 291.1 L533.5 290.0 L533.3 288.9 L533.1 287.8 L533.0 286.6 L532.8 285.5 L532.6 284.3 L532.5 283.2 L532.3 282.0 L532.2 280.8 L532.0 279.6 L531.8 278.4 L531.7 277.2 L531.5 275.9 L531.3 283.4 L531.2 289.5 L531.0 294.4 L530.9 298.3 L530.7 301.4 L530.5 303.8 L530.4 305.7 L530.2 307.1 L530.0 308.1 L529.9 308.9 L529.7 309.3 L529.5 309.5 L529.4 309.6 L529.2 309.5 L529.1 309.3 L528.9 309.0 L528.7 308.5 L528.6 308.0 L528.4 307.5 L528.2 306.9 L528.1 306.2 L527.9 305.6 L527.8 304.8 L527.6 304.1 L527.4 303.3 L527.3 302.5 L527.1 301.7 L526.9 300.8 L526.8 300.0 L526.6 299.1 L526.0 295.4 L525.3 291.6 L524.7 287.6 L524.0 283.3 L523.9 282.3 L523.7 281.2 L523.5 280.1 L523.4 278.9 L523.2 277.8 L523.0 276.7 L522.9 275.5 L522.7 274.4 L522.6 273.2 L522.4 272.0 L522.2 270.8 L522.1 269.6 L521.9 268.3 L521.7 267.1 L521.6 265.9 L521.4 264.6 L521.2 263.3 L521.1 262.0 L520.9 260.7 L520.8 259.4 L520.6 258.1 L520.4 256.7 L520.3 255.3 L520.1 254.0 L519.9 252.6 L519.8 251.2 L519.6 249.8 L519.5 257.7 L519.3 270.6 L519.1 282.1 L519.0 292.2 L518.8 301.2 L518.6 309.2 L518.5 316.2 L518.3 322.5 L518.2 328.0 L518.0 332.9 L517.8 337.2 L517.7 341.0 L517.5 344.4 L517.3 347.4 L517.2 350.0 L517.0 352.3 L516.9 354.3 L516.7 356.1 L516.5 357.7 L516.4 359.1 L516.2 360.3 L516.0 361.3 L515.9 362.2 L515.7 363.0 L515.6 363.7 L515.4 364.2 L515.2 364.7 L515.1 365.1 L514.9 365.5 L514.7 365.8 L514.6 366.0 L514.4 366.2 L514.2 366.3 L514.1 366.4 L513.9 366.5 L513.8 366.5 L513.6 366.5 L513.4 366.5 L513.3 366.5 L513.1 366.4 L512.9 366.4 L512.8 366.3 L512.6 366.2 L512.5 366.0 L512.3 365.9 L512.1 365.8 L512.0 365.6 L511.8 365.4 L511.6 365.3 L511.5 365.1 L511.3 364.9 L511.2 364.7 L511.0 364.5 L510.8 364.3 L510.7 364.1 L510.5 363.9 L510.3 363.7 L510.2 363.5 L510.0 363.2 L509.9 363.0 L509.7 362.8 L509.0 361.8 L508.4 360.7 L507.7 359.6 L507.1 358.5 L506.4 357.3 L505.8 356.0 L505.1 354.7 L504.5 353.4 L503.8 352.0 L503.2 350.5 L502.5 348.9 L501.9 347.3 L501.7 346.9 L501.6 346.5 L501.4 346.1 L501.2 345.6 L501.1 345.2 L500.9 344.8 L500.7 344.3 L500.6 343.9 L500.4 343.4 L500.3 343.0 L500.1 342.5 L499.9 342.1 L499.8 341.6 L499.6 341.1 L499.4 340.6 L499.3 340.2 L499.1 339.7 L499.0 339.2 L498.8 338.7 L498.6 338.2 L498.5 337.7 L498.3 337.1 L498.1 336.6 L498.0 336.1 L497.8 335.6 L497.6 335.0 L497.5 334.5 L497.3 333.9 L497.2 340.8 L497.0 346.8 L496.8 352.0 L496.7 356.5 L496.5 360.4 L496.3 363.8 L496.2 366.8 L496.0 369.4 L495.9 371.7 L495.7 373.6 L495.5 375.3 L495.4 376.8 L495.2 378.1 L495.0 379.2 L494.9 380.2 L494.7 381.1 L494.6 381.8 L494.4 382.5 L494.2 383.0 L494.1 383.5 L493.9 383.9 L493.7 384.3 L493.6 384.6 L493.4 384.9 L493.3 385.2 L493.1 385.4 L492.9 385.6 L492.8 385.7 L492.6 385.9 L492.4 386.0 L492.3 386.1 L492.1 386.2 L492.0 386.3 L491.8 386.3 L491.6 386.4 L491.5 386.4 L491.3 386.5 L491.1 386.5 L491.0 386.6 L490.8 386.6 L490.7 386.6 L490.5 386.6 L490.3 386.7 L490.2 386.7 L490.0 386.7 L489.8 386.7 L489.7 386.7 L489.5 386.7 L489.3 386.7 L489.2 386.7 L489.0 386.7 L488.9 386.8 L488.7 386.8 L488.5 386.8 L488.4 386.8 L488.2 386.8 L488.0 386.8 L487.9 386.8 L487.7 386.8 L487.6 386.8 L487.4 386.8 L487.2 386.8 L487.1 386.8 L486.9 386.8 L486.7 386.8 L486.6 386.8 L485.0 386.8 L481.7 386.8 L478.4 386.8 L475.2 386.8 L471.9 386.8 L468.7 386.8 L465.4 386.8 L462.2 386.8 L458.9 386.8 L455.7 386.8 L452.4 386.8 L449.2 386.8 L445.9 386.8 L442.6 386.8 L439.4 386.8 L436.1 386.8 L432.9 386.8 L429.6 386.8 L426.4 386.8 L423.1 386.8 L419.9 386.8 L416.6 386.8Z" fill="#ffff00"/>
<path d="M416.6 374.1 L419.9 374.1 L423.1 374.1 L426.4 374.1 L429.6 374.1 L432.9 374.1 L436.1 374.1 L439.4 374.1 L442.6 374.1 L445.9 374.1 L449.2 374.1 L452.4 374.1 L455.7 374.1 L458.9 374.1 L462.2 374.1 L465.4 374.1 L468.7 374.1 L471.9 374.1 L475.2 374.1 L478.4 374.1 L481.7 374.1 L485.0 374.1 L486.6 374.1 L486.7 374.1 L486.9 374.1 L487.1 374.1 L487.2 374.1 L487.4 374.1 L487.6 374.1 L487.7 374.1 L487.9 374.1 L488.0 374.1 L488.2 374.1 L488.4 374.1 L488.5 374.1 L488.7 374.1 L488.9 374.1 L489.0 374.1 L489.2 374.1 L489.3 374.1 L489.5 374.0 L489.7 374.0 L489.8 374.0 L490.0 374.0 L490.2 374.0 L490.3 374.0 L490.5 374.0 L490.7 373.9 L490.8 373.9 L491.0 373.9 L491.1 373.8 L491.3 373.8 L491.5 373.8 L491.6 373.7 L491.8 373.6 L492.0 373.6 L492.1 373.5 L492.3 373.4 L492.4 373.3 L492.6 373.2 L492.8 373.0 L492.9 372.9 L493.1 372.7 L493.3 372.5 L493.4 372.2 L493.6 371.9 L493.7 371.6 L493.9 371.3 L494.1 370.8 L494.2 370.3 L494.4 369.8 L494.6 369.1 L494.7 368.4 L494.9 367.5 L495.0 366.5 L495.2 365.4 L495.4 364.1 L495.5 362.6 L495.7 360.9 L495.9 359.0 L496.0 356.7 L496.2 354.1 L496.3 351.1 L496.5 347.7 L496.7 343.8 L496.8 339.3 L497.0 334.1 L497.2 328.1 L497.3 321.3 L497.5 321.8 L497.6 322.3 L497.8 322.9 L498.0 323.4 L498.1 323.9 L498.3 324.5 L498.5 325.0 L498.6 325.5 L498.8 326.0 L499.0 326.5 L499.1 327.0 L499.3 327.5 L499.4 328.0 L499.6 328.4 L499.8 328.9 L499.9 329.4 L500.1 329.8 L500.3 330.3 L500.4 330.7 L500.6 331.2 L500.7 331.6 L500.9 332.1 L501.1 332.5 L501.2 333.0 L501.4 333.4 L501.6 333.8 L501.7 334.2 L501.9 334.6 L502.5 336.2 L503.2 337.8 L503.8 339.3 L504.5 340.7 L505.1 342.1 L505.8 343.4 L506.4 344.6 L507.1 345.8 L507.7 347.0 L508.4 348.0 L509.0 349.1 L509.7 350.1 L509.9 350.3 L510.0 350.5 L510.2 350.8 L510.3 351.0 L510.5 351.2 L510.7 351.4 L510.8 351.6 L511.0 351.8 L511.2 352.0 L511.3 352.2 L511.5 352.4 L511.6 352.6 L511.8 352.8 L512.0 352.9 L512.1 353.1 L512.3 353.2 L512.5 353.4 L512.6 353.5 L512.8 353.6 L512.9 353.7 L513.1 353.7 L513.3 353.8 L513.4 353.8 L513.6 353.9 L513.8 353.9 L513.9 353.8 L514.1 353.7 L514.2 353.6 L514.4 353.5 L514.6 353.3 L514.7 353.1 L514.9 352.8 L515.1 352.5 L515.2 352.0 L515.4 351.6 L515.6 351.0 L515.7 350.3 L515.9 349.5 L516.0 348.6 L516.2 347.6 L516.4 346.4 L516.5 345.0 L516.7 343.4 L516.9 341.7 L517.0 339.6 L517.2 337.3 L517.3 334.7 L517.5 331.7 L517.7 328.4 L517.8 324.5 L518.0 320.2 L518.2 315.3 L518.3 309.8 L518.5 303.5 L518.6 296.5 L518.8 288.5 L519.0 279.5 L519.1 269.4 L519.3 257.9 L519.5 245.0 L519.6 237.1 L519.8 238.5 L519.9 239.9 L520.1 241.3 L520.3 242.7 L520.4 244.0 L520.6 245.4 L520.8 246.7 L520.9 248.0 L521.1 249.3 L521.2 250.6 L521.4 251.9 L521.6 253.2 L521.7 254.4 L521.9 255.7 L522.1 256.9 L522.2 258.1 L522.4 259.3 L522.6 260.5 L522.7 261.7 L522.9 262.8 L523.0 264.0 L523.2 265.1 L523.4 266.3 L523.5 267.4 L523.7 268.5 L523.9 269.6 L524.0 270.7 L524.7 274.9 L525.3 278.9 L526.0 282.8 L526.6 286.4 L526.8 287.3 L526.9 288.1 L527.1 289.0 L527.3 289.8 L527.4 290.6 L527.6 291.4 L527.8 292.1 L527.9 292.9 L528.1 293.6 L528.2 294.2 L528.4 294.8 L528.6 295.4 L528.7 295.9 L528.9 296.3 L529.1 296.6 L529.2 296.8 L529.4 296.9 L529.5 296.9 L529.7 296.6 L529.9 296.2 L530.0 295.5 L530.2 294.4 L530.4 293.0 L530.5 291.2 L530.7 288.7 L530.9 285.6 L531.0 281.7 L531.2 276.8 L531.3 270.8 L531.5 263.2 L531.7 264.5 L531.8 265.7 L532.0 266.9 L532.2 268.1 L532.3 269.3 L532.5 270.5 L532.6 271.7 L532.8 272.8 L533.0 274.0 L533.1 275.1 L533.3 276.2 L533.5 277.3 L533.6 278.4 L533.8 279.4 L533.9 280.5 L534.1 281.6 L534.3 282.6 L534.4 283.6 L535.1 287.6 L535.7 291.4 L536.4 295.1 L537.0 298.5 L537.7 301.9 L538.3 305.1 L539.0 308.1 L539.6 311.0 L540.3 313.8 L540.9 316.4 L541.6 318.9 L542.2 321.3 L542.9 323.5 L543.5 325.6 L543.7 326.1 L543.9 326.5 L544.0 326.9 L544.2 327.3 L544.4 327.7 L544.5 328.0 L544.7 328.3 L544.8 328.5 L545.0 328.7 L545.2 328.8 L545.3 328.8 L545.5 328.7 L545.7 328.5 L545.8 328.1 L546.0 327.5 L546.1 326.8 L546.3 325.7 L546.5 324.3 L546.6 322.6 L546.8 320.3 L547.0 317.5 L547.1 314.0 L547.3 309.7 L547.5 310.4 L547.6 311.0 L547.8 311.7 L547.9 312.4 L548.1 313.0 L548.3 313.7 L548.4 314.3 L548.6 315.0 L548.8 315.6 L548.9 316.2 L549.1 316.8 L549.2 317.4 L549.4 318.0 L549.6 318.6 L549.7 319.2 L549.9 319.8 L550.1 320.4 L551.0 323.7 L552.0 326.8 L553.0 329.8 L554.0 332.5 L554.9 335.1 L555.9 337.5 L556.9 339.8 L557.9 341.9 L558.8 343.9 L559.8 345.7 L560.8 347.5 L561.8 349.1 L562.7 350.7 L563.7 352.1 L564.7 353.5 L565.7 354.8 L566.7 355.9 L567.6 357.1 L568.6 358.1 L569.6 359.1 L570.6 360.0 L571.5 360.9 L572.5 361.7 L573.5 362.5 L574.5 363.2 L575.4 363.8 L576.4 364.5 L577.4 365.1 L578.4 365.6 L579.4 366.1 L580.3 366.6 L581.3 367.1 L582.3 367.5 L583.3 367.9 L584.2 368.3 L585.2 368.6 L586.2 369.0 L587.2 369.3 L588.1 369.6 L589.1 369.9 L590.1 370.1 L591.1 370.4 L592.0 370.6 L593.0 370.8 L594.0 371.0 L595.0 371.2 L596.0 371.4 L596.9 371.5 L597.9 371.7 L598.9 371.8 L599.9 372.0 L600.8 372.1 L601.8 372.2 L602.8 372.3 L603.8 372.5 L604.7 372.6 L605.7 372.6 L606.7 372.7 L607.7 372.8 L608.6 372.9 L609.6 373.0 L610.6 373.0 L611.6 373.1 L611.9 373.1 L614.5 373.3 L617.1 373.4 L619.7 373.5 L622.3 373.6 L624.9 373.7 L627.5 373.7 L630.1 373.8 L632.7 373.8 L635.3 373.9 L637.9 373.9 L640.5 374.0 L643.1 374.0 L645.8 374.0 L648.4 374.0 L651.0 374.0 L653.6 374.0 L656.2 374.1 L658.8 374.1 L661.4 374.1 L664.0 374.1 L666.6 374.1 L669.2 374.1 L671.8 374.1 L674.4 374.1 L677.0 374.1 L679.6 374.1 L682.2 374.1 L684.8 374.1 L687.4 374.1 L690.0 374.1 L692.6 374.1 L695.2 374.1 L697.8 374.1 L698.3 374.1 L698.3 382.6 L697.8 382.6 L695.2 382.6 L692.6 382.6 L690.0 382.6 L687.4 382.6 L684.8 382.6 L682.2 382.6 L679.6 382.6 L677.0 382.6 L674.4 382.5 L671.8 382.5 L669.2 382.5 L666.6 382.5 L664.0 382.5 L661.4 382.5 L658.8 382.5 L656.2 382.5 L653.6 382.5 L651.0 382.5 L648.4 382.5 L645.8 382.5 L643.1 382.4 L640.5 382.4 L637.9 382.4 L635.3 382.3 L632.7 382.3 L630.1 382.3 L627.5 382.2 L624.9 382.1 L622.3 382.1 L619.7 382.0 L617.1 381.9 L614.5 381.7 L611.9 381.6 L611.6 381.6 L610.6 381.5 L609.6 381.4 L608.6 381.4 L607.7 381.3 L606.7 381.2 L605.7 381.1 L604.7 381.0 L603.8 380.9 L602.8 380.8 L601.8 380.7 L600.8 380.6 L599.9 380.4 L598.9 380.3 L597.9 380.2 L596.9 380.0 L596.0 379.8 L595.0 379.7 L594.0 379.5 L593.0 379.3 L592.0 379.1 L591.1 378.8 L590.1 378.6 L589.1 378.3 L588.1 378.0 L587.2 377.8 L586.2 377.4 L585.2 377.1 L584.2 376.8 L583.3 376.4 L582.3 376.0 L581.3 375.5 L580.3 375.1 L579.4 374.6 L578.4 374.1 L577.4 373.5 L576.4 372.9 L575.4 372.3 L574.5 371.6 L573.5 370.9 L572.5 370.2 L571.5 369.3 L570.6 368.5 L569.6 367.5 L568.6 366.6 L567.6 365.5 L566.7 364.4 L565.7 363.2 L564.7 361.9 L563.7 360.6 L562.7 359.1 L561.8 357.6 L560.8 356.0 L559.8 354.2 L558.8 352.3 L557.9 350.3 L556.9 348.2 L555.9 346.0 L554.9 343.5 L554.0 341.0 L553.0 338.2 L552.0 335.3 L551.0 332.2 L550.1 328.8 L549.9 328.3 L549.7 327.7 L549.6 327.1 L549.4 326.5 L549.2 325.9 L549.1 325.3 L548.9 324.7 L548.8 324.0 L548.6 323.4 L548.4 322.8 L548.3 322.1 L548.1 321.5 L547.9 320.8 L547.8 320.2 L547.6 319.5 L547.5 318.8 L547.3 318.1 L547.1 322.5 L547.0 326.0 L546.8 328.8 L546.6 331.0 L546.5 332.8 L546.3 334.2 L546.1 335.2 L546.0 336.0 L545.8 336.6 L545.7 336.9 L545.5 337.2 L545.3 337.3 L545.2 337.2 L545.0 337.2 L544.8 337.0 L544.7 336.8 L544.5 336.5 L544.4 336.1 L544.2 335.8 L544.0 335.4 L543.9 335.0 L543.7 334.5 L543.5 334.0 L542.9 332.0 L542.2 329.8 L541.6 327.4 L540.9 324.9 L540.3 322.2 L539.6 319.5 L539.0 316.5 L538.3 313.5 L537.7 310.3 L537.0 307.0 L536.4 303.5 L535.7 299.9 L535.1 296.1 L534.4 292.1 L534.3 291.1 L534.1 290.0 L533.9 289.0 L533.8 287.9 L533.6 286.8 L533.5 285.7 L533.3 284.6 L533.1 283.5 L533.0 282.4 L532.8 281.3 L532.6 280.1 L532.5 279.0 L532.3 277.8 L532.2 276.6 L532.0 275.4 L531.8 274.2 L531.7 272.9 L531.5 271.7 L531.3 279.2 L531.2 285.3 L531.0 290.2 L530.9 294.1 L530.7 297.2 L530.5 299.6 L530.4 301.5 L530.2 302.9 L530.0 303.9 L529.9 304.6 L529.7 305.1 L529.5 305.3 L529.4 305.4 L529.2 305.3 L529.1 305.1 L528.9 304.7 L528.7 304.3 L528.6 303.8 L528.4 303.3 L528.2 302.7 L528.1 302.0 L527.9 301.3 L527.8 300.6 L527.6 299.8 L527.4 299.1 L527.3 298.3 L527.1 297.4 L526.9 296.6 L526.8 295.7 L526.6 294.9 L526.0 291.2 L525.3 287.4 L524.7 283.3 L524.0 279.1 L523.9 278.0 L523.7 276.9 L523.5 275.8 L523.4 274.7 L523.2 273.6 L523.0 272.4 L522.9 271.3 L522.7 270.1 L522.6 269.0 L522.4 267.8 L522.2 266.6 L522.1 265.3 L521.9 264.1 L521.7 262.9 L521.6 261.6 L521.4 260.4 L521.2 259.1 L521.1 257.8 L520.9 256.5 L520.8 255.2 L520.6 253.8 L520.4 252.5 L520.3 251.1 L520.1 249.7 L519.9 248.3 L519.8 246.9 L519.6 245.5 L519.5 253.5 L519.3 266.4 L519.1 277.8 L519.0 288.0 L518.8 297.0 L518.6 304.9 L518.5 312.0 L518.3 318.2 L518.2 323.8 L518.0 328.7 L517.8 333.0 L517.7 336.8 L517.5 340.2 L517.3 343.2 L517.2 345.8 L517.0 348.1 L516.9 350.1 L516.7 351.9 L516.5 353.5 L516.4 354.8 L516.2 356.0 L516.0 357.1 L515.9 358.0 L515.7 358.8 L515.6 359.4 L515.4 360.0 L515.2 360.5 L515.1 360.9 L514.9 361.3 L514.7 361.5 L514.6 361.8 L514.4 362.0 L514.2 362.1 L514.1 362.2 L513.9 362.3 L513.8 362.3 L513.6 362.3 L513.4 362.3 L513.3 362.3 L513.1 362.2 L512.9 362.1 L512.8 362.0 L512.6 361.9 L512.5 361.8 L512.3 361.7 L512.1 361.5 L512.0 361.4 L511.8 361.2 L511.6 361.1 L511.5 360.9 L511.3 360.7 L511.2 360.5 L511.0 360.3 L510.8 360.1 L510.7 359.9 L510.5 359.7 L510.3 359.4 L510.2 359.2 L510.0 359.0 L509.9 358.8 L509.7 358.5 L509.0 357.5 L508.4 356.5 L507.7 355.4 L507.1 354.3 L506.4 353.1 L505.8 351.8 L505.1 350.5 L504.5 349.1 L503.8 347.7 L503.2 346.2 L502.5 344.7 L501.9 343.1 L501.7 342.7 L501.6 342.3 L501.4 341.8 L501.2 341.4 L501.1 341.0 L500.9 340.5 L500.7 340.1 L500.6 339.7 L500.4 339.2 L500.3 338.8 L500.1 338.3 L499.9 337.8 L499.8 337.4 L499.6 336.9 L499.4 336.4 L499.3 335.9 L499.1 335.4 L499.0 334.9 L498.8 334.4 L498.6 333.9 L498.5 333.4 L498.3 332.9 L498.1 332.4 L498.0 331.9 L497.8 331.3 L497.6 330.8 L497.5 330.3 L497.3 329.7 L497.2 336.6 L497.0 342.5 L496.8 347.7 L496.7 352.2 L496.5 356.2 L496.3 359.6 L496.2 362.6 L496.0 365.2 L495.9 367.4 L495.7 369.4 L495.5 371.1 L495.4 372.6 L495.2 373.9 L495.0 375.0 L494.9 376.0 L494.7 376.8 L494.6 377.6 L494.4 378.2 L494.2 378.8 L494.1 379.3 L493.9 379.7 L493.7 380.1 L493.6 380.4 L493.4 380.7 L493.3 380.9 L493.1 381.1 L492.9 381.3 L492.8 381.5 L492.6 381.6 L492.4 381.7 L492.3 381.9 L492.1 381.9 L492.0 382.0 L491.8 382.1 L491.6 382.2 L491.5 382.2 L491.3 382.3 L491.1 382.3 L491.0 382.3 L490.8 382.4 L490.7 382.4 L490.5 382.4 L490.3 382.4 L490.2 382.4 L490.0 382.5 L489.8 382.5 L489.7 382.5 L489.5 382.5 L489.3 382.5 L489.2 382.5 L489.0 382.5 L488.9 382.5 L488.7 382.5 L488.5 382.5 L488.4 382.5 L488.2 382.5 L488.0 382.5 L487.9 382.5 L487.7 382.6 L487.6 382.6 L487.4 382.6 L487.2 382.6 L487.1 382.6 L486.9 382.6 L486.7 382.6 L486.6 382.6 L485.0 382.6 L481.7 382.6 L478.4 382.6 L475.2 382.6 L471.9 382.6 L468.7 382.6 L465.4 382.6 L462.2 382.6 L458.9 382.6 L455.7 382.6 L452.4 382.6 L449.2 382.6 L445.9 382.6 L442.6 382.6 L439.4 382.6 L436.1 382.6 L432.9 382.6 L429.6 382.6 L426.4 382.6 L423.1 382.6 L419.9 382.6 L416.6 382.6Z" fill="#ff0000"/>
<path d="M416.6 373.2 L416.9 380.3 L417.3 381.2 L417.6 377.8 L417.9 380.3 L418.2 378.7 L418.6 379.1 L418.9 383.7 L419.2 377.0 L419.5 377.5 L419.9 380.5 L420.2 376.7 L420.5 374.8 L420.8 378.2 L421.2 378.7 L421.5 379.6 L421.8 374.2 L422.1 375.4 L422.5 374.4 L422.8 377.4 L423.1 372.2 L423.4 377.2 L423.8 380.6 L424.1 372.5 L424.4 377.9 L424.7 382.0 L425.1 379.7 L425.4 382.7 L425.7 374.2 L426.0 378.5 L426.4 377.2 L426.7 374.5 L427.0 383.0 L427.3 372.9 L427.7 381.0 L428.0 378.5 L428.3 380.8 L428.6 373.7 L429.0 371.5 L429.3 376.1 L429.6 372.9 L429.9 376.6 L430.3 377.0 L430.6 379.3 L430.9 379.5 L431.2 378.9 L431.6 374.6 L431.9 369.3 L432.2 375.7 L432.5 378.1 L432.9 373.7 L433.2 377.9 L433.5 377.6 L433.9 377.3 L434.2 377.0 L434.5 375.2 L434.8 377.5 L435.2 374.5 L435.5 377.8 L435.8 375.5 L436.1 380.6 L436.5 383.8 L436.8 378.2 L437.1 373.4 L437.4 378.6 L437.8 379.9 L438.1 381.1 L438.4 381.8 L438.7 377.1 L439.1 378.7 L439.4 374.1 L439.7 380.1 L440.0 379.5 L440.4 375.5 L440.7 373.3 L441.0 376.8 L441.3 374.8 L441.7 373.4 L442.0 375.5 L442.3 379.9 L442.6 374.3 L443.0 374.9 L443.3 379.0 L443.6 382.0 L443.9 377.2 L444.3 379.7 L444.6 380.0 L444.9 374.2 L445.2 373.9 L445.6 377.1 L445.9 375.1 L446.2 374.7 L446.5 376.3 L446.9 378.2 L447.2 379.3 L447.5 377.6 L447.8 371.0 L448.2 373.7 L448.5 376.3 L448.8 377.7 L449.2 378.6 L449.5 377.9 L449.8 376.8 L450.1 380.8 L450.5 377.0 L450.8 380.8 L451.1 375.4 L451.4 380.1 L451.8 374.7 L452.1 379.6 L452.4 380.4 L452.7 378.2 L453.1 374.5 L453.4 374.6 L453.7 378.6 L454.0 376.2 L454.4 377.6 L454.7 379.4 L455.0 378.9 L455.3 369.7 L455.7 374.7 L456.0 375.2 L456.3 371.4 L456.6 376.8 L457.0 377.8 L457.3 376.2 L457.6 374.9 L457.9 373.4 L458.3 374.1 L458.6 376.2 L458.9 377.9 L459.2 378.4 L459.6 379.7 L459.9 378.4 L460.2 379.9 L460.5 383.3 L460.9 376.4 L461.2 380.3 L461.5 381.1 L461.8 373.6 L462.2 378.5 L462.5 376.9 L462.8 378.8 L463.1 381.8 L463.5 382.6 L463.8 380.2 L464.1 378.9 L464.4 381.8 L464.8 380.1 L465.1 381.8 L465.4 375.9 L465.8 383.9 L466.1 377.3 L466.4 374.0 L466.7 375.2 L467.1 375.4 L467.4 382.2 L467.7 376.5 L468.0 374.7 L468.4 373.9 L468.7 379.6 L469.0 375.9 L469.3 371.6 L469.7 379.3 L470.0 372.4 L470.3 369.8 L470.6 375.8 L471.0 374.1 L471.3 375.6 L471.6 375.7 L471.9 376.4 L472.3 376.4 L472.6 376.1 L472.9 374.9 L473.2 380.2 L473.6 379.7 L473.9 376.6 L474.2 376.7 L474.5 383.2 L474.9 378.2 L475.2 380.1 L475.5 378.8 L475.8 379.7 L476.2 377.1 L476.5 380.6 L476.8 383.2 L477.1 382.7 L477.5 375.4 L477.8 376.5 L478.1 375.0 L478.4 376.8 L478.8 379.8 L479.1 376.3 L479.4 380.7 L479.7 383.5 L480.1 371.3 L480.4 380.1 L480.7 375.6 L481.0 375.1 L481.4 376.0 L481.7 379.1 L482.0 376.3 L482.4 379.9 L482.7 380.0 L483.0 375.4 L483.3 373.9 L483.7 376.6 L484.0 375.0 L484.3 376.4 L484.6 376.3 L485.0 382.4 L485.3 378.2 L485.6 377.9 L485.9 380.5 L486.3 378.9 L486.6 382.8 L486.9 382.8 L487.2 380.8 L487.6 380.6 L487.9 377.3 L488.2 378.0 L488.5 375.4 L488.9 379.4 L489.2 377.2 L489.5 378.0 L489.8 375.6 L490.2 373.5 L490.5 376.4 L490.8 373.6 L491.1 370.5 L491.5 374.7 L491.8 376.8 L492.1 371.2 L492.4 372.1 L492.8 370.5 L493.1 373.2 L493.4 372.8 L493.7 380.3 L494.1 377.0 L494.4 373.0 L494.7 372.2 L495.0 374.8 L495.4 362.2 L495.7 363.2 L496.0 355.6 L496.3 354.3 L496.7 339.6 L497.0 331.8 L497.3 311.4 L497.6 322.5 L498.0 321.9 L498.3 324.1 L498.6 326.8 L499.0 326.0 L499.3 327.7 L499.6 329.1 L499.9 333.9 L500.3 336.7 L500.6 336.0 L500.9 334.1 L501.2 334.3 L501.6 336.2 L501.9 342.7 L502.2 337.2 L502.5 334.8 L502.9 336.3 L503.2 340.6 L503.5 339.4 L503.8 344.3 L504.2 341.0 L504.5 341.8 L504.8 337.8 L505.1 342.8 L505.5 347.2 L505.8 342.7 L506.1 343.4 L506.4 346.9 L506.8 349.3 L507.1 352.7 L507.4 344.4 L507.7 349.2 L508.1 355.7 L508.4 355.6 L508.7 352.0 L509.0 349.7 L509.4 352.7 L509.7 352.2 L510.0 356.4 L510.3 355.6 L510.7 354.0 L511.0 356.7 L511.3 359.5 L511.6 355.9 L512.0 363.1 L512.3 359.5 L512.6 355.2 L512.9 353.3 L513.3 358.7 L513.6 353.7 L513.9 359.0 L514.2 355.9 L514.6 358.0 L514.9 359.9 L515.2 356.6 L515.6 351.3 L515.9 357.2 L516.2 354.3 L516.5 348.4 L516.9 349.3 L517.2 347.2 L517.5 335.8 L517.8 332.5 L518.2 313.1 L518.5 303.8 L518.8 291.7 L519.1 270.2 L519.5 236.7 L519.8 237.1 L520.1 248.3 L520.4 249.1 L520.8 249.8 L521.1 250.3 L521.4 246.8 L521.7 243.0 L522.1 243.5 L522.4 249.9 L522.7 259.6 L523.0 255.4 L523.4 261.9 L523.7 267.3 L524.0 271.2 L524.3 272.9 L524.7 275.1 L525.0 280.4 L525.3 280.9 L525.6 288.1 L526.0 287.0 L526.3 293.8 L526.6 292.5 L526.9 295.0 L527.3 292.4 L527.6 302.6 L527.9 304.3 L528.2 302.2 L528.6 305.7 L528.9 304.7 L529.2 301.9 L529.5 298.5 L529.9 293.8 L530.2 299.4 L530.5 286.6 L530.9 283.8 L531.2 279.6 L531.5 268.2 L531.8 263.7 L532.2 264.6 L532.5 274.1 L532.8 272.6 L533.1 274.4 L533.5 278.2 L533.8 275.9 L534.1 276.8 L534.4 281.5 L534.8 280.7 L535.1 283.7 L535.4 286.7 L535.7 284.5 L536.1 286.2 L536.4 290.8 L536.7 294.7 L537.0 290.7 L537.4 301.6 L537.7 297.8 L538.0 295.7 L538.3 302.4 L538.7 308.8 L539.0 312.1 L539.3 308.5 L539.6 314.6 L540.0 312.5 L540.3 314.2 L540.6 318.9 L540.9 321.3 L541.3 321.0 L541.6 327.1 L541.9 325.4 L542.2 323.0 L542.6 323.6 L542.9 322.1 L543.2 327.3 L543.5 325.6 L543.9 325.3 L544.2 331.3 L544.5 330.6 L544.8 333.0 L545.2 324.3 L545.5 327.5 L545.8 325.7 L546.1 323.6 L546.5 321.7 L546.8 319.8 L547.1 314.0 L547.5 316.4 L547.8 311.3 L548.1 316.0 L548.4 321.5 L548.8 313.6 L549.1 322.4 L549.4 319.7 L549.7 322.8 L550.1 318.7 L550.4 321.1 L550.7 325.7 L551.0 328.5 L551.4 324.7 L551.7 322.6 L552.0 327.6 L552.3 329.5 L552.7 331.0 L553.0 341.8 L553.3 337.8 L553.6 339.9 L554.0 334.4 L554.3 340.5 L554.6 341.9 L554.9 341.9 L555.3 346.6 L555.6 340.2 L555.9 342.5 L556.2 340.2 L556.6 341.2 L556.9 340.3 L557.2 346.4 L557.5 341.8 L557.9 343.8 L558.2 349.6 L558.5 345.2 L558.8 346.3 L559.2 348.1 L559.5 350.7 L559.8 350.8 L560.1 348.1 L560.5 344.0 L560.8 353.2 L561.1 350.7 L561.4 352.6 L561.8 349.9 L562.1 350.1 L562.4 350.2 L562.7 361.0 L563.1 357.6 L563.4 356.4 L563.7 357.0 L564.1 358.3 L564.4 359.6 L564.7 355.6 L565.0 351.7 L565.4 366.8 L565.7 360.3 L566.0 361.0 L566.3 359.0 L566.7 360.9 L567.0 365.8 L567.3 365.1 L567.6 358.3 L568.0 355.9 L568.3 357.9 L568.6 363.0 L568.9 361.4 L569.3 360.5 L569.6 360.8 L569.9 362.8 L570.2 366.3 L570.6 365.6 L570.9 366.7 L571.2 361.1 L571.5 360.2 L571.9 366.3 L572.2 361.6 L572.5 364.4 L572.8 360.8 L573.2 362.8 L573.5 367.7 L573.8 362.9 L574.1 367.9 L574.5 370.7 L574.8 370.3 L575.1 368.7 L575.4 367.8 L575.8 365.7 L576.1 369.6 L576.4 367.4 L576.7 366.9 L577.1 372.3 L577.4 374.1 L577.7 367.5 L578.0 366.4 L578.4 372.1 L578.7 375.9 L579.0 369.1 L579.4 367.4 L579.7 374.7 L580.0 368.0 L580.3 371.0 L580.7 374.0 L581.0 369.9 L581.3 375.7 L581.6 371.4 L582.0 368.3 L582.3 372.1 L582.6 374.7 L582.9 377.1 L583.3 377.3 L583.6 378.1 L583.9 369.6 L584.2 376.3 L584.6 377.4 L584.9 377.5 L585.2 377.0 L585.5 377.3 L585.9 377.1 L586.2 368.1 L586.5 373.6 L586.8 373.7 L587.2 373.1 L587.5 369.7 L587.8 371.2 L588.1 372.2 L588.5 371.9 L588.8 371.5 L589.1 373.3 L589.4 375.1 L589.8 378.0 L590.1 377.0 L590.4 372.5 L590.7 375.8 L591.1 372.2 L591.4 373.2 L591.7 377.4 L592.0 372.9 L592.4 371.5 L592.7 370.8 L593.0 368.0 L593.3 377.3 L593.7 374.9 L594.0 370.5 L594.3 371.5 L594.6 373.0 L595.0 372.7 L595.3 376.1 L595.6 373.4 L596.0 377.3 L596.3 374.2 L596.6 374.6 L596.9 375.5 L597.3 371.4 L597.6 372.1 L597.9 376.2 L598.2 376.3 L598.6 371.5 L598.9 373.3 L599.2 378.5 L599.5 375.9 L599.9 379.1 L600.2 364.6 L600.5 367.8 L600.8 371.2 L601.2 373.9 L601.5 373.2 L601.8 371.4 L602.1 373.1 L602.5 371.0 L602.8 375.5 L603.1 373.3 L603.4 381.7 L603.8 381.4 L604.1 375.8 L604.4 372.1 L604.7 376.7 L605.1 378.0 L605.4 373.7 L605.7 375.1 L606.0 369.9 L606.4 371.7 L606.7 370.4 L607.0 373.2 L607.3 376.5 L607.7 372.6 L608.0 370.9 L608.3 374.2 L608.6 373.5 L609.0 369.9 L609.3 372.9 L609.6 368.2 L609.9 371.5 L610.3 372.1 L610.6 369.6 L610.9 371.8 L611.2 365.3 L611.6 373.5 L611.9 374.2 L612.2 378.5 L612.6 379.6 L612.9 378.6 L613.2 371.6 L613.5 376.8 L613.9 373.6 L614.2 371.6 L614.5 374.3 L614.8 369.7 L615.2 373.8 L615.5 370.8 L615.8 372.7 L616.1 370.8 L616.5 378.2 L616.8 374.6 L617.1 377.1 L617.4 378.3 L617.8 374.1 L618.1 376.1 L618.4 375.4 L618.7 373.0 L619.1 373.4 L619.4 376.7 L619.7 373.4 L620.0 374.3 L620.4 377.3 L620.7 373.3 L621.0 378.2 L621.3 372.9 L621.7 375.9 L622.0 374.9 L622.3 369.3 L622.6 374.5 L623.0 373.1 L623.3 378.7 L623.6 379.7 L623.9 380.9 L624.3 376.3 L624.6 374.7 L624.9 377.4 L625.2 376.8 L625.6 378.9 L625.9 379.7 L626.2 377.6 L626.5 376.4 L626.9 376.6 L627.2 378.3 L627.5 379.6 L627.8 380.0 L628.2 378.1 L628.5 377.4 L628.8 381.3 L629.2 379.1 L629.5 376.3 L629.8 379.5 L630.1 379.9 L630.5 381.5 L630.8 372.5 L631.1 385.3 L631.4 382.0 L631.8 379.5 L632.1 373.1 L632.4 377.5 L632.7 380.4 L633.1 382.2 L633.4 378.0 L633.7 377.6 L634.0 382.1 L634.4 382.0 L634.7 381.8 L635.0 377.4 L635.3 378.3 L635.7 380.5 L636.0 381.0 L636.3 385.6 L636.6 380.4 L637.0 381.4 L637.3 377.0 L637.6 376.1 L637.9 380.2 L638.3 381.7 L638.6 375.4 L638.9 375.7 L639.2 379.4 L639.6 385.9 L639.9 379.4 L640.2 377.0 L640.5 374.3 L640.9 383.5 L641.2 381.7 L641.5 381.3 L641.8 380.5 L642.2 383.5 L642.5 380.0 L642.8 381.0 L643.1 379.7 L643.5 380.5 L643.8 376.1 L644.1 379.3 L644.5 376.5 L644.8 374.5 L645.1 372.7 L645.4 379.2 L645.8 376.2 L646.1 373.6 L646.4 373.7 L646.7 357.8 L647.1 362.6 L647.4 363.5 L647.7 369.6 L648.0 370.7 L648.4 366.9 L648.7 364.9 L649.0 372.2 L649.3 373.1 L649.7 377.6 L650.0 378.3 L650.3 370.0 L650.6 367.2 L651.0 377.5 L651.3 374.8 L651.6 377.6 L651.9 372.3 L652.3 372.9 L652.6 376.9 L652.9 375.4 L653.2 370.2 L653.6 377.3 L653.9 381.8 L654.2 380.0 L654.5 383.9 L654.9 375.0 L655.2 377.9 L655.5 373.0 L655.8 373.1 L656.2 376.9 L656.5 376.2 L656.8 373.9 L657.1 375.6 L657.5 371.3 L657.8 376.3 L658.1 370.6 L658.4 375.9 L658.8 381.5 L659.1 377.2 L659.4 375.2 L659.7 369.6 L660.1 377.8 L660.4 383.4 L660.7 373.9 L661.1 376.8 L661.4 374.2 L661.7 376.1 L662.0 378.6 L662.4 372.8 L662.7 378.6 L663.0 379.1 L663.3 379.9 L663.7 376.1 L664.0 379.7 L664.3 375.9 L664.6 376.9 L665.0 376.4 L665.3 376.6 L665.6 373.7 L665.9 372.7 L666.3 376.1 L666.6 381.3 L666.9 380.8 L667.2 378.3 L667.6 380.4 L667.9 379.2 L668.2 376.3 L668.5 382.0 L668.9 375.0 L669.2 376.6 L669.5 379.9 L669.8 377.5 L670.2 377.2 L670.5 381.2 L670.8 383.7 L671.1 378.6 L671.5 380.9 L671.8 382.4 L672.1 382.0 L672.4 378.2 L672.8 382.4 L673.1 382.0 L673.4 378.7 L673.7 382.5 L674.1 381.7 L674.4 382.9 L674.7 382.2 L675.0 381.1 L675.4 381.3 L675.7 378.5 L676.0 382.9 L676.3 383.2 L676.7 381.5 L677.0 380.7 L677.3 381.7 L677.7 384.2 L678.0 378.4 L678.3 378.5 L678.6 378.9 L679.0 379.9 L679.3 382.1 L679.6 382.3 L679.9 379.8 L680.3 378.5 L680.6 377.7 L680.9 379.8 L681.2 377.4 L681.6 378.9 L681.9 381.0 L682.2 378.3 L682.5 377.9 L682.9 375.0 L683.2 377.5 L683.5 376.7 L683.8 381.8 L684.2 378.3 L684.5 385.7 L684.8 380.4 L685.1 380.9 L685.5 376.5 L685.8 380.0 L686.1 380.7 L686.4 381.3 L686.8 382.1 L687.1 379.1 L687.4 379.9 L687.7 379.2 L688.1 381.8 L688.4 380.2 L688.7 376.6 L689.0 386.2 L689.4 384.6 L689.7 378.6 L690.0 380.5 L690.3 381.0 L690.7 378.0 L691.0 383.6 L691.3 380.6 L691.6 377.5 L692.0 376.5 L692.3 386.0 L692.6 378.8 L692.9 377.5 L693.3 384.6 L693.6 384.5 L693.9 376.4 L694.3 383.0 L694.6 381.2 L694.9 383.4 L695.2 387.7 L695.6 387.1 L695.9 387.1 L696.2 387.1 L696.5 387.1 L696.9 387.1 L697.2 387.1 L697.5 387.1 L697.8 387.1 L698.2 387.1" fill="none" stroke="#000" stroke-width="0.62" stroke-linejoin="round"/>
</g>
<path d="M416.60 391.10v-3.30M416.60 226.30v3.30M432.88 391.10v-1.65M432.88 226.30v1.65M449.15 391.10v-1.65M449.15 226.30v1.65M465.43 391.10v-1.65M465.43 226.30v1.65M481.70 391.10v-3.30M481.70 226.30v3.30M497.98 391.10v-1.65M497.98 226.30v1.65M514.25 391.10v-1.65M514.25 226.30v1.65M530.52 391.10v-1.65M530.52 226.30v1.65M546.80 391.10v-3.30M546.80 226.30v3.30M563.08 391.10v-1.65M563.08 226.30v1.65M579.35 391.10v-1.65M579.35 226.30v1.65M595.62 391.10v-1.65M595.62 226.30v1.65M611.90 391.10v-3.30M611.90 226.30v3.30M628.18 391.10v-1.65M628.18 226.30v1.65M644.45 391.10v-1.65M644.45 226.30v1.65M660.73 391.10v-1.65M660.73 226.30v1.65M677.00 391.10v-3.30M677.00 226.30v3.30M693.28 391.10v-1.65M693.28 226.30v1.65M416.60 387.70h5.91M697.80 387.70h-5.91M416.60 380.15h2.95M697.80 380.15h-2.95M416.60 372.60h2.95M697.80 372.60h-2.95M416.60 365.05h2.95M697.80 365.05h-2.95M416.60 357.50h5.91M697.80 357.50h-5.91M416.60 349.95h2.95M697.80 349.95h-2.95M416.60 342.40h2.95M697.80 342.40h-2.95M416.60 334.85h2.95M697.80 334.85h-2.95M416.60 327.30h5.91M697.80 327.30h-5.91M416.60 319.75h2.95M697.80 319.75h-2.95M416.60 312.20h2.95M697.80 312.20h-2.95M416.60 304.65h2.95M697.80 304.65h-2.95M416.60 297.10h5.91M697.80 297.10h-5.91M416.60 289.55h2.95M697.80 289.55h-2.95M416.60 282.00h2.95M697.80 282.00h-2.95M416.60 274.45h2.95M697.80 274.45h-2.95M416.60 266.90h5.91M697.80 266.90h-5.91M416.60 259.35h2.95M697.80 259.35h-2.95M416.60 251.80h2.95M697.80 251.80h-2.95M416.60 244.25h2.95M697.80 244.25h-2.95M416.60 236.70h5.91M697.80 236.70h-5.91M416.60 229.15h2.95M697.80 229.15h-2.95" stroke="#222" stroke-width="0.8" fill="none"/>
<rect x="416.60" y="226.30" width="281.20" height="164.80" fill="none" stroke="#444" stroke-width="1"/>
<text x="416.6" y="401.4" text-anchor="middle">0</text>
<text x="481.7" y="401.4" text-anchor="middle">200</text>
<text x="546.8" y="401.4" text-anchor="middle">400</text>
<text x="611.9" y="401.4" text-anchor="middle">600</text>
<text x="677.0" y="401.4" text-anchor="middle">800</text>
<text x="556.9" y="408.9" text-anchor="middle">time (min)</text>
<text x="414.8" y="390.0" text-anchor="end">0.0</text>
<text x="414.8" y="359.8" text-anchor="end">0.2</text>
<text x="414.8" y="329.6" text-anchor="end">0.4</text>
<text x="414.8" y="299.4" text-anchor="end">0.6</text>
<text x="414.8" y="269.2" text-anchor="end">0.8</text>
<text x="414.8" y="239.0" text-anchor="end">1.0</text>
<text transform="translate(398.0 308.7) rotate(-90)" text-anchor="middle" font-size="8">flux</text>
<text x="557.2" y="221.9" class="t" text-anchor="middle" font-size="9.5" fill="#000">KIC 12156549</text>
<text x="434.2" y="242.4">σ<tspan font-size="4.3" dy="1.5">n</tspan><tspan dy="-1.5"> = 0.028</tspan></text>
<path d="M636.0 242.3h26.6" stroke="#ff6060" stroke-width="1.5" fill="none"/>
<text x="670.8" y="245.3">1σ</text>
<path d="M636.0 251.8h26.6" stroke="#ffff40" stroke-width="1.5" fill="none"/>
<text x="670.8" y="254.8">2σ</text>
<path d="M636.0 261.3h26.6" stroke="#eeeeee" stroke-width="1.5" fill="none"/>
<text x="670.8" y="264.3">3σ</text>
</svg>
</body></html>
